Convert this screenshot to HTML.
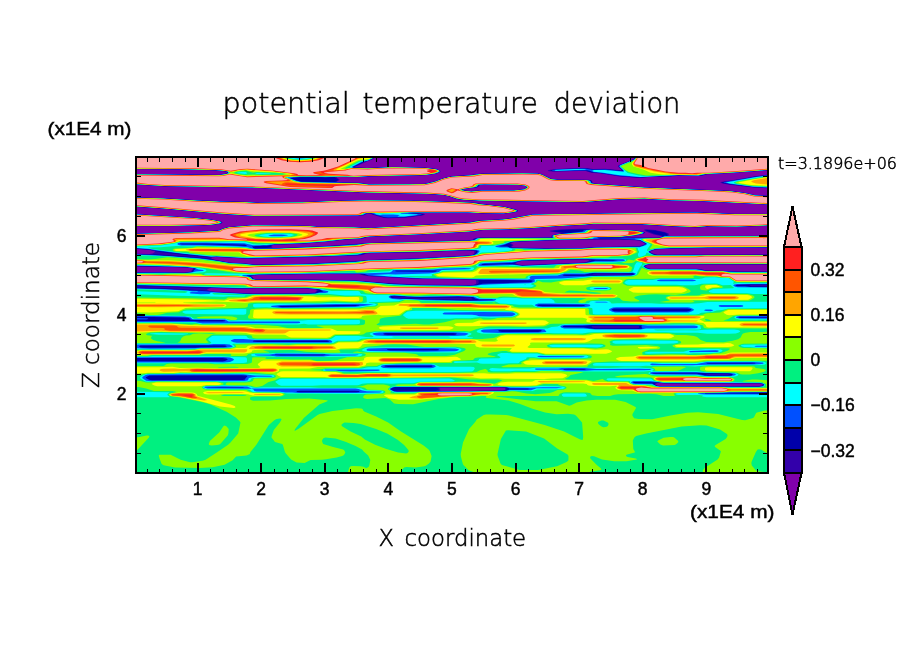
<!DOCTYPE html>
<html><head><meta charset="utf-8"><title>potential temperature deviation</title>
<style>
html,body{margin:0;padding:0;background:#fff;width:904px;height:654px;overflow:hidden}
svg{display:block}
text{font-family:"Liberation Sans",sans-serif;fill:#000}
</style></head><body>
<svg width="904" height="654" viewBox="0 0 904 654" shape-rendering="crispEdges">
<g id="plot"><defs><clipPath id="pc"><rect x="137" y="158" width="630" height="314"/></clipPath></defs><g clip-path="url(#pc)" shape-rendering="auto"><rect x="135" y="156" width="634" height="318" fill="#8000aa"/>
<path fill="#3300aa" fill-rule="evenodd" d="M135.6 156.1 374.5 156.1 374.4 157.6 373.1 158.9 354.5 167.1 367.1 167.9 392.1 166.8 425.1 167.5 436.6 168.9 440.1 170.5 440.6 171.6 438.6 172.9 435.1 173.9 427.6 175.0 421.1 175.5 368.1 176.6 358.1 177.3 337.2 177.1 336.6 177.6 339.7 179.6 339.6 180.1 337.0 181.6 337.0 182.1 360.1 182.8 369.6 184.2 424.6 183.7 433.7 181.6 445.6 177.4 453.1 176.0 469.9 175.1 476.1 173.9 482.1 173.5 522.6 173.0 538.1 173.3 542.1 174.3 551.6 178.8 557.1 179.4 583.1 179.5 589.1 179.8 591.7 180.6 592.9 183.1 595.0 183.6 644.1 187.2 730.6 190.8 745.6 192.8 755.1 195.1 768.6 195.7 768.6 204.8 693.6 201.1 672.6 200.8 644.6 199.0 618.6 199.6 584.1 202.5 480.1 201.0 462.6 200.0 456.1 198.9 449.5 196.6 442.8 195.1 426.6 194.1 369.1 193.0 257.1 188.1 164.1 186.5 135.1 184.7 135.1 174.0 219.6 174.7 226.2 173.6 227.1 172.6 226.9 172.1 225.7 171.6 216.1 170.6 179.1 169.5 135.1 169.3 135.1 156.1ZM480.0 185.1 479.0 186.6 477.1 187.5 466.8 188.6 462.6 189.6 463.0 190.1 465.0 190.6 470.6 191.1 480.6 190.3 504.6 190.5 514.6 190.2 523.7 189.1 525.9 188.1 526.5 187.1 525.0 186.1 523.3 185.6 517.6 185.1 485.6 184.8ZM635.6 156.1 768.6 156.1 768.6 170.3 733.6 172.9 707.1 174.4 703.1 175.5 699.1 176.0 679.6 175.7 670.1 176.4 650.1 177.0 639.6 178.0 619.1 176.4 601.1 173.5 591.1 172.7 585.6 171.0 579.1 170.9 554.6 171.6 548.6 171.2 547.6 170.6 549.1 170.0 556.1 168.9 581.1 168.1 586.6 168.1 593.1 169.0 605.1 168.8 621.1 170.2 621.2 169.6 618.1 166.6 618.3 165.6 633.7 159.1 634.9 158.1 635.2 156.1ZM764.1 175.1 768.6 174.7 768.6 188.3 753.1 187.5 729.6 184.7 722.1 183.4 720.3 182.6 720.7 182.1 722.6 181.7 742.6 178.6 755.1 176.2ZM135.6 197.2 162.6 198.0 196.6 200.2 219.6 201.2 246.6 201.8 256.6 202.4 301.6 202.0 340.6 200.5 368.1 200.0 415.1 200.5 470.6 202.3 476.6 202.8 482.9 204.1 491.1 204.8 505.6 206.8 516.6 209.7 518.1 210.6 518.2 211.1 517.1 211.8 515.1 212.3 503.6 213.8 481.6 213.5 469.1 212.8 418.6 213.1 418.1 213.1 424.1 213.8 425.2 214.6 422.6 215.5 405.6 217.7 388.1 218.3 383.6 217.9 372.6 214.8 369.9 213.6 368.6 213.5 367.6 213.6 364.1 215.3 358.1 215.8 253.6 216.2 219.6 213.9 166.4 209.1 135.1 206.8 135.1 197.2ZM666.1 212.6 698.1 212.2 734.6 213.7 768.6 213.7 768.6 225.8 737.1 227.0 707.1 226.7 700.1 227.5 695.6 227.5 671.6 226.5 642.1 224.6 593.6 224.1 585.6 225.0 562.6 226.1 530.6 228.5 504.1 229.8 483.6 230.1 471.6 231.8 418.1 234.7 370.1 236.9 367.6 237.1 363.1 238.4 346.9 239.6 325.1 241.9 306.6 243.4 273.6 245.1 272.1 245.6 272.2 246.6 271.6 247.6 273.6 248.0 279.1 248.0 324.6 246.1 371.6 242.8 469.6 240.2 472.8 239.6 473.8 238.6 475.1 238.0 480.1 237.5 550.1 237.4 551.5 237.1 551.2 236.1 552.1 235.2 560.3 233.6 561.2 233.1 551.1 231.7 549.4 231.1 550.4 230.6 559.6 229.6 579.6 228.8 634.6 230.3 644.1 231.7 645.1 232.1 645.3 232.6 644.6 233.3 643.1 233.9 636.1 235.5 623.1 237.1 625.6 237.6 658.1 237.6 660.6 237.3 661.7 236.6 661.1 236.0 653.6 234.4 645.6 231.4 644.0 230.1 644.6 229.5 646.1 229.2 655.1 230.1 664.6 232.0 668.5 233.6 669.0 234.1 668.2 235.6 670.1 235.9 768.6 235.7 768.6 247.9 708.1 248.0 671.1 248.7 655.6 249.5 650.3 251.6 650.6 252.4 653.0 253.6 657.1 254.6 768.6 254.6 768.6 264.4 651.1 264.4 647.6 265.1 645.4 266.1 645.1 266.6 647.7 268.1 650.6 268.8 697.1 268.8 702.1 269.3 705.1 270.3 708.1 270.6 722.6 270.7 737.1 271.4 768.6 271.4 768.6 473.6 135.1 473.6 135.1 272.1 164.1 272.1 184.6 272.5 191.3 271.6 191.8 270.1 193.2 269.1 193.1 268.6 191.6 268.3 184.6 267.5 135.1 266.4 135.1 253.8 149.6 254.1 152.6 253.4 154.9 252.1 154.9 251.6 154.2 251.1 149.1 249.9 135.1 248.8 135.1 233.5 190.1 231.9 217.1 230.4 219.1 230.1 222.6 228.5 228.6 226.9 252.6 224.9 300.6 225.5 310.1 225.8 317.1 226.5 353.6 227.0 370.6 227.7 470.1 222.1 475.1 220.9 478.6 220.5 503.6 219.1 511.9 218.1 532.6 214.3ZM582.9 239.6 530.3 241.1 513.8 242.1 510.6 243.1 513.5 245.1 513.3 245.6 511.8 246.6 511.9 247.1 513.1 247.4 545.1 248.1 582.6 248.0 594.6 246.9 638.6 246.2 643.6 244.7 644.7 244.1 644.8 243.6 639.7 240.6 635.1 240.2 618.1 239.6ZM465.8 250.6 411.6 252.5 370.6 253.2 366.1 253.6 363.1 254.9 358.1 255.5 316.6 256.9 247.1 258.7 215.6 257.0 212.1 257.5 211.2 258.1 211.6 258.8 214.0 259.6 229.6 262.4 246.6 263.4 254.6 264.4 306.1 263.8 354.6 261.1 368.1 259.9 416.6 258.3 466.6 255.6 471.5 255.1 473.1 254.6 473.7 254.1 474.5 252.1 474.1 251.1 472.6 250.7ZM576.9 259.6 521.6 261.1 519.1 261.6 515.6 263.1 517.0 264.1 522.1 265.1 583.6 262.5 586.4 262.1 589.0 260.6 588.7 260.1 586.6 259.6ZM324.6 274.1 258.6 275.1 252.3 275.6 251.1 276.1 252.6 277.2 254.1 279.1 256.6 279.4 311.1 279.6 354.1 280.3 386.4 283.1 420.1 284.6 470.6 285.1 473.6 284.8 475.5 284.1 476.1 283.6 476.3 282.6 476.1 280.6 475.0 280.1 472.1 279.8 415.6 278.8 369.1 276.3 364.6 275.7 359.1 274.2ZM211.0 288.1 207.8 289.1 207.3 289.6 207.4 290.1 210.1 291.1 213.8 291.6 252.6 293.5 309.6 293.1 315.4 292.6 316.0 291.1 317.2 290.1 315.1 289.4 305.1 288.5 256.1 288.4 242.6 288.9ZM658.0 383.1 656.1 383.7 655.4 384.1 655.4 384.6 657.1 385.6 660.1 386.0 733.1 386.1 759.3 386.1 761.8 385.6 762.9 384.6 760.8 383.6 758.6 383.5 664.6 383.5ZM439.8 387.6 439.3 388.1 440.3 389.1 439.2 390.6 441.6 391.0 470.1 391.0 481.1 390.6 502.6 390.5 505.2 390.1 504.8 389.1 505.2 388.1 504.6 387.6 503.1 387.5ZM135.6 214.0 196.6 217.8 211.1 219.4 220.6 221.3 222.1 221.9 222.6 222.6 221.6 223.4 219.6 223.9 211.6 225.0 204.6 225.5 169.6 226.3 135.1 226.3 135.1 214.0Z"/>
<path fill="#0000aa" fill-rule="evenodd" d="M135.6 156.1 374.1 156.1 373.9 157.6 372.6 158.9 364.2 162.1 353.4 167.1 354.9 167.6 367.1 168.1 392.1 167.0 425.6 167.7 436.1 169.1 439.6 170.5 440.2 171.6 438.1 172.8 434.6 173.8 426.6 174.9 420.6 175.3 393.6 176.1 378.6 176.1 358.6 177.0 336.6 176.9 335.3 177.1 334.9 177.6 338.5 179.6 338.3 180.1 335.5 181.6 335.4 182.1 338.5 182.6 359.6 183.0 369.1 184.4 424.1 183.9 434.4 181.6 443.1 178.4 452.1 176.3 470.1 175.3 481.6 173.7 522.1 173.2 537.6 173.4 541.6 174.4 550.0 178.6 551.8 179.1 557.1 179.7 587.1 179.9 590.8 180.6 591.4 181.1 592.0 183.1 595.1 183.8 649.6 187.6 730.1 191.0 744.6 192.9 755.1 195.3 768.6 195.9 768.6 204.6 700.1 201.1 672.1 200.5 644.6 198.8 619.1 199.4 583.6 202.3 480.6 200.8 463.6 199.9 457.1 198.9 450.2 196.6 443.6 195.1 426.6 193.9 369.6 192.8 249.7 187.6 164.6 186.3 135.1 184.5 135.1 174.2 192.6 174.4 219.1 174.9 226.1 173.8 227.1 173.4 227.6 172.6 227.5 172.1 226.6 171.6 221.1 170.7 209.1 170.1 179.1 169.3 135.1 169.1 135.1 156.1ZM481.3 184.6 479.0 185.1 478.1 186.6 476.6 187.3 465.3 188.6 461.9 189.6 462.3 190.1 464.1 190.6 470.6 191.3 481.1 190.5 504.6 190.7 514.1 190.4 524.1 189.2 526.3 188.1 526.9 187.1 524.1 185.6 517.6 184.9ZM635.6 156.1 768.6 156.1 768.6 170.1 732.6 172.8 706.6 174.1 702.6 175.3 698.6 175.8 678.6 175.5 669.6 176.2 650.1 176.7 639.6 177.7 620.1 176.2 600.6 173.1 592.1 172.4 586.1 170.7 555.6 171.3 552.1 171.2 549.8 170.6 556.1 169.2 581.6 168.3 586.6 168.5 592.6 169.3 605.1 169.1 621.6 170.7 622.1 170.6 622.2 170.1 618.6 166.6 618.9 165.6 634.1 159.2 635.3 158.1ZM767.1 175.1 768.6 175.0 768.6 188.0 754.1 187.3 729.1 184.3 722.6 183.1 721.6 182.6 723.1 182.0 743.6 178.8 755.1 176.6ZM135.6 197.4 163.1 198.2 202.6 200.6 246.1 202.0 256.1 202.7 302.1 202.2 332.6 200.9 367.6 200.2 415.6 200.7 470.1 202.4 476.1 203.0 481.1 204.1 504.6 206.9 516.1 209.8 517.6 210.6 517.6 211.1 515.6 212.0 503.6 213.6 481.6 213.3 469.6 212.6 414.1 212.8 411.6 213.1 422.1 213.9 424.1 214.6 421.6 215.3 405.6 217.3 388.1 217.9 384.1 217.6 369.1 213.2 366.3 213.6 364.1 214.9 358.6 215.5 253.1 216.0 220.1 213.8 162.8 208.6 135.1 206.6 135.1 197.4ZM689.1 212.6 699.1 212.5 735.1 213.9 768.6 213.9 768.6 225.6 736.6 226.8 706.6 226.5 699.6 227.3 695.6 227.3 672.1 226.3 641.6 224.4 593.6 223.9 585.1 224.8 559.0 226.1 530.6 228.3 504.6 229.5 484.1 229.9 480.1 230.2 474.1 231.3 468.1 231.8 418.6 234.5 370.0 236.6 366.6 237.1 364.1 238.0 361.1 238.4 344.6 239.6 323.1 241.8 303.1 243.4 273.1 244.8 271.1 245.3 270.7 245.6 271.0 246.6 270.1 247.2 266.7 248.1 279.6 248.3 330.1 246.1 372.1 243.0 469.1 240.5 472.7 240.1 475.6 238.4 480.1 237.7 551.1 237.6 552.4 237.1 551.7 236.1 553.1 235.1 566.0 233.1 554.4 231.6 552.8 231.1 559.9 230.1 580.1 229.4 630.1 230.2 637.6 230.9 643.6 232.0 644.6 232.6 644.3 233.1 642.6 233.8 634.6 235.5 619.6 237.3 612.1 237.6 614.1 237.8 658.6 237.8 661.6 237.2 662.7 236.1 661.6 235.4 654.7 234.1 647.1 231.1 645.5 230.1 646.6 229.9 654.9 230.6 664.6 232.6 667.7 234.1 666.7 235.6 669.1 236.2 768.6 235.9 768.6 247.6 708.1 247.7 670.6 248.5 655.6 249.3 651.4 250.6 649.6 251.6 650.3 252.6 653.3 254.1 657.1 254.9 768.6 254.8 768.6 264.2 651.1 264.1 647.9 264.6 645.5 265.6 644.5 266.6 647.1 268.2 650.6 269.0 696.6 269.1 700.1 269.4 704.9 270.6 707.1 270.8 722.6 270.9 737.1 271.7 768.6 271.7 768.6 285.0 751.1 285.1 749.1 285.6 751.1 286.2 768.6 286.2 768.6 473.6 135.1 473.6 135.1 287.4 165.6 288.2 188.6 289.4 204.6 290.4 210.6 291.6 215.1 292.0 252.1 293.8 300.1 293.7 314.6 293.1 316.7 292.6 317.3 291.1 319.1 290.1 315.6 289.1 305.1 288.2 256.1 288.1 242.6 288.5 213.1 287.7 205.6 288.3 160.6 286.6 135.1 286.1 135.1 272.4 164.6 272.4 185.1 272.8 192.1 271.7 192.7 270.1 194.3 269.1 194.3 268.6 192.6 268.1 184.6 267.2 135.1 266.1 135.1 254.1 148.6 254.5 155.6 254.2 197.1 257.3 209.1 258.7 214.9 260.1 229.6 262.7 246.1 263.7 256.6 264.8 311.6 263.8 355.1 261.4 368.1 260.2 416.6 258.6 462.6 256.1 472.9 255.1 474.8 254.1 476.2 251.6 475.8 251.1 473.6 250.4 466.6 250.3 421.1 252.0 370.6 252.9 365.6 253.3 361.1 254.8 357.1 255.3 247.6 258.4 216.1 256.8 209.1 257.3 184.6 254.9 159.6 251.9 148.6 249.5 135.1 248.5 135.1 233.7 190.1 232.2 217.6 230.6 219.6 230.2 223.6 228.4 229.1 227.0 252.6 225.2 300.6 225.7 310.1 226.0 316.6 226.7 354.1 227.2 366.6 228.0 371.1 227.9 470.1 222.3 478.1 220.8 499.7 219.6 509.5 218.6 533.1 214.4 555.6 213.9 584.1 213.9 598.6 213.4ZM568.5 239.6 516.1 241.7 511.1 242.4 509.4 243.1 509.3 243.6 512.2 245.1 510.5 246.6 510.6 247.1 512.6 247.7 545.6 248.4 583.1 248.3 594.6 247.2 638.6 246.5 640.6 246.2 643.6 245.2 645.1 244.4 645.5 243.6 640.1 240.4 635.1 239.9 617.6 239.2ZM561.5 259.6 521.1 260.9 516.1 262.2 514.5 263.1 514.7 263.6 516.1 264.3 519.6 265.2 522.1 265.4 584.6 262.7 589.6 261.7 591.4 260.6 591.4 260.1 590.4 259.6 586.1 259.2ZM300.0 274.1 258.6 274.8 250.1 275.5 248.9 276.1 251.7 277.1 253.2 279.1 256.1 279.6 311.1 279.8 354.1 280.6 389.6 283.6 420.1 284.9 471.6 285.4 476.6 284.6 478.4 283.6 478.7 282.6 478.6 280.6 478.0 280.1 475.1 279.6 459.1 279.1 423.1 278.8 410.6 278.3 369.6 276.0 360.1 273.9ZM592.7 274.1 592.6 274.6 594.1 274.7 606.6 274.8 624.1 274.8 630.6 274.6 632.3 274.1 619.1 273.6 597.1 273.6ZM392.8 296.6 392.2 297.1 394.6 297.6 425.6 298.9 469.6 299.8 472.5 299.6 472.6 299.1 470.6 297.6 468.6 297.5 420.1 297.9ZM592.2 326.1 591.5 326.6 592.2 327.6 595.1 328.2 637.1 328.2 638.6 328.1 639.1 327.6 639.0 326.1 637.6 326.0ZM706.5 374.1 706.3 374.6 709.6 375.0 727.6 375.0 730.2 374.6 728.1 374.1ZM655.8 383.1 654.5 384.1 655.2 385.1 657.6 386.1 660.1 386.3 758.6 386.4 761.6 386.0 763.4 385.1 763.5 384.6 761.6 383.6 758.6 383.2 664.6 383.2 658.1 382.7ZM395.5 387.6 398.1 387.6ZM436.0 387.6 438.6 388.8 439.0 389.1 438.8 389.6 435.6 390.5 394.6 390.6 398.1 391.0 435.6 390.7 443.1 391.3 503.1 390.8 505.5 390.6 506.4 390.1 506.0 389.1 506.5 388.1 506.2 387.6 505.1 387.4 499.1 387.2 442.1 387.2ZM135.6 214.2 195.1 217.9 212.1 219.8 220.1 221.4 221.8 222.1 222.0 222.6 221.1 223.3 218.6 223.8 211.1 224.9 204.1 225.3 169.6 226.1 135.1 226.1 135.1 214.2Z"/>
<path fill="#0050ff" fill-rule="evenodd" d="M135.6 156.1 373.7 156.1 373.5 157.6 372.1 158.8 367.6 160.7 362.5 162.1 352.5 167.1 353.0 167.6 354.1 167.7 367.1 168.2 392.1 167.2 425.6 167.9 436.1 169.2 439.4 170.6 439.8 171.6 438.6 172.4 435.1 173.5 426.6 174.8 420.6 175.1 368.6 176.2 357.6 176.9 339.6 176.6 325.6 177.3 316.1 176.8 300.1 177.0 289.5 178.1 296.1 180.6 301.6 181.8 358.6 183.1 369.1 184.6 423.6 184.1 427.1 183.7 433.2 182.1 443.6 178.4 452.6 176.4 469.6 175.5 482.1 173.9 522.6 173.3 538.1 173.7 540.1 174.0 543.6 175.4 551.1 179.2 557.1 179.8 586.6 180.0 590.1 180.7 590.7 181.1 591.3 183.1 592.1 183.5 595.6 184.0 644.6 187.6 726.6 190.9 744.1 193.0 755.6 195.5 768.6 196.1 768.6 204.4 693.1 200.7 672.1 200.4 644.6 198.7 619.1 199.2 583.1 202.1 480.1 200.6 464.1 199.8 457.1 198.7 449.1 196.1 443.1 194.8 426.1 193.7 360.6 192.3 252.1 187.5 164.6 186.1 135.1 184.3 135.1 174.3 219.1 175.1 225.8 174.1 227.4 173.6 228.1 172.6 228.0 172.1 227.3 171.6 225.0 171.1 215.6 170.2 179.1 169.2 135.1 168.9 135.1 156.1ZM479.6 184.6 478.3 185.1 477.4 186.6 476.3 187.1 464.6 188.6 461.3 189.6 461.7 190.1 464.6 190.9 471.1 191.5 481.1 190.6 514.1 190.6 523.6 189.5 526.6 188.2 527.2 187.1 525.9 186.1 524.1 185.4 517.1 184.7ZM636.1 156.1 768.6 156.1 768.6 169.9 736.6 172.4 706.1 174.0 698.6 175.6 678.6 175.3 650.1 176.5 639.6 177.3 619.1 175.7 601.6 172.9 592.7 172.1 589.6 170.7 587.1 170.3 556.1 171.0 551.9 170.6 552.7 170.1 556.1 169.5 582.1 168.6 586.1 168.8 592.1 169.7 605.6 169.5 622.6 171.2 623.1 170.6 622.8 170.1 619.1 166.6 619.5 165.6 634.1 159.5 635.6 158.1 635.8 156.1ZM765.1 175.6 768.6 175.4 768.6 187.7 754.1 187.0 730.4 184.1 723.2 182.6 724.5 182.1 754.6 177.0ZM135.6 197.6 163.1 198.4 197.1 200.6 220.1 201.6 246.6 202.2 256.1 202.8 302.1 202.3 340.1 200.9 366.6 200.3 415.1 200.8 463.1 202.4 473.6 202.9 480.1 204.2 504.1 207.0 515.6 209.9 517.1 210.6 517.2 211.1 515.1 211.9 503.6 213.4 481.6 213.1 469.6 212.4 409.1 212.6 407.3 213.1 422.2 214.6 420.5 215.1 405.1 217.0 388.1 217.5 383.8 217.1 374.7 214.6 371.6 213.3 369.1 213.0 366.1 213.4 363.6 214.8 358.1 215.4 253.6 215.9 219.1 213.5 164.7 208.6 135.1 206.4 135.1 197.6ZM691.6 212.6 735.1 214.1 768.6 214.1 768.6 225.4 736.6 226.6 706.6 226.3 695.6 227.1 671.6 226.1 641.6 224.2 594.1 223.7 585.1 224.6 559.1 226.0 525.6 228.4 504.6 229.4 484.1 229.7 479.1 230.1 471.6 231.4 418.6 234.4 370.1 236.5 366.6 236.8 360.6 238.3 345.1 239.3 326.1 241.4 302.6 243.2 274.1 244.4 266.6 245.7 263.1 245.5 259.6 246.1 255.6 245.9 251.7 246.6 252.6 247.1 253.1 248.1 254.7 248.6 279.6 248.5 334.6 246.1 371.6 243.2 469.6 240.7 474.1 240.1 476.3 238.6 480.6 237.9 551.6 237.8 553.2 237.6 552.1 236.1 552.6 235.5 554.1 235.1 559.1 234.2 570.7 233.1 573.6 232.5 581.6 231.8 582.6 231.6 583.5 230.6 584.6 230.1 588.6 229.7 630.1 230.4 636.6 230.9 643.1 232.1 644.0 232.6 643.7 233.1 642.1 233.7 634.6 235.4 621.1 236.9 597.0 237.6 597.7 238.1 599.6 238.4 658.6 238.0 661.2 237.6 664.6 235.8 671.1 236.4 768.6 236.1 768.6 247.4 707.6 247.5 670.6 248.2 655.6 249.0 651.1 250.4 649.0 251.6 649.6 252.6 652.1 254.0 654.6 254.9 656.6 255.2 768.6 255.0 768.6 264.0 651.1 263.9 647.1 264.6 644.8 265.6 644.0 266.6 645.1 267.6 647.6 268.7 650.6 269.3 696.1 269.3 699.1 269.5 703.5 270.6 707.1 271.0 722.1 271.0 737.1 272.0 768.6 272.0 768.6 284.2 750.6 284.2 737.1 284.8 735.8 285.1 735.4 285.6 737.1 286.2 745.1 286.3 750.6 286.9 768.6 287.0 768.6 316.9 738.4 317.1 738.9 317.6 740.1 317.7 768.6 317.7 768.6 392.5 727.6 392.5 722.6 393.0 706.1 393.1 705.2 393.1 704.8 393.6 768.6 393.8 768.6 473.6 135.1 473.6 135.1 361.3 222.6 361.4 225.0 361.1 227.9 359.6 226.4 358.6 222.6 358.0 135.1 358.1 135.1 321.0 193.6 321.0 199.6 321.5 222.1 321.5 224.6 321.3 225.1 321.1 225.2 320.6 222.6 320.1 192.6 320.0 190.1 319.4 189.0 318.1 185.1 317.6 135.1 316.8 135.1 288.2 165.1 289.0 206.6 291.3 215.6 292.3 251.1 294.0 309.6 293.7 315.6 293.4 319.1 292.2 324.4 291.6 323.1 291.4 320.0 289.6 317.6 289.1 305.6 288.0 262.1 287.9 242.1 288.3 135.1 285.3 135.1 272.7 164.6 272.6 185.1 273.0 192.4 272.1 193.4 271.6 194.0 270.1 195.6 269.1 195.5 268.6 193.6 268.0 184.6 267.0 135.1 265.8 135.1 254.4 155.1 255.0 200.1 258.3 209.6 259.5 230.1 263.0 245.6 263.9 256.6 265.0 311.6 264.1 355.1 261.7 368.6 260.4 409.1 259.1 463.1 256.3 471.6 255.6 473.9 255.1 476.0 254.1 477.8 251.6 477.6 251.1 476.6 250.5 472.1 250.0 411.6 252.0 370.6 252.7 364.8 253.1 360.1 254.6 356.6 255.0 247.6 258.2 216.1 256.5 210.6 256.7 173.6 252.8 157.1 250.8 148.6 249.2 135.1 248.2 135.1 233.8 190.1 232.3 217.6 230.8 219.6 230.4 222.6 228.9 228.6 227.3 252.6 225.3 300.6 225.8 310.1 226.2 316.6 226.8 354.1 227.4 368.1 228.1 469.6 222.5 478.6 220.9 501.9 219.6 510.8 218.6 532.6 214.6ZM590.7 239.1 558.1 239.7 515.1 241.5 510.7 242.1 504.1 245.0 499.1 246.1 501.0 246.6 507.1 246.6 510.6 247.7 513.6 248.1 545.1 248.7 582.1 248.5 594.6 247.5 639.1 246.8 643.1 245.8 646.1 244.1 646.1 243.6 644.9 242.6 640.6 240.3 638.6 239.8 618.1 238.7 600.1 238.7ZM180.3 243.6 179.8 244.1 182.1 244.6 214.6 244.8 245.6 246.0 247.2 245.6 244.9 244.6 242.6 244.4 206.6 243.6ZM577.0 259.1 521.6 260.6 511.6 262.9 485.1 263.8 482.4 264.1 481.4 264.6 481.9 265.1 485.1 265.1 503.6 264.3 512.6 264.2 522.1 265.7 584.6 263.0 589.1 262.3 595.1 260.8 613.1 260.7 618.1 260.1 596.6 259.8 586.6 258.9ZM396.1 270.6 394.5 271.1 396.6 271.4 420.6 271.7 435.1 271.7 437.1 271.1 436.1 270.6 433.6 270.4ZM592.4 273.1 584.6 274.5 564.6 274.5 562.5 275.1 563.6 275.8 566.1 276.0 623.6 275.5 632.1 275.2 634.2 274.6 634.6 274.1 633.6 273.4 632.1 273.1ZM323.6 273.6 258.6 274.6 246.7 275.6 246.9 276.1 251.1 277.3 252.6 279.2 255.1 279.7 311.1 280.1 354.1 280.8 389.1 283.9 420.6 285.2 471.6 285.7 476.6 285.2 482.6 283.8 528.6 282.3 531.1 282.1 533.0 281.1 532.1 280.4 530.6 280.2 483.6 279.9 459.6 278.8 415.6 278.2 373.6 276.0 368.6 275.4 364.6 273.9 360.6 273.6ZM391.1 296.1 390.0 297.1 391.8 298.1 401.1 298.8 470.1 300.7 493.0 300.1 492.2 299.6 479.1 299.4 475.1 298.4 473.1 297.1 470.1 296.8 458.6 296.6 420.1 297.1 394.1 295.8ZM539.3 304.6 537.4 305.1 537.3 305.6 538.6 306.1 542.6 306.2 581.6 306.2 583.9 306.1 585.1 305.6 584.1 305.0 577.1 304.8ZM337.6 305.1 280.6 306.1 277.7 306.6 281.0 307.1 286.6 307.1 333.6 306.6 355.5 306.1 359.0 305.6 359.7 305.1ZM613.9 308.6 611.6 309.6 611.6 310.1 614.1 311.2 618.6 311.4 686.6 311.4 689.1 311.1 691.4 310.1 691.4 309.6 690.5 309.1 687.1 308.4ZM591.9 325.1 582.6 325.7 565.1 325.8 563.2 326.1 562.7 326.6 563.4 327.1 565.1 327.3 583.6 327.5 594.6 328.9 639.1 329.0 642.1 328.7 642.4 328.1 641.3 327.1 642.1 325.6 640.1 325.3ZM499.5 330.1 498.3 330.6 498.2 331.1 499.1 331.6 502.1 332.0 538.1 331.9 540.8 331.6 541.7 331.1 541.7 330.6 540.6 330.1 538.1 329.9ZM385.1 333.1 383.4 333.6 383.2 334.1 384.6 334.8 388.1 335.0 453.1 335.0 455.6 334.7 456.8 334.1 456.6 333.6 455.6 333.3 453.1 333.1ZM254.3 340.6 252.7 341.1 253.6 341.7 257.6 341.9 327.1 341.9 329.6 341.6 328.1 340.7 326.6 340.6ZM140.5 345.6 139.3 346.1 139.1 346.6 140.6 347.4 143.1 347.7 195.6 347.7 201.1 347.2 224.1 347.2 226.7 346.6 226.6 346.1 225.5 345.6 222.6 345.3ZM388.0 349.1 386.9 349.6 387.2 350.1 390.6 350.6 436.1 350.6 438.6 350.2 439.1 349.6 437.9 349.1 436.1 349.0ZM275.3 354.6 274.5 355.1 280.6 355.5 322.6 355.5 325.7 355.1 324.9 354.6 322.6 354.5ZM706.7 363.1 706.8 363.6 709.1 363.7 751.1 363.7 755.0 363.6 755.7 363.1 752.6 362.8ZM385.7 365.6 384.4 366.1 384.7 366.6 388.1 367.1 429.6 367.1 432.1 366.7 432.7 366.1 431.7 365.6 429.6 365.5ZM563.1 369.1 564.1 369.7 568.6 369.8 583.6 369.8 585.5 369.6 585.6 369.1 568.6 368.8ZM652.1 373.1 653.0 373.6 655.1 373.7 697.1 373.8 705.1 375.6 708.1 375.8 729.1 375.8 731.6 375.4 732.8 374.6 732.5 374.1 731.0 373.6 728.1 373.3 693.1 372.8ZM149.4 375.6 146.2 377.1 145.7 377.6 145.9 378.1 149.1 379.8 152.1 380.2 242.9 380.1 245.0 379.6 245.7 378.1 247.3 376.6 247.3 376.1 246.1 375.6 241.6 375.3ZM634.3 382.1 632.9 382.6 633.5 383.1 635.6 383.3 652.1 383.4 656.1 385.9 659.6 386.5 759.1 386.7 762.1 386.2 763.6 385.4 764.1 384.6 762.1 383.4 759.1 382.9 664.1 382.9 657.1 382.2ZM219.2 387.1 208.1 387.3 206.7 387.6 244.8 387.6 242.6 387.1ZM394.8 387.1 390.9 388.6 390.4 389.1 390.6 389.6 394.1 391.3 396.6 391.6 469.6 391.5 481.1 391.0 504.1 391.0 506.6 390.7 509.6 389.4 527.6 389.5 530.2 389.1 527.6 388.6 509.6 388.5 506.1 387.2 503.6 387.0ZM297.0 391.1 296.4 391.6 297.1 392.1 299.6 392.2 356.1 392.2 358.9 392.1 359.9 391.6 358.6 391.1 354.6 390.8 300.1 390.8ZM135.6 214.3 194.1 217.9 211.6 219.9 219.6 221.5 221.3 222.1 221.6 222.6 220.6 223.2 217.6 223.8 210.6 224.8 204.6 225.1 169.6 225.9 135.1 225.9 135.1 214.3ZM135.6 318.1 146.6 318.2 148.1 318.6 148.1 319.1 146.1 319.6 135.1 319.6 135.1 318.1Z"/>
<path fill="#00ffff" fill-rule="evenodd" d="M135.6 156.1 292.2 156.1 292.6 157.6 293.8 158.1 300.1 158.5 306.2 158.1 307.4 157.6 307.8 156.1 373.4 156.1 373.2 157.6 372.0 158.6 367.6 160.4 361.6 161.8 351.4 167.1 351.9 167.6 353.6 167.9 367.1 168.4 392.1 167.3 425.1 168.0 436.1 169.4 439.0 170.6 439.4 171.6 437.6 172.6 434.6 173.4 426.1 174.7 420.6 175.0 368.1 176.0 357.1 176.8 346.1 176.5 324.1 176.8 316.6 176.5 300.1 176.6 287.1 177.6 296.2 181.1 301.1 182.2 358.1 183.3 368.6 184.7 408.6 184.5 425.4 184.1 435.1 181.7 442.6 178.9 450.1 176.9 470.1 175.6 480.6 174.1 522.1 173.5 537.6 173.8 542.1 175.0 551.1 179.3 557.1 180.0 586.1 180.1 590.0 181.1 590.7 183.1 591.6 183.6 594.7 184.1 644.1 187.7 730.1 191.3 745.1 193.3 755.1 195.6 768.6 196.2 768.6 204.3 693.6 200.5 672.1 200.2 644.6 198.5 619.1 199.1 583.6 202.0 480.6 200.5 463.1 199.5 456.6 198.4 449.7 196.1 442.8 194.6 426.6 193.6 369.6 192.5 252.1 187.4 164.6 186.0 135.1 184.1 135.1 174.5 219.6 175.2 226.5 174.1 227.9 173.6 228.6 172.6 227.8 171.6 225.9 171.1 216.1 170.0 179.1 169.0 135.1 168.8 135.1 156.1ZM478.6 184.6 477.7 185.1 476.7 186.6 475.2 187.1 464.6 188.4 460.9 189.6 461.2 190.1 464.9 191.1 471.1 191.7 481.1 190.8 514.1 190.7 523.9 189.6 527.0 188.1 527.5 187.1 524.6 185.4 517.6 184.6 484.6 184.3ZM636.1 156.1 768.6 156.1 768.6 169.8 733.1 172.4 705.6 173.9 698.1 175.4 678.6 175.1 640.1 176.9 618.1 175.1 601.6 172.4 593.6 171.7 592.3 170.6 594.6 170.1 604.6 169.9 623.6 171.8 624.1 171.1 623.8 170.6 620.0 167.1 619.6 166.1 621.1 165.1 634.1 159.8 635.6 158.6ZM578.1 169.1 584.6 169.0 586.5 169.6 556.6 170.7 554.9 170.6 554.8 170.1ZM764.6 176.1 768.6 175.8 768.6 187.3 753.0 186.6 730.0 183.6 725.7 182.6 756.6 177.1ZM135.6 197.7 162.6 198.5 197.1 200.7 220.1 201.7 246.1 202.3 256.1 203.0 302.1 202.5 340.6 201.0 367.1 200.5 415.1 201.0 463.1 202.5 473.1 203.0 480.1 204.3 503.6 207.1 515.1 209.9 516.7 210.6 516.7 211.1 514.6 211.8 503.6 213.3 481.6 213.0 467.6 212.3 413.1 212.3 400.3 213.1 401.6 213.7 417.8 214.6 416.9 215.1 404.1 216.6 397.8 216.6 397.8 216.1 399.5 215.6 399.3 215.1 393.2 214.6 382.6 214.4 379.6 215.1 376.8 214.6 375.5 214.1 375.3 213.6 373.6 213.1 369.1 212.8 365.8 213.1 363.0 214.6 357.6 215.2 254.1 215.7 219.6 213.4 166.1 208.6 135.1 206.3 135.1 197.7ZM666.1 213.1 697.6 212.8 734.6 214.2 768.6 214.2 768.6 225.3 736.6 226.5 706.6 226.1 695.6 227.0 672.1 226.0 642.1 224.0 593.6 223.6 585.1 224.4 559.1 225.8 530.6 228.0 504.1 229.3 484.1 229.6 468.1 231.5 418.1 234.2 370.1 236.3 366.6 236.6 360.1 238.2 345.1 239.1 323.6 241.4 303.1 242.9 274.6 244.1 266.6 244.9 253.1 245.2 244.1 243.3 206.1 242.6 181.1 242.5 178.2 243.1 177.2 244.1 178.6 245.1 181.1 245.5 201.6 245.4 238.1 246.5 247.6 247.2 252.2 248.6 255.1 249.1 279.6 248.7 335.1 246.3 356.6 244.9 364.6 243.8 371.6 243.3 469.6 240.9 474.6 240.3 477.5 238.6 481.1 238.1 552.1 238.0 554.1 237.6 552.5 236.1 554.1 235.3 559.6 234.3 584.1 232.2 586.6 230.3 590.6 229.8 629.6 230.5 636.1 231.0 643.4 232.6 643.1 233.1 641.6 233.7 633.6 235.3 619.6 236.8 598.5 237.1 593.8 237.6 593.3 238.1 593.3 238.6 590.6 238.8 557.6 239.5 513.6 241.3 510.1 241.9 503.6 244.2 495.4 246.1 495.5 246.6 496.1 246.9 499.6 247.6 507.1 247.6 512.6 248.4 545.1 249.0 581.1 248.8 595.1 247.7 630.1 247.1 639.6 247.3 645.6 245.3 646.7 244.6 647.0 243.6 640.6 239.9 634.5 239.1 635.1 238.7 659.1 238.2 665.1 236.4 693.1 236.6 708.1 236.3 768.6 236.3 768.6 247.1 707.6 247.3 670.6 248.0 655.1 248.8 650.1 250.5 648.3 251.6 648.8 252.6 652.1 254.4 654.6 255.2 656.6 255.4 768.6 255.2 768.6 263.8 650.6 263.6 646.6 264.4 644.0 265.6 643.3 266.6 646.1 268.4 650.1 269.5 696.1 269.6 706.6 271.2 722.6 271.2 728.6 271.9 736.6 272.3 768.6 272.3 768.6 283.7 737.1 283.9 734.1 284.6 733.2 285.6 735.1 286.8 737.6 287.2 768.6 287.5 768.6 316.1 739.6 316.1 737.1 316.5 736.0 317.1 736.1 317.6 736.9 318.1 739.6 318.6 768.6 318.7 768.6 345.7 757.1 345.7 754.6 346.1 754.9 346.6 756.1 346.8 768.6 346.8 768.6 392.1 728.1 392.2 722.6 392.6 706.6 392.6 698.0 393.6 698.3 394.1 706.6 394.5 768.6 394.5 768.6 473.6 135.1 473.6 135.1 362.4 207.6 362.2 224.1 362.5 230.1 362.0 233.2 360.6 234.1 359.6 232.7 358.6 230.0 357.6 223.6 357.1 135.1 357.2 135.1 348.3 150.1 348.8 195.1 348.6 201.6 347.9 225.6 347.8 231.1 347.3 232.7 346.6 232.5 346.1 229.6 344.4 224.1 343.9 213.6 343.9 208.1 344.4 135.1 344.6 135.1 321.9 194.1 321.9 202.6 323.4 297.1 323.3 299.7 323.1 300.3 322.6 299.3 321.6 297.6 321.5 230.1 321.6 228.6 321.4 225.3 319.6 223.6 319.4 193.6 319.2 192.1 318.9 190.7 317.6 189.6 317.2 185.1 316.6 135.1 315.8 135.1 288.7 165.1 289.5 188.1 290.7 192.1 291.4 197.3 291.6 198.0 292.1 191.6 292.0 189.8 292.6 189.7 293.1 190.6 293.5 200.6 294.3 209.1 294.0 210.1 293.6 210.5 292.6 213.1 292.4 248.6 294.3 300.6 294.2 315.1 293.7 319.6 292.9 325.1 292.9 327.6 292.4 328.5 291.6 327.6 291.1 323.1 290.3 319.1 289.0 306.1 287.7 242.1 287.9 135.1 284.8 135.1 273.0 164.6 272.9 184.6 273.3 191.1 272.7 196.1 271.6 202.6 271.1 203.8 270.6 203.4 270.1 198.6 269.4 195.1 267.9 185.6 266.8 135.1 265.5 135.1 254.7 168.6 256.3 200.1 258.8 211.6 260.2 230.1 263.2 245.4 264.1 252.1 265.1 256.6 265.3 312.1 264.3 355.6 262.0 368.6 260.6 409.1 259.4 463.1 256.5 471.6 255.8 474.9 255.1 477.2 254.1 479.5 251.6 479.2 250.6 477.1 249.9 465.6 249.8 421.1 251.5 370.1 252.5 362.6 253.1 357.6 254.6 333.1 255.7 247.6 257.9 216.6 256.3 211.6 256.4 184.6 253.7 156.0 250.1 148.6 248.8 135.1 247.8 135.1 234.0 190.1 232.5 217.6 230.9 219.4 230.6 223.1 228.9 228.6 227.4 252.6 225.5 300.6 226.0 310.1 226.3 316.6 227.0 353.6 227.5 366.1 228.3 370.6 228.2 470.1 222.7 479.1 221.0 503.1 219.7 511.9 218.6 532.6 214.8ZM274.0 234.6 268.3 235.6 269.3 236.1 271.1 236.3 282.1 236.2 287.4 235.6 287.9 235.1 281.6 234.6ZM560.6 259.1 521.1 260.3 515.2 261.6 511.6 262.0 484.1 262.9 480.1 263.6 478.2 265.1 478.6 265.7 481.1 266.1 514.6 265.0 522.1 266.0 585.1 263.2 595.1 261.7 612.6 261.7 622.6 261.2 624.6 260.7 625.0 260.1 624.1 259.5 622.6 259.3 605.6 258.9 586.1 258.6ZM443.4 268.6 439.6 268.7 433.6 269.5 394.6 269.9 393.1 270.1 391.1 272.0 389.6 272.4 367.6 273.3 325.6 273.2 273.1 274.0 258.1 274.3 243.6 275.1 241.8 275.6 243.1 276.1 249.7 277.1 250.9 277.6 252.1 279.3 255.6 279.9 354.1 281.1 394.1 284.5 420.1 285.5 469.6 286.0 476.1 285.8 480.6 285.0 489.1 284.4 529.1 283.2 532.1 282.7 534.6 281.7 535.0 281.1 534.2 279.6 536.1 278.9 561.1 278.5 583.1 277.1 592.6 276.0 631.1 275.7 634.3 275.1 635.8 274.1 635.6 273.6 634.6 272.9 632.6 272.5 628.6 272.8 594.6 272.6 584.6 273.6 564.2 273.6 557.6 275.5 533.1 275.7 531.3 276.1 529.4 277.1 530.3 278.6 529.6 279.1 527.6 279.4 422.6 278.2 390.1 276.6 372.8 275.1 388.6 274.3 395.1 274.5 429.1 273.4 438.1 272.3 439.7 271.6 441.1 270.3 442.6 269.9 468.6 269.3 470.5 269.1 471.0 268.6 469.1 268.2 464.6 268.1ZM657.3 280.1 657.0 280.6 658.1 281.1 660.6 281.3 692.6 281.3 694.6 281.1 695.8 280.6 695.8 280.1 695.1 279.9 692.1 279.6 660.6 279.6ZM593.9 288.1 593.4 288.6 596.1 289.1 606.1 289.1 608.1 288.6 607.4 288.1 605.6 288.0ZM390.4 295.6 389.1 296.2 388.6 297.1 390.1 298.3 392.6 299.0 400.1 299.4 405.6 299.1 425.1 300.2 479.1 301.3 493.0 301.1 495.0 300.6 496.2 299.6 495.9 299.1 494.1 298.9 479.6 298.7 477.1 298.1 473.8 296.6 471.1 296.4 458.6 296.1 419.6 296.6 407.6 296.3 394.1 295.2ZM594.0 302.1 596.6 302.6 604.1 302.6 607.1 302.5 607.9 302.1 605.1 301.7 596.6 301.8ZM538.2 303.6 535.3 304.6 535.0 305.6 537.6 306.8 542.6 307.0 584.6 307.0 589.0 306.6 590.1 306.1 590.3 305.6 589.6 304.6 585.6 304.1 550.1 303.5ZM336.7 304.1 280.1 305.0 272.6 305.8 271.2 306.1 270.8 306.6 273.1 307.2 282.1 307.9 355.1 307.1 374.0 304.6 360.1 303.8ZM720.0 305.1 718.8 305.6 718.6 306.1 719.6 306.8 721.6 307.1 740.1 307.1 742.6 306.7 743.4 306.1 742.6 305.3 740.6 304.9ZM613.0 307.6 609.5 309.1 608.9 310.1 612.1 311.8 615.1 312.5 675.6 312.5 688.6 312.4 692.1 311.3 694.1 310.1 693.6 309.2 692.1 308.4 689.6 307.5 687.6 307.3 616.6 307.2ZM705.7 309.6 704.3 310.1 704.3 310.6 706.1 311.1 710.6 311.2 712.6 310.7 713.0 310.1 710.6 309.5ZM444.3 312.6 442.6 313.6 443.1 314.2 445.1 314.6 472.1 314.7 476.1 315.2 479.1 316.2 489.6 316.5 511.6 316.2 514.6 315.1 515.7 314.1 513.0 312.6 510.6 312.3 482.1 312.1ZM592.7 324.6 564.6 324.9 561.6 325.6 560.3 326.6 561.2 327.6 564.1 328.4 583.1 328.5 595.6 329.5 640.6 329.5 646.1 328.6 655.6 328.4 694.6 328.3 697.2 328.1 697.8 327.1 697.4 326.1 694.1 325.6 647.6 325.6 640.1 324.8ZM498.7 329.1 483.6 329.6 481.7 330.1 480.7 331.1 482.1 332.1 483.6 332.4 501.1 333.0 538.6 332.8 546.2 332.1 546.2 331.6 544.6 329.6 539.6 329.0ZM378.9 332.6 374.1 333.1 372.8 333.6 372.5 334.1 374.4 335.1 376.1 335.5 387.6 336.0 454.1 336.0 465.1 335.5 468.4 334.1 468.1 333.6 465.1 332.7 453.6 332.2 387.1 332.2ZM234.3 339.1 231.7 340.1 230.9 340.6 230.9 341.1 233.6 342.3 236.6 342.7 329.1 342.8 331.6 342.6 332.4 342.1 331.7 341.1 330.2 340.1 327.6 339.7 255.1 339.7 243.1 338.9ZM387.2 348.1 368.6 348.6 367.0 349.1 366.4 350.1 367.1 350.7 370.1 351.1 423.1 351.7 455.1 351.3 456.6 351.1 458.9 350.1 458.9 349.6 458.0 349.1 455.1 348.5 436.1 348.1ZM704.6 350.6 690.6 351.0 688.7 351.6 690.1 352.2 701.1 351.9 711.1 352.1 717.1 351.9 718.4 351.6 718.8 351.1 718.1 350.6 715.6 350.2ZM276.3 353.6 269.6 354.4 256.1 354.5 255.2 354.6 254.7 355.1 257.6 355.6 270.6 355.7 276.6 356.4 291.1 356.4 323.6 356.4 330.1 355.8 355.1 355.6 358.6 355.1 358.1 354.6 356.6 354.5 331.6 354.4 322.6 353.7ZM537.7 356.1 537.4 356.6 538.6 357.1 541.1 357.3 581.6 357.3 584.1 357.1 584.6 356.6 581.1 356.2 546.6 356.1 540.1 355.7ZM706.9 362.1 696.6 363.9 661.6 363.9 652.1 363.6 650.3 364.1 650.1 364.6 652.1 365.2 692.1 365.3 706.1 364.7 753.6 364.6 762.1 363.9 763.4 363.6 763.7 363.1 762.6 362.6 754.1 361.9ZM396.2 364.6 384.1 364.9 381.8 365.6 380.7 366.6 381.6 367.3 383.6 368.0 390.6 368.3 430.6 368.3 433.6 367.8 435.8 366.6 435.7 366.1 434.0 365.1 431.1 364.6ZM561.8 368.1 558.1 368.4 537.6 368.5 535.8 368.6 534.8 369.1 535.4 369.6 536.6 369.8 558.6 369.7 566.1 370.7 585.1 370.7 594.1 370.3 644.1 370.3 650.1 370.1 651.6 369.6 649.6 369.0 639.6 368.7 596.6 368.9 584.1 368.0ZM324.9 369.6 324.2 370.1 326.1 370.5 335.6 370.5 340.6 371.2 350.6 371.4 377.1 371.0 379.1 370.8 379.8 370.1 378.9 369.6 376.6 369.4ZM652.1 372.1 650.4 372.6 649.8 373.1 650.0 373.6 652.1 374.3 656.1 374.6 696.6 374.7 704.6 376.1 708.6 376.3 730.1 376.2 734.2 375.6 736.2 374.6 734.3 373.6 729.6 373.0 706.1 372.7 696.6 371.9ZM147.7 374.6 145.7 375.1 143.9 376.1 142.5 377.1 142.2 378.1 146.1 380.7 151.1 381.3 158.6 380.9 215.6 380.9 223.6 381.3 244.1 381.1 247.4 380.6 248.1 380.1 248.6 378.6 249.2 378.1 252.6 377.2 256.6 376.8 270.6 376.8 272.0 376.6 272.6 376.1 270.6 375.7 254.6 375.4 243.6 374.2 179.6 374.2ZM633.2 381.1 631.3 382.1 631.0 382.6 631.3 383.1 633.1 383.8 636.0 384.1 652.1 384.3 656.6 386.3 659.6 386.7 759.1 387.0 762.6 386.4 764.1 385.5 764.6 384.6 762.6 383.3 759.1 382.7 664.1 382.7 650.6 381.0ZM205.6 386.6 204.4 387.1 204.3 387.6 207.1 388.6 251.6 388.7 253.5 389.6 254.4 391.1 256.5 391.6 280.1 391.7 285.1 392.5 292.1 392.6 298.1 393.1 357.6 393.1 379.6 392.6 381.8 392.1 381.3 391.6 380.1 391.5 366.6 391.2 361.6 390.3 358.6 389.0 355.6 388.6 254.1 388.6 251.6 388.4 247.1 386.6 244.6 386.4 222.6 386.2ZM392.9 387.1 390.0 388.6 389.6 389.1 389.8 389.6 394.1 391.7 397.1 392.0 504.6 391.3 510.1 390.2 531.1 390.3 536.6 388.3 556.6 388.2 562.5 387.6 557.1 387.3 542.6 387.2 530.1 387.7 510.6 387.6 505.6 386.8 496.6 386.7 395.6 386.8ZM135.6 214.5 193.6 218.1 211.1 219.9 219.4 221.6 220.8 222.1 221.1 222.6 219.6 223.3 212.6 224.4 204.1 225.0 169.6 225.8 135.1 225.8 135.1 214.5Z"/>
<path fill="#00f080" fill-rule="evenodd" d="M135.6 156.1 286.2 156.1 286.6 157.5 288.1 158.1 293.2 159.1 300.1 159.4 306.8 159.1 311.9 158.1 313.2 157.6 313.8 156.1 373.0 156.1 372.8 157.6 371.4 158.6 367.5 160.1 360.0 161.6 349.7 167.1 350.2 167.6 353.1 168.0 367.1 168.5 392.1 167.4 425.1 168.2 435.6 169.4 438.6 170.6 439.1 171.1 439.1 171.6 434.6 173.3 426.6 174.5 420.1 174.9 367.6 175.9 357.1 176.6 346.1 176.3 300.1 176.4 287.9 177.1 285.9 177.6 295.2 181.1 301.1 182.4 358.1 183.5 368.6 184.8 408.6 184.6 425.6 184.2 434.4 182.1 443.1 178.9 450.1 177.0 471.6 175.6 480.6 174.2 522.1 173.6 537.6 173.9 541.6 174.9 551.1 179.4 557.1 180.1 586.1 180.3 589.2 181.1 590.1 183.1 590.9 183.6 594.1 184.2 644.1 187.8 730.1 191.4 744.6 193.4 755.1 195.8 768.6 196.4 768.6 204.1 699.6 200.7 672.1 200.1 644.6 198.4 619.1 198.9 583.6 201.9 480.6 200.3 463.6 199.4 457.1 198.4 450.1 196.1 443.6 194.6 426.6 193.4 369.6 192.4 252.1 187.3 164.6 185.9 135.1 183.9 135.1 174.6 219.6 175.4 227.1 174.1 228.4 173.6 229.1 172.6 228.3 171.6 226.6 171.1 221.6 170.3 216.1 169.9 179.1 168.9 135.1 168.6 135.1 156.1ZM241.2 172.1 237.5 172.6 237.0 173.1 244.6 174.0 246.6 173.7 247.1 173.1 245.6 172.1ZM255.8 173.1 255.3 173.6 257.6 174.1 269.1 174.1 271.8 173.6ZM477.9 184.6 476.1 186.4 474.6 187.0 464.6 188.3 460.4 189.6 460.7 190.1 464.2 191.1 471.1 191.8 481.6 190.9 504.6 191.1 514.1 190.8 524.1 189.7 527.1 188.3 527.8 187.1 526.6 186.1 524.6 185.3 517.6 184.4 483.6 184.1ZM636.6 156.1 768.6 156.1 768.6 169.6 733.1 172.3 705.6 173.7 698.1 175.3 678.1 175.0 645.1 176.2 638.6 175.4 627.6 173.0 620.2 166.6 620.2 166.1 620.9 165.6 634.6 159.8 635.9 158.6 636.3 156.1ZM764.6 176.6 768.6 176.3 768.6 186.9 750.6 186.1 736.6 184.1 734.8 183.6 733.9 183.1 733.7 182.6 734.6 181.9 737.1 181.2ZM135.6 197.9 163.1 198.7 197.1 200.8 220.1 201.9 246.1 202.4 256.1 203.1 302.1 202.6 332.6 201.4 366.1 200.6 415.1 201.1 455.6 202.4 471.6 203.0 480.1 204.5 502.1 207.0 507.6 208.0 516.3 210.6 516.3 211.1 514.6 211.7 503.6 213.1 481.6 212.8 470.1 212.1 410.1 212.2 382.6 213.4 367.6 212.7 365.0 213.1 362.0 214.6 357.6 215.1 254.1 215.6 220.1 213.3 166.1 208.5 135.1 206.1 135.1 197.9ZM669.6 213.1 697.6 212.9 734.6 214.4 768.6 214.4 768.6 225.1 736.6 226.4 706.6 226.0 695.1 226.9 672.1 225.8 642.1 223.9 593.6 223.4 584.6 224.3 559.1 225.7 530.6 227.8 504.6 229.1 484.1 229.4 468.1 231.3 418.1 234.1 370.1 236.2 365.6 236.6 359.6 238.0 343.6 239.0 329.1 240.7 302.6 242.7 258.6 244.5 253.1 244.2 246.1 242.1 243.2 241.6 180.6 242.0 178.6 242.2 174.6 243.5 161.1 245.4 135.1 246.5 135.1 234.1 190.1 232.6 217.6 231.1 219.6 230.7 223.6 228.9 229.1 227.5 252.6 225.6 300.6 226.1 310.1 226.4 316.6 227.1 353.6 227.6 367.6 228.4 470.1 222.8 479.6 221.1 503.1 219.8 512.6 218.7 532.6 214.9ZM274.4 233.6 266.0 234.1 260.2 235.1 259.1 235.6 263.5 236.6 269.1 237.1 281.1 237.0 290.1 236.5 294.3 235.1 291.2 234.1 288.6 233.8ZM135.2 214.6 195.1 218.3 210.6 220.0 218.8 221.6 220.3 222.1 220.6 222.6 219.1 223.3 212.1 224.3 204.1 224.9 169.6 225.6 135.1 225.6ZM589.6 230.1 595.1 229.9 629.6 230.7 635.6 231.1 642.8 232.6 642.5 233.1 640.6 233.7 634.1 235.1 628.1 235.8 619.6 236.6 597.6 237.0 592.1 237.6 590.6 238.4 589.1 238.7 551.1 239.4 512.1 241.2 508.6 241.9 503.1 243.8 492.6 245.9 482.1 245.9 481.4 246.1 480.9 247.6 480.1 248.3 476.6 249.2 420.6 251.4 370.1 252.3 361.6 252.9 357.1 254.1 324.6 255.7 244.1 257.6 207.7 255.6 175.1 252.0 152.9 249.1 148.3 248.1 148.8 247.6 160.6 247.2 176.1 246.1 191.1 246.4 201.1 245.9 238.1 247.0 246.6 247.7 254.6 249.3 279.6 248.9 335.1 246.5 356.6 245.2 364.6 243.9 371.6 243.5 469.6 241.1 475.6 240.5 476.8 240.1 478.7 238.6 481.6 238.3 552.6 238.3 554.2 238.1 554.8 237.6 552.9 236.1 554.6 235.3 560.1 234.4 584.0 232.6 585.9 232.1 587.1 230.6ZM703.6 236.6 768.6 236.5 768.6 246.9 707.1 247.1 670.1 247.7 655.6 248.4 647.6 250.9 646.9 250.6 647.1 249.6 650.5 244.6 650.1 244.1 642.4 240.6 640.7 239.1 645.6 238.5 659.1 238.4 665.1 236.7ZM620.6 247.6 634.1 247.4 636.9 247.6 637.7 248.1 638.2 250.1 639.1 251.6 638.9 252.6 637.9 254.1 638.3 256.6 639.1 257.0 641.8 256.6 645.4 255.1 646.6 252.8 647.1 252.6 652.1 255.0 656.6 255.7 768.6 255.4 768.6 263.6 650.6 263.4 645.6 264.2 642.6 265.5 642.2 266.1 642.9 267.1 645.1 268.3 647.6 269.4 650.1 269.8 695.6 269.9 705.1 271.3 722.6 271.4 731.1 272.4 768.6 272.6 768.6 283.1 737.6 283.1 733.1 283.7 732.8 283.6 733.9 282.1 733.7 281.6 728.6 278.1 720.6 278.0 714.6 277.3 705.1 277.5 702.1 278.6 698.6 279.0 660.1 278.8 652.6 279.9 628.6 280.0 626.1 280.7 624.6 282.6 624.5 283.1 627.1 284.5 629.1 284.8 676.1 284.8 682.6 285.2 694.1 285.3 696.6 285.1 701.6 283.8 714.6 283.4 718.1 283.7 722.6 285.2 730.6 285.0 734.1 287.7 733.1 288.2 713.1 289.0 709.7 290.6 708.6 291.6 710.2 292.6 713.1 293.1 747.1 293.2 753.1 294.0 768.6 294.0 768.6 301.7 707.6 301.9 699.1 303.2 690.6 303.7 659.1 303.7 651.1 303.2 617.1 303.2 612.6 303.6 611.1 303.2 610.4 302.1 609.1 301.2 606.1 300.7 592.1 301.0 590.1 301.6 589.2 303.1 586.1 303.5 557.1 303.1 554.3 302.6 554.6 301.6 553.9 300.6 551.3 299.1 549.1 298.6 521.1 298.4 516.6 298.0 503.1 297.7 498.1 298.6 482.1 298.3 479.1 298.0 476.6 296.6 473.6 296.1 459.1 295.5 415.1 296.2 403.4 295.6 398.1 294.8 375.6 295.0 366.1 294.6 361.1 293.9 360.2 293.1 359.5 291.6 357.8 291.1 331.6 290.9 319.6 288.7 306.1 287.5 242.6 287.4 135.1 284.2 135.1 273.5 165.1 273.3 185.1 273.6 203.1 272.3 205.1 271.7 206.5 270.6 205.7 269.6 203.1 268.8 194.1 267.4 185.1 266.5 164.6 265.7 135.1 265.0 135.1 255.2 168.1 256.6 199.7 259.1 219.3 261.6 229.6 263.5 245.1 264.4 252.1 265.4 294.1 265.0 312.6 264.6 355.1 262.4 369.1 260.8 409.6 259.7 466.6 256.5 474.0 255.6 477.4 254.6 480.1 253.0 482.1 252.5 497.3 252.1 503.0 251.6 510.6 250.6 512.3 250.1 511.9 249.1 515.1 248.6 545.6 249.4 582.1 249.0 594.6 248.0ZM576.8 258.6 527.1 259.7 520.6 260.0 515.6 261.0 511.1 261.3 497.1 262.0 483.6 262.2 479.6 263.1 475.7 265.6 477.6 266.4 480.6 266.6 515.1 265.7 521.6 266.5 535.1 266.0 585.6 263.5 594.6 262.5 613.6 262.4 624.1 261.5 625.6 260.9 626.2 260.1 625.1 259.0 622.6 258.6 601.1 258.2ZM636.6 262.6 634.6 265.6 634.3 267.6 633.0 271.1 632.5 271.6 630.6 272.3 595.1 272.2 585.1 273.0 566.1 272.9 563.1 273.1 558.1 274.4 533.1 274.9 531.1 275.2 528.1 276.5 527.4 277.1 527.9 278.1 527.6 278.6 525.6 278.8 470.1 278.7 423.1 277.7 402.3 276.6 398.9 276.1 431.1 276.3 432.0 276.1 431.6 274.6 432.6 273.9 438.6 272.7 442.6 270.9 470.1 270.3 473.1 269.7 474.0 268.6 474.0 268.1 473.4 267.6 470.1 267.3 439.6 267.9 433.1 269.1 394.1 269.5 392.1 269.8 389.6 271.1 388.6 271.3 373.1 271.9 365.6 272.7 356.7 273.1 349.1 272.7 325.6 272.7 258.6 273.8 253.1 274.2 243.1 273.7 207.6 273.2 205.1 273.4 204.1 274.1 204.5 274.6 206.6 274.8 238.1 275.3 241.0 276.1 248.1 277.0 250.0 277.6 251.1 279.1 252.0 279.6 256.6 280.1 311.1 280.6 354.1 281.4 393.6 284.9 420.1 285.9 461.6 286.2 476.1 286.6 483.6 287.4 530.1 287.3 531.8 287.1 533.9 286.1 533.7 285.6 530.2 284.1 535.2 282.1 535.9 281.6 536.0 280.1 537.1 279.8 541.1 280.0 561.1 279.6 585.1 277.6 593.6 276.4 623.6 276.4 633.6 275.8 635.7 275.1 636.9 274.1 637.4 272.1 640.0 267.1 641.6 265.3 642.2 263.6 642.1 263.1 641.1 262.6 637.6 262.2ZM593.7 287.1 590.5 287.6 589.6 288.6 590.6 289.4 592.6 289.8 603.1 289.9 608.1 289.8 609.6 289.3 610.2 288.6 608.9 287.6 606.6 287.1ZM388.6 275.6 391.9 275.6 391.1 276.0ZM524.6 284.1 525.8 284.1 525.7 284.6 524.2 284.6ZM135.6 289.3 165.1 290.1 184.4 291.1 187.7 291.6 186.1 292.7 184.6 292.9 135.1 291.2 135.1 289.3ZM212.6 293.1 218.1 293.0 247.6 294.6 301.1 294.6 315.1 294.2 320.1 293.6 327.1 293.8 345.0 295.6 361.6 295.4 365.5 296.1 366.3 296.6 366.6 297.6 366.8 302.1 366.4 302.6 363.6 303.0 329.1 303.1 320.1 303.5 257.1 303.7 253.6 304.1 253.0 305.1 253.4 307.1 255.1 307.5 266.6 307.3 281.1 308.3 358.6 307.6 366.6 306.3 374.6 305.8 376.4 305.1 376.5 304.6 376.1 304.2 374.6 303.5 369.6 303.1 368.5 302.6 369.6 302.3 398.6 301.2 402.6 299.9 405.1 299.5 425.6 300.8 478.6 302.0 495.6 301.6 500.0 303.6 506.6 303.7 519.1 304.8 531.6 304.8 532.6 305.1 535.1 306.8 539.1 307.5 589.6 307.7 591.6 308.1 592.4 308.6 592.9 314.1 595.6 314.6 695.5 314.6 698.8 314.1 701.1 312.7 712.1 312.1 716.6 310.5 722.2 310.1 728.1 308.4 768.6 308.2 768.6 315.7 739.1 315.7 736.1 316.1 734.4 317.1 734.4 317.6 735.6 318.5 739.1 319.4 768.6 319.4 768.6 344.5 744.1 344.7 741.9 345.1 741.0 345.6 741.0 346.1 744.1 347.0 750.1 347.1 756.1 347.7 768.6 347.7 768.6 391.9 729.1 391.9 722.1 392.4 705.6 392.5 697.1 393.1 678.1 393.1 675.6 393.5 675.4 394.1 676.1 394.6 678.1 395.0 699.2 395.1 702.7 395.6 702.7 396.1 702.0 396.6 706.6 397.2 768.6 397.3 768.6 473.6 135.1 473.6 135.1 397.3 169.1 397.2 169.5 397.1 169.3 396.6 167.8 395.6 167.3 394.6 168.1 393.6 169.9 392.6 168.1 392.2 135.1 391.7 135.1 363.2 163.6 363.2 172.1 362.8 208.1 362.8 215.1 363.4 243.1 363.1 246.4 362.6 246.9 362.1 247.0 359.6 246.6 357.7 245.1 357.3 234.1 357.1 221.1 356.3 153.1 356.2 147.6 356.7 135.1 356.7 135.1 349.2 184.6 349.5 195.6 349.1 201.1 348.3 230.1 348.1 233.0 347.6 234.7 346.6 234.6 346.1 232.4 344.6 232.2 344.1 233.1 343.7 256.1 343.3 331.1 343.3 333.6 342.8 335.6 341.5 337.6 340.8 356.2 340.6 358.6 340.1 361.1 338.8 366.6 338.2 462.6 338.4 472.1 338.2 473.3 337.6 467.6 337.0 467.2 336.6 471.1 334.6 471.5 334.1 471.4 333.6 469.6 332.8 465.1 331.9 377.1 331.8 374.3 332.1 369.9 333.6 369.8 334.1 370.1 334.6 373.8 336.6 372.1 337.2 366.1 337.1 358.6 335.9 337.6 335.9 335.6 336.1 331.6 338.7 329.6 339.2 256.1 339.2 249.1 338.4 247.4 337.6 246.4 336.1 244.6 335.8 214.6 335.7 212.1 336.1 208.2 339.1 208.4 340.1 211.3 342.6 211.1 343.1 209.6 343.7 135.1 343.8 135.1 322.5 194.1 322.6 202.1 324.2 257.1 323.9 281.6 324.4 298.1 324.4 304.1 323.7 308.1 324.4 356.1 324.3 358.7 324.1 359.8 323.6 360.0 323.1 359.9 320.6 359.1 320.1 356.6 319.9 308.1 319.9 302.6 320.6 240.1 320.3 231.1 320.8 229.1 320.6 226.1 319.3 223.6 318.8 194.1 318.7 192.7 318.1 191.1 316.8 185.6 315.9 164.1 315.4 152.1 315.7 135.1 315.1 135.1 294.3 178.1 295.8 223.1 296.8 228.6 296.3 243.6 296.5 245.6 296.1 245.2 295.6 244.1 295.4 214.1 294.4 212.6 293.7ZM237.4 309.1 186.6 310.4 183.6 311.1 182.1 312.1 183.6 313.1 185.6 313.7 195.6 314.0 243.6 314.7 245.6 314.2 246.2 313.6 246.4 309.6 246.0 309.1ZM412.5 311.1 407.5 311.6 403.8 314.1 403.1 315.1 403.2 315.6 406.3 318.1 408.6 318.8 449.6 318.8 455.6 318.3 470.6 318.2 475.1 317.5 479.1 317.3 491.6 317.7 511.6 317.0 515.6 315.6 517.2 314.6 517.3 314.1 514.0 312.1 511.1 311.5 445.6 310.7 416.1 310.7ZM562.3 324.6 557.6 326.6 551.6 326.9 547.6 328.4 485.6 328.4 481.1 329.1 477.4 330.6 476.6 331.6 477.6 332.4 481.6 333.4 485.1 333.7 549.6 332.9 553.1 333.3 582.1 333.6 588.6 332.5 593.6 332.2 666.6 332.2 674.6 332.8 697.6 332.8 707.1 333.8 729.6 333.8 735.8 333.6 738.7 332.6 740.2 331.6 740.1 331.1 738.1 330.1 734.1 329.4 716.1 329.4 704.6 329.8 695.6 330.5 685.1 330.3 657.6 330.5 654.2 330.1 654.8 329.6 657.1 329.5 698.1 329.4 700.1 329.3 701.1 328.8 700.2 325.6 698.6 325.1 696.1 324.8 682.6 324.5 647.1 324.8 641.1 324.4 599.6 324.1 565.1 324.3ZM155.5 333.1 150.6 333.6 150.0 334.1 158.6 334.8 182.1 334.8 188.0 334.1 187.8 333.6 185.1 333.4ZM624.0 340.6 615.1 340.8 613.4 341.1 612.0 342.1 613.6 343.3 615.6 343.8 664.1 343.8 673.7 343.6 677.6 342.8 678.6 342.1 677.1 341.1 674.1 340.7 647.6 340.4ZM550.4 345.1 549.5 345.6 549.4 346.1 550.3 346.6 552.6 346.9 584.1 346.9 597.1 347.4 600.1 347.1 603.0 346.1 603.0 345.6 602.1 345.1 599.1 344.7 553.6 344.7ZM367.7 347.6 365.3 348.1 361.6 350.1 363.1 351.1 367.6 351.9 423.6 352.5 455.6 352.4 458.6 351.7 461.6 350.1 461.1 349.2 460.0 348.6 455.1 347.5 390.6 347.2ZM705.5 349.1 698.1 349.8 689.6 349.9 683.6 351.7 650.1 351.7 646.1 352.2 644.9 352.6 644.7 353.1 645.6 353.6 648.1 353.8 670.1 353.3 684.6 353.3 688.6 353.7 693.6 353.2 709.6 353.2 719.1 352.6 721.7 351.6 722.7 350.6 721.0 349.6 718.4 349.1ZM274.5 353.1 270.1 353.5 254.6 353.7 252.2 354.1 251.2 354.6 251.0 355.1 252.1 355.9 254.6 356.3 270.6 356.5 276.6 357.1 318.1 357.1 358.1 356.4 360.6 356.1 362.4 355.1 362.3 354.6 361.5 354.1 359.1 353.7 344.1 353.3 333.1 353.6 297.1 352.8ZM501.2 353.1 498.3 354.1 496.9 355.1 500.4 357.1 500.4 357.6 499.1 358.3 481.1 358.5 479.2 359.1 478.5 360.6 476.6 361.2 455.6 361.3 453.9 361.6 453.6 362.1 454.1 362.7 455.6 363.0 474.6 362.4 477.1 362.6 480.1 363.6 482.6 363.8 503.6 363.8 509.1 363.3 517.6 363.3 519.0 363.1 520.0 361.6 521.1 361.0 526.1 359.1 526.6 357.6 528.1 357.2 534.1 357.2 540.6 358.2 582.1 358.2 587.1 357.7 588.3 357.1 588.4 356.6 586.6 355.6 584.1 355.4 546.1 355.3 543.1 355.0 537.1 353.6 512.6 353.6 507.1 353.0ZM706.8 361.6 695.1 363.1 661.1 363.1 651.1 362.4 596.1 363.0 593.6 363.5 592.7 365.1 593.5 365.6 595.1 365.8 616.6 365.9 625.1 366.3 639.6 366.3 646.1 365.8 651.1 366.1 685.1 365.9 695.1 366.4 707.6 365.3 761.6 365.1 765.1 364.4 766.2 363.6 766.3 363.1 764.6 362.0 761.6 361.5ZM395.7 364.1 383.6 364.3 381.1 365.0 377.1 367.1 368.1 367.3 362.0 368.6 326.6 368.8 324.1 369.2 322.6 370.1 323.2 370.6 325.1 370.9 336.1 371.0 341.1 371.7 350.1 372.1 452.8 372.1 471.6 371.6 473.1 370.9 474.5 369.1 474.8 368.1 473.7 367.1 470.6 366.8 439.6 366.7 434.6 364.4 431.6 363.9ZM536.8 367.6 529.6 368.4 500.6 368.4 492.1 368.0 490.1 368.6 489.2 369.6 491.1 371.0 493.6 371.2 509.6 371.2 515.6 370.8 535.1 370.9 541.6 370.4 559.1 370.5 565.6 371.2 596.6 371.4 643.6 371.4 649.1 371.0 651.0 371.1 650.9 371.6 648.4 373.1 648.6 373.6 651.1 374.7 655.1 375.2 695.6 375.4 707.6 376.7 733.6 376.7 737.1 375.9 738.3 375.1 738.4 374.6 736.6 373.5 734.1 372.9 706.1 372.2 696.6 371.2 654.1 371.5 651.4 371.1 652.1 371.0 653.7 369.6 653.4 369.1 651.6 368.4 639.1 367.5 624.1 367.5 609.1 368.0 594.1 368.0 582.6 367.4ZM177.2 373.6 173.6 373.9 146.6 374.1 142.6 375.4 140.8 376.6 140.0 377.6 140.6 378.7 143.6 380.6 145.6 381.5 148.1 381.8 158.1 381.3 215.1 381.3 224.1 382.1 228.6 381.7 247.1 381.5 250.3 380.6 251.4 378.6 253.1 378.0 271.1 377.6 273.5 377.1 274.6 376.1 273.6 375.3 271.6 374.9 254.6 374.3 246.1 373.5 222.1 373.8ZM418.6 378.6 282.1 378.8 280.0 379.1 275.6 381.6 275.3 382.1 278.6 384.7 281.1 385.7 312.6 385.8 321.6 385.3 357.1 385.3 358.8 385.1 362.1 383.8 367.6 383.3 381.6 383.3 391.6 383.8 399.6 383.3 413.1 383.3 419.1 381.7 451.9 381.6 454.7 381.1 454.8 380.6 451.6 378.9 449.1 378.4ZM607.2 378.6 606.3 379.6 608.3 380.6 629.1 380.9 630.1 381.3 630.4 383.1 633.1 384.2 637.1 384.6 651.6 384.7 656.1 386.5 659.1 386.9 759.6 387.4 763.1 386.7 764.7 385.6 765.2 384.6 764.6 383.9 762.6 383.0 759.6 382.4 743.6 382.4 736.6 382.0 663.6 382.4 654.1 380.9 652.7 380.1 651.6 378.9 650.1 378.5 609.1 378.2ZM222.4 385.6 206.1 386.1 204.0 386.6 203.2 387.1 203.1 387.6 205.1 388.8 207.6 389.2 246.6 389.3 248.9 389.6 250.1 390.1 251.9 391.6 254.1 392.2 279.6 392.3 287.1 393.6 357.6 393.9 380.6 393.4 382.6 393.0 383.9 392.1 382.9 391.1 380.7 390.6 365.6 390.3 363.5 389.6 361.1 388.3 358.1 387.9 319.1 387.8 310.1 387.3 264.1 387.3 256.1 387.8 253.1 387.5 250.1 386.6 246.1 385.9ZM541.5 386.1 528.1 387.1 510.6 387.1 505.6 386.5 496.1 386.4 394.1 386.4 392.1 386.8 388.9 389.1 389.6 390.1 394.6 392.4 414.1 392.5 432.1 391.9 504.6 391.6 511.1 390.7 530.6 391.1 532.6 390.9 537.1 389.5 554.1 389.4 562.6 388.9 564.6 388.3 565.0 387.6 563.1 386.7 557.6 386.2ZM563.7 393.6 561.7 394.6 562.3 396.1 563.6 396.7 584.1 396.8 586.2 396.6 587.0 396.1 585.8 394.1 584.1 393.6ZM393.6 336.6 448.1 336.6 450.8 337.1 449.1 337.6 445.6 337.6 394.6 337.6 391.2 337.1Z"/>
<path fill="#88ff00" fill-rule="evenodd" d="M135.6 156.1 284.8 156.1 285.0 157.6 286.7 158.6 292.6 159.6 300.1 159.9 307.4 159.6 313.1 158.7 315.0 157.6 315.2 156.1 372.6 156.1 372.3 157.6 370.8 158.6 367.6 159.7 358.6 161.1 345.9 167.6 344.8 168.6 350.6 168.0 368.1 168.7 392.1 167.6 419.6 168.0 426.6 168.4 435.1 169.5 438.2 170.6 438.8 171.1 438.7 171.6 434.1 173.2 426.6 174.3 420.1 174.7 367.6 175.8 357.1 176.5 346.1 176.2 300.1 176.2 286.1 177.0 285.4 177.1 285.2 177.6 294.6 181.3 301.1 182.6 357.6 183.6 368.6 185.0 408.6 184.7 425.6 184.4 434.6 182.2 443.1 179.0 450.6 177.1 472.6 175.7 480.6 174.4 522.1 173.8 537.6 174.0 539.6 174.3 542.6 175.5 549.1 178.9 551.1 179.6 557.1 180.2 585.6 180.4 588.4 181.1 589.3 183.1 590.2 183.6 593.6 184.3 644.1 187.9 730.1 191.6 744.6 193.5 755.1 195.9 768.6 196.5 768.6 204.0 699.6 200.5 672.1 200.0 644.6 198.3 619.1 198.8 583.6 201.7 480.6 200.2 463.6 199.3 457.1 198.2 450.1 196.0 443.6 194.5 426.6 193.3 369.6 192.2 252.1 187.1 164.6 185.7 135.1 183.8 135.1 174.8 219.6 175.5 227.6 174.1 228.9 173.6 229.9 172.6 228.8 171.6 227.1 171.1 221.6 170.1 216.1 169.8 179.1 168.8 135.1 168.5 135.1 156.1ZM240.9 171.1 235.1 172.1 234.2 172.6 234.2 173.1 236.9 174.1 245.6 175.1 252.6 174.5 261.1 174.9 282.1 174.7 286.3 174.1 284.2 173.6 275.6 172.8 257.1 172.1 252.6 172.4 246.1 170.8ZM479.6 184.1 477.1 184.6 476.3 185.1 475.7 186.1 474.1 186.9 464.6 188.2 460.0 189.6 460.6 190.3 464.1 191.3 471.1 192.0 481.6 191.0 504.6 191.3 514.1 191.0 524.6 189.7 527.6 188.1 528.1 187.1 526.9 186.1 524.6 185.1 517.6 184.3ZM636.6 156.1 768.6 156.1 768.6 169.5 732.6 172.2 705.1 173.6 697.6 175.1 678.6 174.8 646.6 175.5 638.0 174.1 629.0 172.1 625.2 170.1 621.2 166.6 621.3 166.1 622.2 165.6 631.6 161.8 634.1 160.4 636.1 158.6ZM765.1 177.1 768.6 176.8 768.6 186.4 749.8 185.6 737.2 183.6 735.8 183.1 735.6 182.6 738.2 181.6ZM135.6 198.0 163.1 198.8 197.1 201.0 220.1 202.0 245.6 202.5 255.6 203.2 302.1 202.7 332.6 201.5 366.1 200.8 415.1 201.3 455.1 202.5 471.5 203.1 480.0 204.6 501.6 207.0 507.1 208.0 515.9 210.6 515.8 211.1 514.1 211.6 503.6 213.0 482.1 212.7 470.1 212.0 410.1 212.0 382.6 213.0 367.1 212.6 364.3 213.1 361.1 214.6 357.1 215.0 254.1 215.4 220.1 213.2 166.1 208.3 135.1 206.0 135.1 198.0ZM689.6 213.1 699.1 213.1 735.1 214.5 768.6 214.5 768.6 225.0 736.6 226.2 706.1 225.9 695.1 226.7 672.1 225.7 642.1 223.8 593.6 223.3 584.6 224.2 559.1 225.6 530.6 227.7 504.6 229.0 484.1 229.3 479.1 229.6 473.1 230.8 468.1 231.2 418.1 234.0 370.1 236.0 365.6 236.4 359.6 237.9 342.6 238.9 328.2 240.6 302.6 242.5 278.6 243.4 273.1 242.9 254.6 242.8 246.1 241.2 241.1 241.0 180.1 241.5 174.1 243.0 160.6 244.8 135.1 245.9 135.1 234.3 190.1 232.7 217.6 231.2 219.6 230.9 223.4 229.1 229.1 227.6 252.6 225.8 300.6 226.3 310.1 226.6 316.6 227.2 353.6 227.8 367.6 228.6 470.6 222.9 479.6 221.3 503.1 219.9 512.6 218.8 533.1 215.0ZM267.1 233.1 256.6 234.6 254.7 235.1 254.4 235.6 256.6 236.5 264.1 237.5 281.1 237.6 291.1 237.1 296.1 235.9 297.7 235.1 297.5 234.6 296.2 234.1 289.6 233.1ZM135.6 214.8 194.6 218.4 210.6 220.1 218.2 221.6 219.8 222.1 220.2 222.6 218.6 223.2 211.6 224.2 204.1 224.7 169.6 225.5 135.1 225.5 135.1 214.8ZM592.1 230.1 629.6 230.8 635.6 231.2 642.1 232.6 641.9 233.1 640.6 233.5 635.1 234.7 627.6 235.7 619.6 236.5 593.6 237.1 586.3 238.6 551.1 239.2 507.1 241.2 503.8 241.6 504.7 242.1 503.1 243.1 495.1 244.7 490.1 245.1 480.2 245.1 479.4 245.6 479.0 247.1 477.9 248.1 472.6 249.0 420.6 251.2 370.1 252.1 332.6 255.0 273.6 256.4 265.6 256.9 243.6 257.1 208.2 255.1 189.8 253.1 188.4 252.1 186.1 251.8 175.1 251.4 173.6 251.0 172.5 250.1 173.2 249.1 175.1 248.5 192.1 247.7 196.6 246.6 237.6 247.5 246.1 248.1 253.6 249.5 263.1 249.5 330.6 247.0 356.6 245.5 365.1 244.1 371.6 243.6 469.6 241.3 477.0 240.6 478.0 240.1 478.7 239.1 481.6 238.5 553.6 238.6 555.5 238.1 555.4 237.6 553.3 236.1 554.6 235.4 560.1 234.5 585.1 232.7 586.9 232.1 588.3 230.6ZM664.6 237.0 768.6 236.7 768.6 246.7 670.6 247.3 656.1 247.9 650.1 249.3 649.7 249.1 649.9 248.6 652.4 245.1 652.1 244.1 644.1 241.1 642.1 239.6 642.7 239.1 645.6 238.7 659.1 238.6ZM609.6 248.1 635.1 248.0 636.0 248.6 636.3 250.1 637.4 252.1 636.1 253.1 630.1 255.5 618.6 256.5 611.1 256.6 608.1 257.5 531.1 259.0 507.6 260.4 498.6 261.3 482.6 261.4 480.6 261.7 476.9 264.1 471.1 266.5 439.1 267.4 432.6 268.5 394.1 269.1 369.7 270.1 367.6 270.6 365.9 271.6 357.1 272.6 355.2 272.1 355.5 271.1 353.6 270.8 296.6 273.0 272.1 273.0 252.6 273.5 232.6 272.5 204.3 268.1 185.6 266.3 160.6 265.0 135.1 264.4 135.1 259.3 148.6 259.6 155.2 259.1 167.6 257.2 199.1 259.6 219.4 262.1 229.6 264.0 241.7 264.6 249.6 265.6 312.6 264.9 355.1 262.9 362.6 261.6 369.1 261.0 410.6 259.9 466.6 256.7 473.6 255.9 482.1 253.4 498.7 252.6 512.8 251.1 514.6 250.6 515.1 249.6 516.1 249.1 519.9 249.1 523.3 249.6 523.2 250.1 525.6 250.2 554.1 249.4 580.6 249.2 594.1 248.2ZM704.1 255.6 768.6 255.5 768.6 263.5 692.1 263.2 645.6 263.4 642.1 262.1 635.6 261.1 634.1 262.3 631.6 262.9 625.1 263.2 621.1 262.6 625.6 261.8 628.6 259.6 634.1 260.5 635.1 259.1 636.1 258.4 647.1 255.7 694.1 256.0ZM591.1 263.6 612.1 263.9 626.1 264.7 628.6 265.3 631.6 266.9 632.2 267.6 631.0 271.1 629.1 271.8 594.6 271.6 585.1 272.0 580.1 270.4 570.6 269.7 566.1 271.8 559.1 273.6 531.1 274.5 527.1 276.0 526.2 276.6 525.6 277.8 524.1 278.2 484.6 277.9 470.6 278.2 443.6 277.5 437.1 277.0 433.4 274.6 434.1 274.0 438.6 273.3 443.1 271.8 471.6 271.3 475.4 269.6 477.5 267.6 479.6 267.2 494.1 266.7 552.6 267.7 554.1 267.5 556.1 265.6 557.7 265.1ZM642.1 267.9 647.6 269.9 649.6 270.2 695.1 270.2 705.1 271.5 723.1 271.6 731.6 273.0 768.6 273.1 768.6 282.1 737.1 282.0 735.1 281.5 729.1 277.6 721.1 277.4 717.1 276.6 701.6 276.4 695.6 275.7 693.2 276.1 694.3 277.6 692.1 278.1 660.1 278.1 653.6 278.8 627.6 278.9 624.6 280.0 622.6 283.1 623.6 284.3 627.1 285.8 678.1 285.9 683.1 286.6 685.1 287.3 689.2 289.6 690.3 290.6 690.7 291.6 689.4 292.6 685.1 293.7 675.6 294.9 656.1 294.3 648.6 294.6 639.6 295.6 635.6 296.5 634.1 297.6 635.0 298.6 639.4 300.6 639.1 301.2 637.3 301.6 631.1 301.6 623.1 300.8 621.5 300.1 619.6 298.1 617.6 297.5 612.6 298.3 597.6 298.6 600.9 299.6 588.6 300.5 586.6 301.1 585.3 302.6 581.6 302.9 579.0 302.6 578.3 302.1 578.3 301.6 579.2 300.6 580.6 299.9 586.4 298.6 581.1 298.1 521.6 297.8 515.1 296.9 503.6 296.6 500.1 296.8 497.1 297.7 482.6 297.7 480.6 297.4 478.3 296.1 476.1 295.7 445.6 294.6 431.1 294.5 419.1 295.6 414.6 295.6 403.6 295.1 398.6 294.3 376.1 294.1 367.6 293.5 365.4 293.1 362.9 291.1 360.1 290.5 332.6 289.3 307.1 287.2 253.1 287.3 247.6 286.9 244.1 285.5 234.1 285.1 215.6 285.1 135.1 283.5 135.1 274.0 161.6 274.4 171.1 273.8 199.6 273.8 201.1 274.0 203.0 275.1 205.1 275.4 236.6 275.8 246.6 276.9 249.2 277.6 251.3 279.6 255.1 280.2 310.6 280.9 354.1 281.9 373.7 283.6 386.6 285.4 400.1 286.4 462.1 286.8 472.1 287.1 483.1 288.1 519.1 287.9 531.1 288.3 533.6 287.8 536.1 286.6 536.3 285.6 533.9 284.1 533.9 283.6 536.6 282.2 538.1 280.8 542.6 282.3 551.1 282.4 563.6 280.2 586.1 278.3 593.6 277.0 624.1 276.9 633.6 276.4 636.6 275.5 638.0 274.6 641.6 268.2ZM590.3 286.6 586.6 287.5 586.2 288.1 586.3 289.1 587.6 290.1 590.6 290.5 606.1 290.6 610.1 290.0 611.8 288.6 610.6 287.4 607.1 286.4ZM569.2 290.6 566.1 291.5 564.5 292.6 585.1 293.0 595.1 293.7 600.0 293.6 601.5 293.1 588.1 291.5ZM704.1 284.6 716.6 284.3 721.7 286.1 723.0 287.1 722.5 287.6 721.1 287.9 712.6 288.2 706.6 290.5 701.8 290.1 700.4 289.6 699.9 287.6 700.4 286.1 702.1 285.1ZM702.1 294.1 707.6 293.7 713.6 294.0 747.6 294.0 752.1 295.3 753.7 296.1 754.6 297.1 754.0 298.1 752.1 299.3 749.6 300.4 747.6 300.7 697.1 300.5 692.6 300.6 693.0 301.1 694.6 301.6 694.0 302.1 691.1 302.5 665.6 302.5 659.6 302.1 669.9 300.6 666.6 299.1 665.6 298.1 666.6 296.8 670.6 295.4 696.1 295.6 699.1 295.2ZM252.6 295.1 294.6 294.8 302.6 295.3 329.1 295.3 346.1 296.5 359.1 296.2 362.6 297.1 363.0 298.1 363.0 300.1 362.8 301.1 361.4 302.1 356.6 302.6 334.1 301.6 320.1 302.6 254.6 302.7 248.7 303.6 248.1 304.1 247.5 307.1 245.1 307.7 186.1 309.5 183.6 310.1 178.6 312.3 167.1 312.8 160.4 314.6 156.6 315.0 150.1 314.9 139.6 313.5 135.1 313.4 135.1 297.6 192.1 298.3 224.1 299.5 226.1 299.1 227.1 297.9 228.1 297.5 245.1 297.6ZM405.1 300.1 417.1 300.6 419.2 301.1 420.4 302.6 422.1 302.9 470.1 302.9 482.1 303.9 495.1 303.7 499.6 304.3 507.6 304.5 512.7 305.6 513.7 306.6 515.1 307.1 518.6 307.5 533.1 307.6 539.6 308.0 585.6 308.1 588.1 308.6 588.8 309.1 589.0 313.6 589.6 314.6 594.1 315.3 699.1 315.2 703.1 314.8 705.4 313.6 707.1 313.3 720.1 312.6 726.6 309.5 728.6 309.1 768.6 309.0 768.6 315.2 737.1 315.4 733.4 316.1 728.1 319.1 723.4 320.6 728.6 321.1 768.6 321.1 768.6 328.4 717.1 328.3 707.1 328.6 704.1 327.9 703.5 327.1 703.0 325.6 701.6 324.9 694.1 323.5 689.1 323.2 673.1 323.2 658.1 324.1 582.1 323.4 552.6 323.8 550.1 324.1 545.6 326.0 543.1 326.4 525.1 326.9 502.1 326.4 488.1 326.6 476.6 329.0 471.4 331.1 469.1 331.5 464.6 331.1 454.1 331.1 375.6 331.2 366.1 332.5 363.6 334.3 361.1 334.8 335.8 335.1 334.3 335.6 330.5 338.1 328.1 338.7 256.1 338.5 253.0 338.1 252.3 337.6 251.9 336.1 251.4 335.6 246.6 334.7 213.1 334.4 210.6 335.4 206.4 338.6 205.9 339.6 206.2 340.1 208.8 342.6 206.1 343.1 181.6 343.1 177.5 342.6 180.1 341.2 181.5 338.1 183.2 336.6 186.0 335.6 190.1 335.2 193.1 333.8 199.1 333.2 212.6 333.8 216.2 333.1 197.1 333.1 161.1 332.1 150.3 332.6 146.9 333.6 146.0 334.6 147.1 335.3 151.6 335.7 152.0 336.1 151.0 337.6 151.1 338.6 153.1 340.0 157.6 341.3 165.8 342.6 159.1 343.1 135.1 343.1 135.1 323.2 171.1 323.2 192.1 324.4 196.1 323.8 202.1 324.8 258.6 324.7 277.6 325.9 287.1 327.9 290.1 328.1 319.1 328.1 324.1 327.6 317.0 326.1 317.2 325.6 319.1 325.5 360.1 325.3 363.6 324.8 364.8 324.1 365.1 321.1 364.6 319.9 361.6 319.2 356.6 319.0 254.6 319.3 248.9 318.6 248.2 318.1 248.0 316.6 248.4 315.6 249.8 314.1 250.2 310.1 251.6 309.2 253.1 308.9 265.1 308.3 286.6 308.8 360.1 308.2 367.1 307.0 375.6 306.4 378.0 305.1 378.1 304.6 377.4 303.6 378.1 303.0 399.1 302.3ZM412.5 308.1 411.9 308.6 412.3 309.6 411.9 310.1 406.2 311.1 400.1 315.8 384.6 317.6 380.7 318.6 379.7 319.6 379.5 322.6 376.6 324.6 376.7 325.1 379.6 325.4 415.6 323.8 423.6 324.4 429.1 324.4 444.6 322.2 455.1 319.5 472.1 319.4 480.6 318.2 483.6 319.5 490.6 319.5 494.1 319.1 497.6 318.0 512.1 317.5 514.1 317.0 517.1 315.5 518.3 314.6 518.4 314.1 517.6 313.3 514.6 311.8 511.6 311.0 457.6 310.0 435.1 308.1ZM705.8 319.1 705.0 319.6 705.1 320.1 706.1 320.7 709.1 321.0 711.4 320.6 708.6 319.5ZM492.1 302.6 494.6 302.6 494.8 303.1 494.1 303.3ZM203.6 316.6 224.6 316.3 232.1 316.5 236.1 317.4 237.0 318.1 237.3 319.1 235.6 320.0 231.1 320.1 224.1 318.2 198.6 318.2 196.3 317.6 198.6 317.0ZM750.6 332.1 768.6 331.8 768.6 343.6 743.1 343.7 739.1 345.0 738.4 345.6 738.4 346.1 740.1 347.3 743.1 348.1 768.6 348.4 768.6 360.8 707.6 361.0 697.6 362.3 693.6 362.4 661.6 362.4 650.1 361.7 611.1 361.6 592.6 362.4 587.8 365.6 587.6 366.6 586.6 366.7 503.6 367.3 501.7 367.1 501.5 366.6 508.6 364.5 521.1 364.2 521.7 363.6 521.2 362.6 521.6 362.0 525.1 360.4 528.7 359.6 529.2 358.6 530.1 358.3 534.6 358.2 540.6 358.9 584.6 358.8 590.6 358.2 591.5 357.6 591.9 356.6 591.6 356.0 590.6 355.4 586.1 354.8 545.6 354.7 537.6 352.8 512.1 352.7 506.1 351.1 502.6 351.0 491.6 352.6 488.6 353.4 487.5 354.1 488.6 355.1 495.3 356.6 495.4 357.1 478.1 357.5 474.9 358.1 473.0 360.1 454.1 360.9 452.6 361.5 451.6 362.9 450.6 363.1 402.6 363.1 394.1 363.6 384.1 363.7 381.6 364.0 376.6 366.0 367.1 366.3 358.7 368.1 326.1 368.2 321.1 369.2 314.6 369.4 309.7 370.1 320.1 370.6 324.6 371.4 336.6 371.5 341.1 372.3 344.1 373.4 346.9 373.6 356.6 373.6 368.1 372.9 451.6 373.0 472.1 372.6 476.7 372.1 480.1 370.3 485.1 369.1 486.1 369.3 487.5 370.6 488.1 372.1 491.1 372.6 509.6 372.6 514.6 371.9 534.6 371.9 541.1 371.1 559.1 371.2 565.1 371.8 580.6 371.9 583.6 372.1 580.5 373.1 570.6 374.9 568.6 376.9 564.7 379.1 567.1 379.6 586.6 379.7 593.6 380.9 602.6 379.0 604.8 380.6 607.6 381.4 627.6 381.6 629.0 382.1 629.6 383.1 630.6 383.8 633.6 384.7 651.6 385.4 655.6 386.7 658.6 387.1 721.6 387.2 730.1 387.9 768.6 387.6 768.6 391.6 729.6 391.6 722.1 392.2 677.1 392.8 673.8 393.6 673.7 394.1 675.2 395.6 673.1 396.0 663.6 395.9 656.6 394.2 649.1 393.8 618.1 394.3 614.1 394.7 610.1 395.9 597.6 396.0 592.1 395.3 590.1 393.1 586.6 392.5 566.1 392.3 563.1 392.6 560.6 393.4 559.5 394.1 559.1 395.6 557.6 396.0 502.1 396.0 497.7 396.1 495.6 396.6 535.6 401.2 556.6 401.3 569.1 405.8 571.1 405.3 576.6 402.5 586.6 400.5 596.1 399.8 615.1 399.7 625.6 402.1 635.5 407.1 635.9 407.6 635.8 408.6 632.5 414.1 632.4 415.6 634.1 418.2 638.6 419.0 652.1 419.2 670.6 415.5 687.1 412.8 698.1 412.2 718.1 414.0 742.1 419.9 745.1 420.3 753.1 418.1 754.1 417.1 756.1 413.1 757.1 412.4 765.1 410.5 768.6 410.3 768.6 453.5 766.1 452.8 761.6 449.8 759.1 449.3 757.6 449.5 755.9 452.1 751.9 461.1 751.3 463.1 751.8 465.6 756.0 470.6 758.1 471.3 764.6 472.0 765.6 472.6 765.7 473.6 703.0 473.6 702.8 470.6 704.5 468.1 717.6 459.4 719.1 457.6 720.9 451.6 720.1 450.6 715.1 447.1 714.6 446.1 715.6 445.1 725.6 439.0 727.1 437.1 727.6 435.1 726.9 434.1 723.1 431.4 720.0 429.6 706.6 425.6 700.1 425.2 681.6 426.5 646.1 433.6 636.1 436.1 634.3 437.6 632.8 440.6 633.3 449.1 634.8 451.6 634.8 452.6 627.1 454.5 626.1 455.0 625.9 455.6 626.6 456.6 627.6 457.0 635.7 458.6 637.0 459.1 636.8 459.6 626.6 461.2 614.1 461.2 602.1 459.4 594.1 456.2 591.6 455.9 590.0 457.1 590.4 458.6 596.8 465.1 601.0 468.6 601.4 469.6 600.1 470.2 590.6 471.4 589.3 472.1 589.0 473.6 475.0 473.6 474.7 472.6 474.0 472.1 468.9 470.6 463.4 465.1 462.7 463.6 460.9 456.6 460.7 454.1 463.0 442.6 469.1 429.1 475.2 422.1 476.8 419.6 483.7 415.1 486.1 414.5 491.1 414.5 506.1 415.0 509.1 415.5 544.6 425.0 561.1 430.4 564.1 431.6 579.6 439.3 582.1 440.1 582.9 439.6 583.2 437.1 582.1 422.6 575.9 415.6 574.1 414.5 568.1 413.8 556.6 414.3 545.1 412.5 532.6 408.8 520.1 403.9 508.6 400.4 487.1 397.9 486.0 397.6 485.7 397.1 486.4 396.6 486.1 396.1 481.6 395.9 474.1 396.6 456.6 397.1 438.6 398.9 413.1 404.3 398.1 403.9 394.1 403.4 389.8 399.6 385.6 397.9 367.1 398.9 364.6 398.6 363.1 397.6 363.3 396.6 364.6 395.1 366.1 394.4 382.6 393.8 384.6 393.0 385.5 392.1 384.8 391.1 383.6 390.5 380.6 389.9 367.6 389.7 366.1 389.1 365.1 388.1 363.6 387.6 358.1 386.8 353.5 386.6 360.6 386.4 367.6 384.5 383.8 384.6 388.1 385.6 390.1 386.6 390.0 387.1 388.2 388.6 388.0 389.6 391.0 391.6 391.1 392.1 389.9 393.1 392.6 393.6 413.6 393.6 417.6 392.6 420.6 392.3 471.6 392.1 483.6 391.7 504.6 392.1 512.1 391.3 515.9 391.6 526.6 393.6 535.1 394.2 549.6 392.9 553.1 391.9 557.4 390.1 564.1 389.4 566.5 388.1 566.3 387.1 565.1 386.4 560.3 385.6 557.6 384.1 543.6 384.0 536.6 386.1 528.1 386.6 510.1 386.6 495.6 385.9 485.1 386.4 420.6 386.3 413.6 385.9 398.1 385.9 395.3 385.6 395.6 385.1 398.6 384.5 413.6 384.3 418.1 382.5 420.6 382.2 451.6 382.2 458.1 381.8 473.6 381.8 489.6 383.0 494.6 383.8 502.4 380.6 501.1 379.9 498.6 379.5 470.1 379.4 455.1 377.7 449.1 377.5 356.1 378.2 281.1 377.9 278.6 378.3 275.1 380.3 268.6 381.9 262.6 385.8 259.7 386.6 256.6 387.0 254.1 386.7 251.1 385.7 247.6 385.3 227.6 385.2 225.3 384.6 226.4 383.1 227.6 382.6 245.6 382.4 250.6 382.0 252.8 381.1 253.6 379.1 254.6 378.6 272.1 378.3 275.1 377.4 276.0 376.6 276.1 376.1 274.6 374.9 272.6 374.2 267.1 374.0 254.6 372.7 231.1 372.8 220.6 373.2 180.1 372.8 174.1 373.5 148.1 373.5 141.6 374.4 135.1 374.4 135.1 366.1 163.1 366.0 164.7 365.6 166.6 364.1 170.6 363.5 208.1 363.5 214.6 364.2 247.1 364.0 251.3 363.1 251.9 362.1 252.3 357.6 255.1 357.2 265.1 357.4 266.4 357.6 265.1 358.6 267.1 359.0 280.6 358.9 291.6 359.6 310.6 359.6 316.6 360.9 331.1 360.8 337.2 360.1 347.1 357.3 361.1 356.8 364.6 356.1 365.8 355.1 365.6 354.1 363.6 353.2 353.1 352.6 353.4 352.1 357.6 351.5 362.1 352.4 365.6 352.6 404.1 352.8 415.1 354.0 417.1 354.6 418.6 355.7 420.6 356.1 446.1 356.0 450.4 355.6 454.6 354.7 464.1 351.1 465.8 349.6 465.2 348.6 463.6 348.0 456.1 346.7 424.6 346.9 419.5 346.6 407.1 344.6 393.6 344.3 386.7 344.6 375.9 346.1 366.6 346.8 358.1 349.3 340.6 349.6 339.5 350.1 339.3 350.6 340.5 352.1 340.3 352.6 339.1 352.8 328.1 352.7 306.1 351.7 292.6 350.1 266.1 350.2 263.1 350.6 268.8 352.1 269.0 352.6 254.1 353.0 248.3 354.1 246.6 355.8 241.1 356.1 231.6 355.9 230.5 355.6 231.4 354.6 230.1 354.0 220.6 353.9 205.1 354.0 198.6 355.1 151.6 355.1 147.1 356.0 135.1 356.0 135.1 349.9 185.1 350.0 195.1 349.6 201.6 348.6 230.6 348.5 233.1 348.1 235.9 347.1 236.1 346.1 235.1 345.1 235.1 344.6 236.6 344.5 270.6 344.0 288.6 344.8 296.1 344.0 330.6 343.9 334.1 343.4 338.6 341.6 358.1 341.4 359.7 341.1 362.9 339.6 368.1 339.0 482.1 338.9 493.6 337.9 496.3 337.1 500.6 334.9 507.1 333.9 548.6 333.9 552.6 334.3 576.1 334.3 582.6 334.7 585.6 334.5 591.1 333.3 594.6 333.0 668.6 333.0 676.1 334.9 685.6 335.1 694.1 335.9 697.1 337.1 700.7 340.1 706.3 342.1 723.6 342.3 732.6 340.7 738.1 339.2 740.7 337.6 742.1 334.6 743.1 333.6 745.6 332.8ZM624.7 339.6 614.6 339.8 611.6 340.5 609.7 341.6 609.5 342.1 610.7 343.6 609.9 344.6 610.0 345.1 612.6 345.7 617.6 345.8 646.1 345.1 658.1 346.3 659.6 346.9 660.4 347.6 659.7 348.6 658.1 349.2 650.1 349.6 642.7 352.1 642.3 352.6 642.4 354.6 645.1 355.0 670.1 354.3 684.1 354.4 688.6 354.9 695.1 354.9 709.6 354.3 713.6 353.6 720.6 353.2 728.1 350.5 729.9 349.1 729.6 348.5 727.6 348.2 676.1 348.0 672.8 346.6 672.4 345.6 674.6 344.5 680.1 343.5 681.0 343.1 681.2 342.6 680.9 341.6 680.1 341.0 676.1 339.7 658.6 339.7 647.6 339.3ZM590.0 343.6 552.1 343.7 548.1 344.7 546.9 345.6 546.9 346.1 548.6 347.2 551.6 347.7 584.1 347.8 596.1 348.6 602.1 347.8 604.6 346.9 605.6 346.1 605.1 345.1 601.6 343.8ZM218.8 367.1 217.8 367.6 238.8 367.6 237.8 367.1 234.1 366.8ZM601.2 420.6 598.1 422.1 597.9 423.1 598.9 424.6 601.6 426.6 603.1 427.2 606.1 427.0 607.9 426.1 608.6 424.1 608.1 422.8 603.6 420.6ZM505.9 430.6 500.9 439.1 497.5 454.1 497.7 456.1 500.5 463.6 501.9 465.1 519.6 469.9 538.1 469.9 557.1 466.2 566.6 462.1 568.4 460.6 568.5 456.1 567.6 454.6 557.2 448.6 544.1 438.5 526.1 431.5 508.1 430.2ZM703.1 366.6 709.1 366.2 752.1 366.2 754.3 366.6 755.7 368.1 763.6 369.0 765.1 369.4 765.9 370.1 765.3 371.1 764.1 371.7 758.1 373.2 749.6 374.4 742.6 374.6 740.6 374.3 737.1 372.8 734.6 372.3 706.6 371.7 700.7 370.6 700.0 369.6 700.1 367.6 700.8 367.1ZM651.6 367.1 655.1 366.7 681.6 366.6 686.2 367.1 681.1 369.6 677.6 370.7 658.1 370.9 655.0 370.6 655.1 369.1 651.3 367.1ZM645.1 374.1 647.1 374.2 651.1 375.4 657.1 376.3 695.6 376.3 707.1 377.2 729.1 377.3 732.6 378.0 734.1 378.8 734.7 379.6 734.2 380.6 733.1 381.2 729.6 381.8 663.6 382.0 655.1 380.6 653.7 379.6 652.6 377.9 651.1 377.4 618.1 377.3 615.5 377.1 615.3 376.6 620.6 375.6 627.1 374.9ZM752.1 379.6 756.6 379.5 768.6 380.5 768.6 386.8 766.1 386.5 765.7 386.1 766.2 385.1 766.0 384.1 762.1 382.2 759.6 381.9 742.6 381.6 743.0 381.1 745.1 380.5ZM135.6 380.5 140.6 381.1 146.1 382.4 149.1 382.6 158.1 381.8 217.6 381.9 222.6 383.0 223.9 384.1 222.6 384.8 219.1 385.5 205.6 385.7 202.7 386.6 201.8 387.6 203.6 389.0 207.1 389.8 244.6 389.9 246.5 390.1 249.2 391.6 253.1 392.6 280.1 392.8 283.6 393.6 284.5 394.1 284.7 394.6 282.6 395.9 280.1 396.4 254.6 396.6 250.7 397.1 250.0 398.1 250.2 399.6 250.8 400.1 253.1 400.8 270.1 400.5 286.6 399.0 309.1 398.5 324.6 399.9 327.7 400.6 327.6 401.1 326.7 401.6 319.3 404.6 303.8 418.1 295.5 428.6 294.6 430.1 294.6 430.7 295.1 430.8 298.6 428.8 317.6 414.9 319.6 413.9 332.6 411.1 356.1 408.3 361.1 408.4 362.6 409.1 363.2 410.6 364.2 411.6 376.1 416.6 388.1 422.6 400.6 431.3 423.6 445.5 428.6 449.6 429.7 451.1 431.6 456.1 430.6 461.6 429.0 463.6 426.2 465.6 424.6 466.3 415.6 467.4 406.6 467.0 404.1 467.5 401.9 470.1 401.8 473.6 348.0 473.6 348.1 471.6 349.4 467.6 350.6 466.3 353.1 466.0 360.1 466.2 363.6 466.8 366.1 468.2 368.5 467.1 369.3 465.6 370.3 460.1 368.2 455.6 363.7 451.6 362.1 449.6 355.6 446.0 346.1 442.0 335.6 438.6 325.6 437.5 323.6 438.0 322.2 440.1 322.1 441.6 323.1 444.1 333.1 447.1 343.1 449.4 344.4 450.6 345.3 452.6 344.0 455.1 342.1 456.1 336.6 457.6 326.1 459.3 322.1 459.7 310.6 459.9 304.6 463.0 296.6 462.4 291.1 459.6 285.5 453.1 284.8 451.6 282.9 445.1 282.2 444.1 275.0 442.1 271.5 437.6 271.7 436.1 273.8 430.1 279.9 422.6 281.3 420.1 281.5 419.1 280.1 418.6 276.6 419.1 274.6 419.9 268.8 425.1 256.5 444.6 250.4 452.1 249.8 454.1 246.6 455.4 236.1 456.5 232.6 460.3 224.6 464.8 212.6 467.3 199.6 468.0 175.1 467.4 163.6 465.3 161.7 464.1 159.9 459.6 158.7 455.6 159.6 454.7 170.6 454.7 180.6 459.8 190.1 462.3 192.6 462.2 202.6 460.8 205.6 459.8 217.5 452.1 228.1 444.7 230.5 442.6 238.2 433.6 240.5 422.6 239.6 421.3 235.8 417.6 226.6 411.8 210.5 404.6 205.7 403.1 194.8 400.6 177.2 397.1 171.6 396.5 168.7 395.1 168.9 394.1 170.1 393.4 176.1 392.1 175.1 391.4 172.1 391.1 154.1 391.0 146.1 388.5 138.6 387.0 135.1 386.8 135.1 380.5ZM221.5 395.1 221.1 395.6 223.6 396.0 243.1 396.0 246.4 395.6 246.1 395.1 242.6 394.7 225.1 394.7ZM344.6 422.6 343.1 423.2 341.6 424.6 341.5 425.6 342.1 426.3 350.1 431.2 361.2 436.6 364.8 439.6 375.1 444.8 385.6 448.7 398.1 452.4 406.1 453.4 407.6 452.9 408.8 451.6 408.4 450.1 404.1 445.1 397.6 439.8 387.1 433.4 376.1 429.0 360.7 424.1 353.6 422.9ZM321.1 386.6 348.2 386.6ZM224.6 425.5 226.6 426.5 228.7 429.1 228.4 433.6 227.7 435.6 220.7 443.6 219.4 444.6 217.1 445.1 211.6 445.4 209.1 445.1 208.7 444.1 209.9 441.1 219.2 432.6 223.2 426.6ZM146.6 435.6 148.1 435.5 149.1 435.9 149.4 436.6 148.9 437.6 137.8 449.6 136.6 450.3 135.1 450.5 135.1 437.5 138.1 437.3ZM670.6 437.1 673.1 437.1 674.6 437.7 678.2 441.1 678.3 442.1 678.0 442.6 676.1 444.2 674.6 444.9 663.1 445.5 660.4 444.6 657.3 441.6 658.1 440.5 663.6 437.8Z"/>
<path fill="#ffff00" fill-rule="evenodd" d="M135.6 156.1 283.3 156.1 283.4 157.1 284.0 158.1 286.4 159.1 293.1 160.1 300.1 160.3 306.9 160.1 313.6 159.1 316.0 158.1 316.5 157.6 316.6 156.1 372.1 156.1 371.7 157.6 369.6 158.7 367.6 159.2 359.6 159.8 357.1 160.6 340.3 169.1 345.1 169.3 350.6 168.3 367.6 168.8 391.6 167.7 411.1 167.9 425.6 168.4 434.1 169.5 437.8 170.6 438.4 171.1 438.3 171.6 433.9 173.1 426.6 174.2 420.1 174.6 367.6 175.7 357.1 176.3 346.1 176.0 299.6 176.0 285.6 176.8 284.6 177.1 284.7 177.6 294.1 181.5 300.6 182.8 357.1 183.8 368.1 185.1 408.6 184.9 426.1 184.4 435.1 182.2 443.3 179.1 450.6 177.2 472.6 175.8 481.1 174.5 522.6 173.9 537.6 174.2 539.6 174.5 542.5 175.6 549.1 179.1 551.1 179.7 557.1 180.4 585.6 180.6 587.7 181.1 588.5 183.1 589.3 183.6 593.6 184.4 644.1 188.1 715.1 190.9 733.1 192.0 744.6 193.6 754.6 196.0 768.6 196.6 768.6 203.9 700.1 200.4 672.1 199.8 644.6 198.1 619.1 198.7 583.1 201.6 480.6 200.1 463.6 199.2 457.2 198.1 450.6 196.0 443.6 194.3 426.6 193.2 369.6 192.1 252.1 187.0 164.6 185.6 135.1 183.6 135.1 174.9 219.6 175.6 225.6 174.7 231.1 173.2 240.1 175.1 247.1 175.8 282.6 175.0 289.7 174.6 290.3 174.1 275.6 172.3 254.1 171.3 246.1 170.1 239.4 170.6 231.1 172.2 227.6 171.1 223.1 170.2 216.1 169.7 179.1 168.6 135.1 168.4 135.1 156.1ZM478.3 184.1 476.1 184.7 475.0 186.1 473.6 186.8 464.6 188.0 460.6 189.0 459.7 189.6 460.6 190.5 463.6 191.3 471.6 192.1 481.6 191.2 505.1 191.4 514.1 191.1 524.6 189.9 527.6 188.3 528.3 187.1 527.1 186.0 524.6 185.0 517.6 184.2 505.6 183.9ZM637.1 156.1 768.6 156.1 768.6 169.4 732.6 172.1 704.6 173.5 697.6 174.9 664.6 174.5 660.6 174.2 650.6 172.8 643.5 169.6 633.4 166.6 632.0 164.6 631.8 163.6 632.8 162.1 636.4 158.6 636.7 156.1ZM765.1 177.6 768.6 177.3 768.6 185.8 751.1 185.1 739.0 183.1 738.4 182.6 752.9 179.6ZM135.6 198.1 163.1 198.9 197.1 201.1 220.1 202.1 245.6 202.7 255.6 203.4 302.1 202.9 332.6 201.6 366.1 200.9 415.1 201.4 455.1 202.6 471.1 203.2 479.6 204.7 493.6 206.1 505.6 207.8 515.5 210.6 515.3 211.1 513.3 211.6 503.6 212.9 482.1 212.6 470.1 211.9 410.1 211.9 382.1 212.7 367.1 212.5 363.4 213.1 360.2 214.6 357.1 214.8 254.1 215.3 220.1 213.0 163.1 208.0 135.1 205.9 135.1 198.1ZM662.1 213.6 696.6 213.1 734.6 214.6 768.6 214.6 768.6 224.9 736.6 226.1 706.1 225.7 695.6 226.6 672.1 225.6 642.1 223.7 593.6 223.2 584.1 224.1 559.1 225.4 530.1 227.6 504.6 228.8 484.1 229.2 478.6 229.5 472.6 230.7 467.6 231.1 418.1 233.8 369.6 235.9 365.1 236.4 359.1 237.8 341.6 238.7 325.9 240.6 303.6 242.1 279.1 242.7 257.1 242.2 245.6 240.9 223.1 240.5 179.6 240.9 173.6 242.7 161.1 244.4 135.1 245.5 135.1 234.4 190.1 232.9 217.6 231.3 219.6 231.0 223.1 229.4 229.1 227.7 252.6 225.9 300.6 226.4 309.6 226.7 316.6 227.4 353.6 227.9 367.6 228.7 470.6 223.0 481.1 221.3 500.1 220.3 509.6 219.3 533.1 215.2 555.6 214.6 584.1 214.6 598.6 214.1ZM260.6 232.6 250.2 234.1 247.0 235.1 248.9 236.1 255.6 237.6 273.6 238.2 291.6 237.6 299.5 236.1 302.1 235.2 302.4 234.6 298.6 233.3 290.1 232.4 274.6 232.2ZM135.6 214.9 194.1 218.5 210.6 220.3 217.5 221.6 219.3 222.1 219.7 222.6 211.1 224.2 204.1 224.6 169.6 225.4 135.1 225.4 135.1 214.9ZM590.1 230.5 595.1 230.2 629.1 230.9 635.6 231.4 641.3 232.6 641.1 233.1 634.6 234.7 622.1 236.2 593.1 237.0 587.1 238.3 580.6 238.7 557.6 238.8 556.6 238.6 556.0 237.6 553.7 236.1 554.6 235.6 560.1 234.7 585.6 232.9 587.1 232.4 588.4 231.1ZM701.6 237.1 768.6 236.9 768.6 246.5 667.6 246.9 654.1 244.4 651.4 243.1 644.0 240.6 643.3 240.1 643.3 239.6 645.6 239.0 658.6 238.8 665.1 237.2ZM480.1 239.1 489.6 238.8 542.9 239.1 521.9 240.1 493.1 240.9 492.0 241.1 493.7 243.1 492.4 244.1 488.6 244.7 479.6 244.7 478.6 245.1 477.9 247.1 477.1 247.8 471.6 248.7 420.6 251.0 370.1 251.9 342.6 253.6 338.6 254.2 316.6 255.2 252.6 256.7 247.6 256.3 241.1 253.9 239.4 252.6 238.1 252.3 199.1 252.0 186.1 251.0 176.1 250.9 174.1 250.1 174.6 249.5 176.1 249.1 186.1 248.8 197.6 247.7 238.6 248.1 245.6 248.5 254.6 249.8 299.6 248.6 354.6 245.9 359.1 245.5 365.6 244.2 371.1 243.8 474.6 241.2 479.0 240.6ZM592.1 248.6 616.6 248.3 628.1 248.8 632.6 249.8 635.3 251.1 636.0 252.1 630.1 254.9 618.1 256.0 594.6 256.6 589.6 257.3 582.6 257.8 531.1 258.6 499.6 260.6 481.6 261.0 479.1 261.5 476.6 263.7 473.1 265.0 463.6 265.9 418.6 268.3 382.6 269.1 358.6 270.4 350.1 270.4 290.6 272.7 248.6 272.8 235.6 272.0 231.1 271.1 200.1 267.1 160.6 264.5 135.1 263.9 135.1 259.8 136.6 259.8 146.1 260.3 170.6 260.4 189.6 261.4 244.6 266.2 313.1 265.2 355.6 263.3 359.1 262.9 364.4 261.6 369.6 261.2 411.6 260.2 465.1 257.0 473.1 256.3 482.6 254.0 515.6 251.3 531.6 250.4 549.1 250.1 554.6 249.7 580.6 249.5ZM742.1 255.6 768.6 255.7 768.6 263.3 646.6 263.0 637.6 260.9 636.1 260.1 636.0 259.6 637.6 258.5 642.1 257.6 645.1 256.5 647.6 256.2 695.1 256.2 707.1 255.7ZM575.6 264.6 587.1 264.2 612.1 264.4 626.6 265.3 628.7 266.1 629.4 267.1 628.6 268.0 626.1 268.7 612.1 269.5 593.1 269.5 570.1 268.8 568.3 269.1 566.7 270.6 565.6 271.1 559.1 273.1 483.6 275.0 475.9 275.6 473.7 277.1 471.6 277.4 439.1 276.2 437.0 275.6 435.7 274.6 443.1 272.8 472.6 272.3 476.1 271.1 479.1 268.2 481.6 267.8 553.1 268.5 558.6 267.9 559.2 267.6 559.9 266.1 562.6 265.2ZM650.1 271.1 653.6 270.7 694.6 270.7 705.6 271.7 723.1 271.8 731.6 273.4 768.6 273.4 768.6 281.6 737.1 281.5 734.6 280.7 729.6 277.5 721.1 277.1 717.1 276.2 705.6 276.1 695.6 275.1 688.6 275.5 652.1 275.4 648.6 274.4 647.1 273.1 647.7 272.1ZM135.6 274.4 161.6 274.9 184.6 274.8 198.6 275.0 205.6 275.7 237.1 276.2 247.1 277.2 248.4 277.6 249.6 279.1 250.4 279.6 253.6 280.3 311.1 281.2 323.6 281.9 331.1 283.1 358.1 283.8 377.1 284.9 386.1 286.5 462.6 287.2 472.6 287.5 482.6 288.5 521.6 288.4 540.1 289.8 542.1 290.4 544.6 292.1 545.6 292.3 563.6 293.5 584.1 293.6 594.1 294.3 612.6 293.9 616.6 294.9 617.5 295.6 617.5 296.1 614.6 297.4 611.6 297.7 522.1 297.3 517.5 296.6 514.8 295.6 513.1 294.3 511.6 294.1 482.6 294.3 471.6 295.0 434.6 293.9 376.6 293.8 373.6 293.4 368.6 291.6 362.1 290.1 336.1 288.9 312.1 287.0 254.1 287.1 248.7 286.6 246.2 285.1 243.6 284.9 135.1 283.1 135.1 274.4ZM590.6 279.6 619.1 279.4 621.6 279.9 622.8 281.1 621.1 283.0 619.6 283.6 592.6 283.7 583.6 285.2 564.1 285.2 561.5 284.6 558.8 283.1 560.2 282.1 564.1 281.1 583.1 280.7ZM708.6 285.1 716.1 285.1 719.9 286.6 719.2 287.1 712.1 287.4 707.6 288.9 706.6 288.8 705.6 288.1 705.1 286.6 705.6 285.6ZM633.6 287.1 678.6 287.1 682.6 287.6 685.8 289.1 686.9 290.1 686.6 290.7 684.1 292.1 681.6 292.7 637.6 292.8 633.1 292.6 628.6 290.1 629.1 289.1ZM705.6 295.0 709.1 294.7 747.1 294.9 749.9 295.6 752.3 297.1 751.4 298.1 748.1 299.7 734.6 300.1 671.6 299.7 669.1 299.3 667.1 298.1 668.1 297.1 671.1 296.4 698.6 296.3 703.1 295.8ZM266.6 295.6 295.6 295.9 313.1 296.6 317.6 297.2 357.1 297.1 359.1 297.6 359.3 300.1 358.6 301.1 355.1 301.4 333.1 300.5 309.1 301.2 303.6 301.0 292.1 301.6 255.8 301.6 245.1 302.8 216.6 301.5 185.6 302.4 183.4 302.6 183.5 303.1 193.6 303.6 223.1 303.9 225.6 304.5 226.5 305.6 225.1 306.7 223.1 307.1 193.1 307.5 185.6 308.1 178.7 311.1 177.6 311.3 151.1 312.5 135.1 312.3 135.1 308.4 142.8 308.1 135.1 307.9 135.1 303.2 154.6 303.1 155.3 303.1 155.6 302.6 135.1 302.6 135.1 298.7 191.6 299.5 224.1 300.7 229.6 299.2 246.6 298.1 254.1 295.8ZM403.6 303.1 417.1 303.1 421.6 303.5 470.6 303.5 481.6 304.5 506.1 304.8 510.6 305.9 511.3 306.6 511.1 307.6 511.6 308.1 519.1 308.7 583.1 308.9 584.8 309.1 585.3 309.6 585.5 314.6 586.6 315.3 589.6 315.6 701.6 315.9 703.7 316.1 704.5 316.6 704.6 317.1 703.4 318.1 699.6 319.1 699.8 319.6 704.6 321.9 768.6 322.0 768.6 327.4 716.6 327.3 709.0 327.6 706.6 327.1 705.7 325.1 703.4 323.1 697.6 322.5 671.6 322.4 648.1 323.2 591.6 322.8 586.9 322.1 586.2 321.1 587.1 319.1 585.1 318.2 582.6 317.8 516.6 317.7 516.1 317.6 516.1 317.1 519.1 315.4 519.9 314.1 518.6 312.8 513.1 310.4 506.1 310.1 504.8 309.1 503.1 308.9 480.1 308.9 470.1 308.0 411.6 307.5 409.6 308.1 409.7 309.1 409.1 309.6 406.6 309.9 405.1 310.5 399.1 314.7 387.1 315.3 381.6 315.3 378.6 314.8 364.6 315.5 362.1 316.1 361.4 317.6 358.6 318.1 257.6 318.3 254.3 318.1 253.2 317.6 253.0 317.1 253.7 310.6 254.1 310.1 256.1 309.8 265.6 309.4 374.6 309.4 376.1 309.0 380.6 305.9 394.1 305.6 399.1 303.4ZM728.1 310.0 768.6 309.9 768.6 314.6 739.6 314.6 729.1 315.3 726.6 314.7 723.9 313.1 723.6 312.6 723.8 312.1ZM479.1 320.6 490.6 320.6 498.1 320.2 542.6 320.2 545.3 320.6 548.9 322.6 547.8 323.6 544.1 325.2 526.1 325.7 490.6 325.5 471.6 326.3 459.1 326.3 456.1 325.9 454.0 324.6 455.3 323.6 457.6 323.0 472.6 322.7ZM135.6 323.8 170.6 323.8 192.1 325.2 244.1 326.1 250.6 326.7 255.1 328.0 266.1 328.3 282.6 328.3 290.1 328.8 330.6 328.5 332.6 328.9 337.1 331.1 357.6 331.3 360.1 331.6 360.5 332.1 359.6 333.6 357.2 334.1 335.1 334.3 333.6 334.8 330.1 337.1 326.6 337.7 291.1 337.6 289.1 337.1 285.4 335.1 283.6 334.8 254.6 334.6 249.6 333.9 246.1 333.0 239.6 332.6 217.6 332.2 170.1 332.1 161.6 331.4 152.6 331.7 141.6 332.6 135.1 332.7 135.1 323.8ZM399.6 326.1 448.6 326.2 451.6 326.8 453.4 327.6 453.5 328.1 451.9 329.1 449.6 329.7 433.1 330.1 383.1 329.7 380.6 329.2 378.7 328.1 379.8 327.1 382.6 326.5ZM606.1 333.6 668.1 333.9 670.2 334.1 674.3 336.1 674.0 336.6 671.1 338.1 668.6 338.6 648.6 338.3 623.1 338.8 595.6 338.8 592.6 339.2 589.1 341.3 586.8 342.1 584.6 342.4 531.6 342.6 529.9 343.1 530.5 344.6 527.5 347.1 527.9 347.6 529.6 347.9 545.6 348.0 551.6 348.6 583.1 348.6 595.1 349.7 606.1 349.2 608.5 349.6 611.8 351.1 612.0 351.6 610.4 352.6 606.1 353.8 545.6 353.7 537.1 351.9 512.6 351.8 511.1 351.6 509.5 350.6 511.8 348.6 511.1 348.0 479.6 347.5 476.1 346.6 475.4 345.6 475.4 344.6 474.4 344.1 472.6 344.0 414.6 344.0 397.1 343.7 363.9 344.1 362.2 344.6 361.3 346.1 359.3 347.6 357.9 348.1 340.6 348.4 337.1 349.6 335.1 349.9 303.1 350.0 292.6 349.6 266.6 349.6 254.6 350.0 252.2 350.6 251.7 352.1 250.7 352.6 244.1 353.6 234.6 353.6 229.1 353.2 206.6 353.2 198.6 354.6 151.6 354.6 143.6 355.0 140.6 354.9 135.1 353.4 135.1 351.6 141.1 350.2 185.6 350.4 194.6 350.1 201.6 349.0 230.6 348.9 236.6 348.1 245.1 347.9 246.5 347.6 247.8 346.1 248.6 345.8 253.6 345.2 288.6 345.5 297.6 345.1 330.1 345.1 334.1 344.4 338.6 342.5 357.6 342.3 360.6 341.7 365.1 339.9 368.1 339.5 471.6 339.6 477.1 340.0 480.1 341.3 482.1 341.6 495.1 341.7 497.8 341.1 497.8 340.6 496.4 339.1 497.3 338.1 501.1 336.0 505.1 335.3 583.6 335.6 589.6 335.2 594.1 334.0ZM727.1 343.1 730.6 343.3 734.2 345.1 734.1 345.6 732.0 346.6 728.1 347.1 679.1 347.1 676.6 346.8 675.0 346.1 675.0 345.6 676.1 345.1 679.1 344.7 698.1 344.5 706.1 343.5 723.6 343.4ZM638.6 347.1 648.1 346.8 657.7 347.6 657.2 348.1 656.1 348.3 640.6 348.8 638.0 348.1 637.8 347.6ZM732.6 352.6 768.6 352.6 768.6 357.9 735.6 358.0 728.6 359.8 705.6 359.8 697.2 361.1 694.1 361.2 621.6 360.9 618.9 360.6 615.8 359.1 616.8 358.1 620.1 356.9 633.1 356.6 639.1 355.3 652.1 355.6 683.6 355.2 696.6 355.5 713.6 354.5 724.1 354.4 729.6 352.8ZM366.6 357.1 371.1 356.7 413.6 356.7 421.6 357.2 444.1 357.2 455.1 356.8 457.3 357.1 460.9 359.1 460.9 359.6 459.6 359.9 453.1 360.3 450.6 361.7 449.1 362.1 424.1 362.1 393.6 362.7 370.1 362.6 366.8 363.1 366.2 363.6 365.8 365.1 365.1 365.6 358.1 366.9 317.6 367.0 309.6 368.6 280.1 368.8 279.3 369.1 279.0 370.6 278.1 371.5 274.1 372.5 254.6 372.1 206.1 372.6 180.1 372.2 173.6 372.9 148.1 372.8 142.6 373.3 135.1 373.3 135.1 367.2 159.1 367.2 172.6 366.7 179.6 368.0 198.1 367.7 218.6 368.4 258.1 367.9 260.2 367.6 260.3 367.1 258.0 365.1 257.8 364.1 261.6 361.0 263.6 360.4 310.1 360.6 317.6 361.6 359.1 361.1 363.3 360.6 364.0 360.1 364.3 358.1ZM544.1 360.1 583.6 360.1 588.6 360.5 591.4 361.1 591.3 361.6 587.1 364.4 585.1 364.9 582.1 365.2 547.1 365.2 527.6 364.8 525.1 364.3 523.2 362.6 523.5 362.1 526.0 361.1 531.6 360.3ZM705.6 367.6 710.1 367.2 750.1 367.2 752.1 367.4 752.6 368.1 752.3 369.1 751.2 370.6 749.6 371.2 718.6 371.1 706.4 370.6 705.3 370.1 705.0 369.6 705.1 368.1ZM280.6 371.6 283.1 371.2 302.6 371.2 308.6 371.6 335.6 372.1 342.6 373.9 346.1 374.2 357.8 374.1 369.6 373.3 450.6 373.6 484.1 373.2 489.6 373.7 507.6 373.7 515.6 373.3 561.1 373.2 564.1 373.7 566.1 374.6 567.2 375.6 566.4 376.6 562.6 378.2 551.6 378.4 544.1 378.9 504.6 378.8 497.6 378.3 480.6 378.4 473.1 377.5 449.6 376.9 332.6 377.9 324.6 377.1 281.1 376.9 278.7 376.1 276.7 374.6 276.5 374.1ZM656.1 377.1 695.6 376.8 707.1 377.6 728.1 377.6 732.1 378.4 733.7 379.6 732.6 380.9 729.1 381.5 662.6 381.4 657.1 380.7 655.1 380.1 654.1 379.1 654.1 378.1ZM535.6 380.0 543.6 379.7 551.6 380.3 583.6 380.4 586.7 380.6 592.6 382.0 626.6 382.2 628.1 382.6 630.6 384.3 634.1 385.2 645.1 385.6 650.1 386.8 658.6 387.4 721.6 387.4 730.1 388.3 768.6 388.3 768.6 391.3 730.1 391.3 722.1 392.0 677.6 392.5 671.6 393.0 640.6 393.0 637.1 392.5 632.1 390.4 621.6 390.3 618.6 389.9 616.1 388.8 615.4 388.1 615.5 387.6 617.2 386.1 616.1 385.8 609.6 386.2 592.1 386.1 588.6 385.6 587.5 385.1 586.6 384.0 583.1 383.4 543.1 383.2 541.1 383.5 536.1 385.3 528.1 385.8 501.3 385.6 498.6 385.1 497.6 384.6 497.5 384.1 500.4 382.6 502.6 382.2 508.1 381.7 531.1 381.7 532.6 381.5ZM156.1 382.6 216.1 382.5 219.7 383.1 220.8 383.6 221.1 384.1 220.1 384.6 218.1 384.9 206.1 385.0 201.1 386.1 197.1 386.3 157.1 386.3 154.3 385.6 151.6 384.1 152.0 383.6ZM420.6 382.6 472.6 382.4 480.6 383.2 490.6 383.7 492.4 384.1 493.6 385.1 492.1 385.9 489.1 386.2 421.1 386.1 416.8 385.6 415.6 385.1 415.4 384.6 417.6 383.1ZM207.6 391.1 243.6 391.1 246.1 391.5 249.6 392.6 253.1 393.1 280.1 393.2 282.1 393.7 283.0 394.1 283.0 394.6 281.6 395.3 279.6 395.7 255.6 395.8 252.6 395.6 248.1 394.3 245.6 394.0 224.6 393.9 218.1 394.4 207.6 394.4 204.6 394.0 203.3 393.1 203.1 392.6 204.1 391.7ZM477.6 392.1 491.1 392.0 493.3 392.1 494.2 392.6 492.6 393.8 488.6 395.4 481.6 395.2 469.6 396.3 455.6 396.5 420.6 399.5 399.1 399.8 389.1 398.2 385.7 396.6 384.1 395.6 384.1 395.1 386.1 394.5 414.1 394.6 415.6 394.3 417.6 393.0 420.1 392.6ZM178.6 392.6 191.1 392.4 194.1 392.8 196.6 394.1 197.3 395.6 198.4 396.1 230.6 404.6 234.6 405.9 235.5 407.1 235.1 407.8 233.6 408.0 220.1 406.4 200.1 401.0 177.8 396.6 171.6 396.1 170.1 395.6 169.4 394.6 171.6 393.4Z"/>
<path fill="#ffa500" fill-rule="evenodd" d="M135.6 156.1 281.4 156.1 281.6 157.6 282.1 158.1 285.6 159.5 291.6 160.4 300.1 160.7 308.1 160.4 314.1 159.5 317.9 158.1 318.4 157.6 318.6 156.1 364.3 156.1 364.1 157.1 363.0 158.1 359.6 158.7 357.1 159.6 335.9 169.6 337.6 170.0 344.1 169.8 351.1 168.4 367.6 168.9 391.6 167.8 410.6 168.0 426.3 168.6 434.6 169.7 436.3 170.1 437.9 171.1 437.8 171.6 436.8 172.1 432.9 173.1 426.1 174.1 420.1 174.5 367.6 175.5 356.6 176.2 342.1 175.8 299.1 175.8 285.6 176.6 284.1 177.1 284.2 177.6 289.7 179.6 293.1 181.6 300.6 183.1 357.1 184.0 368.1 185.2 408.6 185.0 426.1 184.6 435.1 182.4 443.7 179.1 450.1 177.4 459.6 176.6 473.1 175.9 481.1 174.6 522.6 174.0 537.6 174.3 542.1 175.6 549.1 179.3 551.1 179.9 557.1 180.5 584.9 180.6 587.0 181.1 587.5 181.6 587.8 183.1 588.5 183.6 592.6 184.5 644.6 188.2 715.1 191.1 732.6 192.1 743.8 193.6 755.1 196.2 768.6 196.8 768.6 203.7 700.6 200.3 672.1 199.7 644.6 198.0 619.1 198.5 583.1 201.5 480.6 199.9 464.5 199.1 457.6 198.1 450.6 195.8 443.6 194.2 426.6 193.0 360.6 191.6 252.1 186.8 165.1 185.5 148.1 184.4 135.1 183.4 135.1 175.0 192.1 175.3 219.1 175.8 222.6 175.5 231.1 173.7 240.9 175.6 247.6 176.3 289.6 175.0 292.2 174.6 292.4 174.1 286.6 173.1 273.0 171.6 254.1 170.5 246.6 169.6 240.1 170.1 231.1 171.7 222.1 169.9 216.1 169.5 179.1 168.5 135.1 168.2 135.1 156.1ZM477.2 184.1 475.4 184.6 473.6 186.6 464.1 188.0 460.6 188.9 459.3 189.6 460.1 190.5 463.6 191.4 471.6 192.3 481.6 191.3 514.1 191.2 524.6 190.0 527.6 188.5 528.6 187.6 528.6 187.1 527.6 186.1 525.1 184.9 517.6 184.0 483.6 183.7ZM637.1 156.1 768.6 156.1 768.6 169.3 736.6 171.7 704.1 173.3 701.1 173.6 697.1 174.7 670.6 173.9 654.1 171.4 634.6 166.4 633.1 164.6 632.8 163.6 634.0 161.6 636.6 158.6ZM766.6 178.1 768.6 178.0 768.6 184.6 756.0 183.6 752.8 182.6 751.2 181.6 751.5 181.1 754.5 180.1ZM135.6 198.3 163.1 199.1 197.1 201.2 220.1 202.3 245.6 202.8 255.6 203.5 302.1 203.0 340.6 201.5 365.6 201.0 415.1 201.5 447.6 202.5 471.6 203.4 478.6 204.8 490.6 205.9 503.8 207.6 515.0 210.6 514.7 211.1 512.4 211.6 503.6 212.7 482.1 212.4 470.6 211.8 409.6 211.8 382.1 212.5 366.6 212.3 362.6 213.0 360.1 214.4 357.1 214.7 254.6 215.2 220.1 212.9 165.1 208.0 135.1 205.7 135.1 198.3ZM666.1 213.6 697.1 213.3 734.6 214.8 768.6 214.8 768.6 224.7 736.6 226.0 706.1 225.6 695.1 226.4 672.1 225.4 641.6 223.5 593.6 223.0 581.1 224.2 559.1 225.3 530.6 227.4 504.6 228.7 484.1 229.0 478.1 229.4 472.1 230.6 468.1 230.9 418.1 233.7 369.6 235.8 364.6 236.3 359.1 237.6 341.1 238.5 328.8 240.1 309.6 241.5 285.6 242.0 258.6 241.7 246.1 240.6 219.1 239.7 191.6 240.3 179.6 240.2 178.1 240.3 176.2 241.6 174.1 242.3 160.6 244.2 135.1 245.3 135.1 234.5 190.1 233.0 217.6 231.5 219.6 231.2 223.1 229.5 229.1 227.9 252.6 226.0 300.6 226.5 310.1 226.8 316.6 227.5 353.6 228.0 367.6 228.9 470.1 223.2 474.1 222.8 481.1 221.4 502.6 220.2 510.6 219.3 533.1 215.3ZM260.5 231.6 247.2 233.1 241.6 234.1 239.5 235.1 241.9 236.1 255.6 238.4 280.6 238.8 299.6 237.6 306.6 235.5 308.1 234.6 308.2 234.1 307.1 233.4 302.6 232.4 295.1 231.6 280.6 231.3ZM135.6 215.0 194.1 218.6 211.1 220.5 218.1 222.0 219.1 222.6 210.6 224.1 204.1 224.5 169.6 225.2 135.1 225.2 135.1 215.0ZM591.1 230.6 595.1 230.3 629.1 231.1 636.1 231.6 640.4 232.6 640.3 233.1 633.9 234.6 626.1 235.6 619.6 236.2 592.6 236.8 584.6 238.3 559.0 238.6 557.6 238.4 554.1 236.1 555.2 235.6 560.1 234.8 585.6 233.1 587.8 232.6 589.6 231.1ZM664.1 237.6 768.6 237.2 768.6 246.2 668.1 246.5 654.6 243.8 645.1 240.1 645.9 239.6 658.6 239.0ZM484.1 239.6 491.6 239.6 483.6 239.6ZM470.1 241.6 482.1 241.2 488.6 241.5 491.1 242.1 492.1 243.1 491.1 243.8 489.1 244.2 479.1 244.3 477.4 245.1 476.7 247.1 475.9 247.6 471.1 248.5 420.6 250.8 370.1 251.7 317.1 254.9 268.6 256.2 254.6 256.4 249.6 256.0 246.0 254.6 242.1 253.7 240.1 252.0 238.6 251.7 200.1 251.4 190.1 251.0 186.1 250.1 186.1 249.6 189.1 248.9 198.1 248.4 240.6 248.6 245.6 248.9 254.1 250.1 281.1 249.4 306.6 248.6 354.6 246.2 359.6 245.7 365.6 244.4 371.1 244.0ZM609.6 248.6 617.6 248.6 629.1 249.4 632.5 250.6 633.7 251.6 633.7 252.1 631.1 254.1 629.1 254.8 617.6 255.8 594.6 256.1 582.6 257.5 531.6 258.3 499.1 260.2 481.4 260.6 478.5 261.1 476.4 263.1 473.1 264.6 463.1 265.5 418.1 268.0 375.6 269.1 307.6 272.0 290.1 272.4 248.1 272.4 235.6 271.5 230.1 270.4 199.6 266.5 160.6 264.0 145.6 263.5 135.1 263.6 135.1 260.1 136.6 260.1 146.6 260.8 170.6 261.1 197.6 262.6 244.1 266.8 261.6 266.1 313.1 265.4 355.5 263.6 360.1 263.2 365.1 261.8 369.6 261.4 418.6 260.1 465.1 257.2 473.1 256.5 483.1 254.3 531.1 250.7 580.1 249.8 593.6 248.7ZM702.1 256.1 768.6 255.9 768.6 263.1 647.1 262.8 638.1 260.6 637.1 260.1 636.9 259.6 638.6 258.7 647.1 256.5 695.1 256.5ZM578.6 264.6 612.1 264.7 616.1 265.3 626.1 265.7 627.6 266.1 628.3 267.1 627.1 267.8 625.6 268.1 611.1 269.0 593.1 269.0 569.6 268.2 566.9 268.6 566.0 269.1 565.3 270.1 562.2 271.6 558.1 272.7 490.6 273.9 480.6 273.9 478.7 273.6 478.1 273.1 480.6 269.5 482.6 268.8 559.6 269.1 561.4 268.6 560.9 267.1 561.1 266.6 562.6 265.9 573.6 265.3ZM651.1 271.6 695.1 271.2 705.6 271.9 723.1 272.0 731.1 273.7 768.6 273.7 768.6 281.3 737.1 281.2 735.1 280.7 729.6 277.2 721.1 276.8 717.6 275.8 706.1 275.7 696.1 274.7 652.6 274.6 650.3 274.1 648.7 273.1 649.1 272.4ZM135.6 274.7 184.1 275.2 205.6 276.0 237.1 276.4 247.1 277.4 248.4 278.1 249.5 279.6 253.6 280.4 310.6 281.6 323.6 282.4 331.1 283.7 358.1 284.5 377.6 285.7 385.6 286.9 462.1 287.4 472.6 287.8 482.6 288.8 521.1 288.8 539.6 290.4 541.6 291.0 543.6 292.6 545.1 293.0 561.6 294.0 584.1 294.1 593.6 294.8 612.6 294.6 615.1 295.1 615.9 295.6 615.9 296.1 614.1 296.9 611.6 297.2 522.1 296.9 517.9 296.1 515.7 295.1 514.1 293.6 512.1 293.4 482.1 293.7 471.6 294.7 434.6 293.6 376.6 293.4 373.1 292.8 368.1 290.3 363.6 289.7 339.6 288.7 312.6 286.6 255.1 286.9 250.1 286.4 247.6 285.1 244.6 284.6 135.1 282.8 135.1 274.7ZM593.1 280.6 618.6 280.5 620.6 281.0 620.9 281.6 619.1 282.4 615.1 282.5 594.6 282.5 591.6 282.1 591.2 281.6 591.5 281.1ZM708.6 296.1 734.6 296.0 737.1 296.5 738.9 297.6 738.6 298.2 737.1 299.0 733.6 299.4 709.6 299.4 704.1 298.6 672.1 298.8 670.1 298.6 669.2 298.1 669.5 297.6 671.6 297.2 700.6 297.3 704.6 297.1ZM253.6 296.6 261.1 296.2 285.1 296.3 301.1 296.8 303.2 297.1 303.6 297.6 301.9 299.1 301.5 300.1 298.6 300.8 255.1 300.9 245.1 302.0 230.6 301.3 228.4 300.6 229.6 300.1 233.6 299.6 247.6 298.7 250.1 298.1ZM135.6 304.0 160.1 303.8 210.6 304.4 222.6 304.6 224.6 305.1 224.8 305.6 222.6 306.4 210.6 306.7 159.1 307.2 135.1 307.0 135.1 304.0ZM400.1 304.0 470.6 303.9 481.1 305.0 506.1 305.3 508.3 305.6 509.5 306.1 509.8 306.6 508.1 307.9 506.1 308.2 481.1 308.1 470.6 307.4 409.6 307.0 406.1 305.9 399.1 305.7 398.1 305.1ZM364.6 310.1 373.6 310.3 375.3 311.1 377.1 312.6 377.6 313.6 375.6 314.4 367.1 314.6 354.6 314.3 290.1 314.5 275.6 314.2 273.4 313.6 272.2 312.6 272.3 312.1 273.6 311.3 276.6 310.8 343.1 311.2 356.1 310.9ZM637.1 316.1 647.6 315.8 696.6 316.1 700.1 316.5 701.1 317.1 699.6 318.1 697.1 318.5 669.6 318.6 667.6 318.7 666.7 319.1 668.1 319.8 671.1 320.3 695.1 320.4 697.3 320.6 697.9 321.1 696.1 321.5 671.1 321.6 665.6 322.2 647.1 322.6 592.6 322.2 590.2 321.6 589.7 321.1 589.8 320.6 593.5 319.1 588.6 317.6 588.1 317.1 588.7 316.6 593.6 316.2ZM481.1 322.6 523.6 322.4 526.0 322.6 526.9 323.1 526.1 323.8 523.6 324.1 484.1 324.1 480.0 323.6 479.9 323.1ZM742.1 323.1 745.1 322.8 768.6 322.8 768.6 326.3 743.6 326.2 741.6 325.9 739.8 325.1 739.6 324.6 739.8 324.1ZM145.1 324.6 171.1 324.4 181.1 325.4 200.1 326.3 244.1 326.9 247.1 327.2 253.1 328.6 262.1 328.8 268.1 329.5 329.6 329.6 331.5 330.1 329.6 330.6 291.1 330.7 289.1 331.1 285.1 333.2 282.6 333.5 256.1 333.5 247.1 332.2 239.6 331.9 169.6 331.6 161.1 330.7 135.1 331.5 135.1 324.6ZM401.1 327.5 435.6 327.5 437.8 327.6 438.7 328.1 438.1 328.7 435.6 328.9 403.1 328.9 400.1 328.6 399.8 328.1ZM614.6 334.1 643.6 334.3 646.6 334.9 647.7 335.6 647.9 336.1 646.1 337.3 643.6 337.7 619.6 338.0 605.6 337.6 603.5 337.1 602.2 336.1 602.9 335.1 605.1 334.5ZM531.6 338.5 534.6 338.1 581.6 338.1 585.1 338.4 585.9 338.6 586.1 339.1 584.6 340.1 582.1 340.3 534.6 340.3 532.1 340.1 530.9 339.6 530.7 339.1ZM367.1 340.1 378.6 339.8 470.6 340.0 474.9 340.6 476.7 342.1 476.0 342.6 472.1 343.1 448.6 343.4 377.1 343.4 366.6 343.1 363.3 342.6 363.2 342.1 365.4 340.6ZM482.6 344.6 511.6 344.4 513.6 344.6 514.7 345.1 514.9 345.6 514.1 346.2 512.1 346.5 484.6 346.5 482.1 346.2 481.4 345.6 481.5 345.1ZM252.6 346.1 264.6 345.7 331.6 345.8 334.1 346.5 336.1 347.9 336.4 348.6 334.1 349.1 310.6 349.4 249.1 349.1 249.0 348.6 251.1 346.6ZM201.1 349.6 230.1 349.6 239.6 349.2 246.1 349.2 247.4 349.6 246.6 351.8 244.6 352.4 206.6 352.3 198.1 354.2 142.6 354.4 140.1 354.1 137.0 352.6 137.2 352.1 139.1 351.3 142.1 350.6 187.1 350.8 194.6 350.5ZM729.6 353.6 768.6 353.3 768.6 357.2 736.1 357.2 734.1 357.4 730.6 358.8 728.6 359.1 705.1 359.1 694.6 359.5 640.6 359.5 637.6 359.0 635.5 357.6 636.9 356.6 639.6 356.0 697.1 356.0 706.1 355.3 724.6 355.0ZM382.1 358.1 417.6 358.0 421.1 358.8 422.3 359.6 422.4 360.1 421.1 361.2 418.1 361.8 386.6 361.9 381.1 361.7 379.1 360.9 378.3 360.1 379.1 359.0ZM545.6 361.1 583.1 361.1 586.6 361.5 587.4 362.1 586.1 363.7 582.1 364.3 546.1 364.3 543.6 364.0 542.0 363.1 541.9 362.6 542.6 361.9ZM281.6 361.6 310.6 361.5 317.6 362.0 358.6 361.9 361.5 362.1 362.9 362.6 363.0 364.1 362.7 365.1 361.6 365.6 356.6 366.3 312.6 366.6 281.6 366.4 278.1 365.4 276.2 364.1 276.3 363.6 277.6 362.8ZM191.1 368.6 197.6 368.3 215.1 368.8 240.1 368.8 273.1 368.2 276.1 368.7 277.8 370.1 277.6 370.6 276.1 371.4 273.1 371.9 254.6 371.8 218.1 372.2 194.1 372.1 186.1 371.3 163.6 371.8 160.4 371.1 159.3 370.1 161.1 369.1 163.6 368.7 174.1 368.6 180.6 369.1ZM331.6 374.1 339.1 374.0 346.6 374.5 358.1 374.5 371.1 373.7 387.1 373.7 393.6 374.4 468.6 374.3 472.6 374.5 473.9 375.1 473.8 375.6 472.6 376.1 470.1 376.3 394.1 376.3 387.1 377.0 368.1 377.0 357.1 377.5 332.1 377.5 329.4 377.1 327.6 376.1 327.7 375.6 328.6 374.9ZM656.6 377.6 659.1 377.3 695.1 377.2 706.6 377.9 728.1 377.9 731.1 378.4 733.1 379.6 733.0 380.1 731.6 380.9 728.6 381.3 661.6 380.9 657.6 380.5 655.3 379.6 654.8 378.6ZM538.1 381.1 581.1 381.2 584.6 381.5 585.3 382.1 540.6 382.4 537.7 381.6ZM419.1 383.1 471.6 382.8 480.1 383.8 490.1 384.0 492.1 384.6 492.4 385.1 491.6 385.6 488.6 385.9 421.1 385.8 418.1 385.5 416.5 384.6 417.4 383.6ZM593.1 383.1 626.1 383.1 630.1 384.9 632.6 385.5 644.6 386.0 651.1 387.4 721.6 387.6 730.6 388.8 768.6 388.8 768.6 391.0 730.6 391.0 722.6 391.9 696.1 392.3 640.1 392.5 637.1 391.9 632.6 389.8 621.6 389.7 619.1 389.3 616.7 388.1 616.7 387.6 619.0 385.6 618.1 385.0 594.6 384.9 592.7 384.6 592.1 384.1 592.1 383.4ZM206.1 392.5 208.6 392.3 240.1 392.3 245.1 392.6 242.1 393.0 209.1 393.3 206.4 393.1ZM438.6 392.6 486.6 392.3 492.0 392.6 491.7 393.1 489.6 394.3 487.6 394.8 480.1 394.8 469.1 396.0 455.1 396.2 421.1 398.8 408.9 398.1 412.3 396.6 419.2 395.1 417.8 394.1 417.9 393.6 419.1 393.1ZM179.1 393.1 191.1 393.1 193.6 393.4 195.6 394.5 195.6 395.6 196.1 396.2 207.6 400.1 204.1 400.4 200.6 400.1 180.1 396.5 172.1 395.8 170.6 395.3 170.1 394.6 172.1 393.6ZM254.1 394.1 280.8 394.1 280.6 394.6 279.1 394.8 259.6 394.9 254.6 394.7 253.8 394.1Z"/>
<path fill="#ff5500" fill-rule="evenodd" d="M135.6 156.1 280.3 156.1 280.7 158.1 284.1 159.6 291.1 160.8 300.1 161.2 308.6 160.8 315.6 159.7 319.1 158.3 319.6 157.6 319.7 156.1 359.0 156.1 358.7 157.6 357.6 158.6 344.6 165.0 334.8 169.1 333.1 170.1 334.6 170.6 343.3 170.1 351.1 168.6 367.6 169.1 392.1 168.0 425.1 168.7 435.1 170.0 437.4 171.1 437.2 171.6 434.5 172.6 428.7 173.6 412.1 174.6 367.6 175.4 356.1 176.1 336.1 175.4 322.1 175.8 290.1 175.9 284.6 176.4 283.6 177.1 284.6 178.1 290.1 180.1 290.5 180.6 289.6 181.2 272.6 181.5 266.1 182.1 280.1 184.6 281.6 184.6 282.6 183.3 284.6 182.5 287.6 182.2 301.6 183.4 356.6 184.3 367.6 185.4 424.6 184.9 434.1 182.8 444.3 179.1 452.6 177.2 473.6 176.0 482.6 174.7 531.6 174.2 539.1 174.7 544.0 176.6 549.1 179.5 551.1 180.0 557.1 180.6 584.6 180.8 586.6 181.4 587.2 183.1 588.1 183.8 594.1 184.8 644.1 188.4 731.6 192.1 745.1 194.0 755.1 196.3 768.6 196.9 768.6 203.6 693.6 199.9 672.6 199.6 644.6 197.8 619.1 198.4 583.1 201.3 480.6 199.8 462.1 198.7 456.6 197.7 450.1 195.5 443.1 194.0 426.6 192.9 369.6 191.8 252.6 186.7 165.1 185.3 148.1 184.3 135.1 183.2 135.1 175.1 219.1 175.9 222.1 175.7 230.6 174.0 242.2 176.1 247.6 176.6 269.1 175.8 290.1 175.5 294.1 174.6 294.1 174.1 291.1 173.5 272.0 171.1 246.6 169.3 241.1 169.6 231.1 171.4 221.6 169.7 202.1 168.9 179.1 168.3 135.1 168.1 135.1 156.1ZM317.8 173.1 318.4 173.1ZM481.5 183.6 475.6 184.2 474.6 184.6 473.7 186.1 472.8 186.6 463.6 187.9 460.1 188.8 458.8 189.6 459.6 190.5 463.1 191.5 471.1 192.4 482.1 191.5 506.6 191.6 515.1 191.3 523.6 190.4 526.6 189.4 528.9 187.6 528.6 186.6 525.6 184.9 518.6 183.9ZM452.0 189.1 449.1 190.1 448.4 190.6 448.7 191.1 451.1 192.1 452.1 192.1 455.2 190.1 454.6 189.6ZM637.6 156.1 768.6 156.1 768.6 169.1 733.1 171.8 701.6 173.3 696.6 174.3 674.1 173.8 654.6 170.8 635.7 166.1 633.9 164.6 633.4 163.6 636.9 158.6 637.2 156.1ZM135.6 198.4 162.6 199.2 197.1 201.4 219.6 202.4 245.6 203.0 255.6 203.6 302.1 203.1 340.6 201.7 366.1 201.2 415.1 201.7 447.6 202.7 471.6 203.6 478.1 204.9 491.1 206.1 502.9 207.6 514.5 210.6 514.1 211.1 511.5 211.6 503.1 212.6 482.1 212.3 470.1 211.6 410.1 211.6 382.1 212.3 366.6 212.2 362.1 212.9 360.1 214.2 356.6 214.6 255.1 215.1 218.4 212.6 166.1 207.9 135.1 205.6 135.1 198.4ZM688.1 213.6 699.1 213.5 735.1 214.9 768.6 214.9 768.6 224.6 736.6 225.8 706.1 225.4 695.1 226.3 672.1 225.3 642.1 223.4 593.1 222.9 580.6 224.0 558.6 225.2 530.6 227.3 504.1 228.6 483.6 228.9 477.6 229.3 472.1 230.4 468.1 230.8 418.1 233.6 366.6 235.9 358.1 237.6 333.1 238.7 329.1 239.7 310.6 241.2 285.6 241.5 259.1 241.3 246.6 240.4 228.6 239.9 219.1 238.6 177.1 238.8 174.8 239.1 174.5 239.6 176.0 240.6 176.0 241.1 175.1 241.7 172.6 242.3 160.1 244.0 135.1 245.0 135.1 234.6 190.6 233.1 218.1 231.6 220.1 231.2 223.3 229.6 229.1 228.0 253.1 226.2 300.1 226.7 310.1 227.0 316.6 227.6 353.6 228.2 367.6 229.0 470.6 223.3 475.6 222.8 481.1 221.6 503.1 220.4 511.6 219.4 533.1 215.4 555.6 214.9 584.1 214.9 598.6 214.4ZM273.2 230.6 261.1 230.8 246.0 232.1 239.0 233.6 235.8 234.6 235.3 235.1 236.9 236.1 240.1 237.2 255.1 238.9 281.1 239.5 301.6 238.2 309.7 236.1 312.4 234.6 313.2 233.6 309.6 232.1 304.6 231.4 291.1 230.5ZM135.6 215.2 192.4 218.6 211.1 220.6 218.1 222.1 218.5 222.6 209.6 224.0 195.1 224.6 169.1 225.1 135.1 225.1 135.1 215.1ZM592.1 230.6 622.1 230.9 634.3 231.6 639.2 232.6 639.1 233.1 635.0 234.1 624.7 235.6 619.1 236.1 592.6 236.7 584.1 238.1 559.6 238.4 557.6 238.0 554.6 236.1 560.1 235.0 586.1 233.3 589.0 232.6 590.5 231.1ZM702.1 237.6 768.6 237.5 768.6 246.0 669.1 246.2 662.1 245.2 654.5 243.1 651.5 241.6 652.1 240.7 653.5 240.1 664.6 237.8ZM458.1 242.1 477.1 241.8 489.1 242.6 489.7 243.1 486.6 243.6 481.1 243.4 478.6 243.9 476.2 245.1 475.4 247.1 474.1 247.7 471.1 248.2 420.1 250.6 370.1 251.5 321.1 254.4 297.1 255.3 254.1 256.1 250.5 255.6 242.6 253.5 241.3 252.6 240.8 251.6 239.6 251.3 200.6 250.9 190.6 250.6 188.8 250.1 189.0 249.6 190.6 249.3 198.1 249.0 242.1 249.1 254.1 250.3 291.1 249.3 355.1 246.4 359.6 246.0 365.3 244.6 370.6 244.1ZM591.6 249.1 617.6 248.9 628.6 249.7 630.3 250.1 631.1 250.6 631.2 251.1 629.4 252.1 630.7 253.6 629.6 254.3 618.1 255.5 594.1 255.8 582.6 257.2 531.6 258.1 499.1 259.9 481.6 260.4 477.2 261.1 475.2 263.1 473.5 264.1 468.1 264.9 418.1 267.7 375.6 268.8 306.6 271.8 248.6 272.2 235.6 271.2 228.6 269.4 201.6 265.9 176.1 263.8 146.6 262.7 141.6 263.3 135.1 263.3 135.1 260.3 136.6 260.3 142.6 260.6 147.1 261.6 171.1 262.1 198.9 263.6 231.6 266.8 243.6 267.3 261.6 266.4 313.1 265.7 358.6 263.7 364.6 262.1 369.6 261.6 418.6 260.4 465.6 257.4 473.1 256.7 480.6 255.0 484.1 254.6 531.1 251.0 580.1 250.0ZM705.6 256.1 768.6 256.0 768.6 262.9 647.6 262.5 645.6 262.3 643.1 261.2 639.1 260.5 638.1 260.1 637.8 259.6 638.6 259.1 642.6 258.2 645.1 257.1 647.1 256.7 696.1 256.7ZM577.1 265.1 581.6 264.8 611.1 265.0 616.1 265.7 625.6 266.0 627.2 266.6 627.2 267.1 625.6 267.6 616.1 268.0 609.6 268.7 578.6 268.3 572.6 267.3 564.6 267.8 563.0 267.1 564.1 266.6 572.1 266.2ZM524.6 270.6 557.6 270.5 559.3 270.6 560.3 271.1 559.7 271.6 557.6 271.8 508.6 272.6 491.1 272.7 489.1 272.1 488.9 271.6 489.6 271.1 492.1 270.8ZM672.6 271.6 695.1 271.6 706.6 272.3 722.1 272.3 731.6 273.9 768.6 273.9 768.6 281.1 737.1 281.0 735.1 280.3 730.1 277.1 721.5 276.6 717.6 275.3 706.6 275.2 697.1 274.3 670.6 274.3 664.6 273.8 652.6 273.7 650.9 273.1 651.3 272.6 653.1 272.3 664.6 272.2ZM135.6 274.9 237.1 276.7 246.6 277.5 247.8 278.1 248.6 279.6 253.1 280.6 307.1 281.6 324.1 282.8 331.6 284.3 358.1 285.1 368.6 286.2 378.6 286.4 385.1 287.3 462.1 287.7 472.6 288.1 482.6 289.2 520.6 289.1 539.6 290.9 541.5 291.6 542.6 293.5 544.6 294.0 561.1 294.9 583.1 294.9 593.1 295.6 612.1 295.5 613.1 295.6 613.5 296.1 521.6 296.1 518.1 295.1 515.6 293.3 512.6 292.9 481.6 293.2 471.6 294.3 434.6 293.4 376.6 293.2 373.1 292.4 367.6 289.3 338.9 288.1 312.1 286.2 255.6 286.7 251.6 286.3 247.7 284.6 244.6 284.3 135.1 282.6 135.1 274.9ZM256.6 297.1 261.6 296.7 285.1 296.8 299.6 297.3 301.3 297.6 301.3 298.1 299.6 300.1 298.1 300.3 255.1 300.1 249.1 300.3 244.6 301.0 236.4 300.6 238.6 300.1 250.6 299.5 252.6 298.8 254.3 297.6ZM710.6 297.1 734.1 297.1 736.2 297.6 735.1 298.3 731.1 298.4 710.6 298.3 708.7 298.1 708.3 297.6ZM422.1 304.6 427.1 304.3 470.1 304.3 481.1 305.8 505.1 306.0 506.9 306.1 507.6 306.6 506.6 307.1 504.1 307.2 426.1 306.7 420.1 306.2 410.3 306.1 408.3 305.1 410.1 304.8ZM135.6 304.9 188.6 305.0 193.6 305.5 211.1 305.6 159.1 306.2 135.1 306.2 135.1 304.9ZM366.6 311.1 372.5 311.1 373.5 311.6 375.0 313.1 367.6 313.6 356.1 313.2 290.6 313.4 276.6 313.1 274.8 312.6 275.2 312.1 278.1 311.9 343.6 312.4 360.1 311.9ZM642.1 316.1 650.6 316.2 656.6 316.9 696.7 317.1 694.6 317.6 665.6 317.7 664.5 318.1 664.6 318.6 666.7 320.1 667.0 320.6 666.8 321.1 663.1 321.8 615.6 322.0 608.6 321.5 593.9 321.1 594.5 320.6 595.6 320.5 609.1 320.4 612.5 319.6 614.4 318.6 613.9 318.1 612.1 317.8 595.6 317.7 594.2 317.6 593.8 317.1 594.1 317.1 635.1 316.9ZM743.1 324.1 768.6 323.9 768.6 325.2 744.1 325.1 742.3 324.6ZM149.6 325.6 174.1 325.5 176.7 326.1 178.6 327.4 181.1 327.8 243.1 327.9 249.1 329.0 262.6 329.3 264.6 329.9 265.3 330.6 263.1 331.9 259.6 332.2 239.6 331.0 169.6 330.8 165.5 330.1 164.5 329.6 164.6 328.6 164.1 328.2 163.1 327.9 151.1 327.7 149.1 327.2 148.2 326.6 148.4 326.1ZM610.6 335.1 615.6 334.7 639.1 334.7 643.3 335.1 645.0 335.6 645.3 336.1 644.1 336.7 639.6 337.3 619.6 337.4 613.6 337.3 606.5 336.6 604.8 336.1 605.6 335.5ZM371.6 340.6 377.6 340.2 448.6 340.2 456.1 340.9 469.6 340.9 471.4 341.1 471.8 341.6 470.1 342.2 456.1 342.2 445.6 342.9 376.6 342.8 367.9 342.1 367.3 341.6 368.1 341.0ZM258.6 346.6 264.6 346.2 311.1 346.2 318.1 346.8 331.1 346.8 333.2 347.6 333.2 348.1 318.1 348.2 310.6 348.9 264.1 348.8 255.1 348.2 254.0 347.6 255.1 346.9ZM198.6 350.6 201.1 350.9 203.2 352.1 202.7 352.6 200.1 353.6 197.6 353.8 143.1 353.9 140.6 353.7 138.5 352.6 139.7 351.6 142.6 351.1 186.6 351.2ZM729.6 354.6 732.6 354.3 768.6 354.3 768.6 356.2 735.1 356.3 733.1 356.7 730.1 358.3 727.1 358.7 641.6 358.4 639.1 358.2 638.1 357.6 638.6 357.1 640.6 356.9 695.6 356.9 706.6 355.8 725.6 355.5ZM381.1 359.0 384.1 358.6 417.1 358.6 420.0 359.1 421.0 360.1 419.6 361.0 417.1 361.3 383.6 361.3 381.6 361.1 380.1 360.5 379.8 360.1 379.9 359.6ZM546.6 362.1 581.1 362.1 583.8 362.6 583.3 363.1 582.1 363.3 571.1 363.3 546.6 363.3 545.0 363.1 544.6 362.6ZM282.6 362.6 354.6 362.5 359.1 363.0 359.8 363.6 360.1 364.6 359.6 365.1 358.1 365.6 355.1 365.8 313.6 366.0 306.6 365.4 282.6 365.3 280.9 365.1 278.8 364.1 280.1 363.1ZM192.1 369.1 272.6 368.9 275.1 369.1 276.7 370.1 275.3 371.1 272.1 371.4 194.6 371.7 191.6 371.4 189.8 370.6 189.8 370.1 190.4 369.6ZM367.6 374.1 387.1 374.1 390.1 374.6 390.8 375.1 390.6 375.6 389.6 376.1 387.1 376.5 368.1 376.6 357.1 377.1 332.5 377.1 330.1 376.8 329.0 376.1 330.0 375.1 332.6 374.7 357.6 374.9ZM682.6 377.6 696.1 377.5 706.1 378.2 728.1 378.2 730.9 378.6 732.6 379.6 731.6 380.6 729.1 381.0 688.1 381.0 680.6 380.4 659.6 380.4 657.6 380.1 655.7 379.1 655.8 378.6 656.6 378.1 658.6 377.7ZM418.6 383.6 421.6 383.3 470.6 383.2 479.6 384.3 489.6 384.5 490.7 384.6 491.1 385.1 487.6 385.6 420.6 385.4 418.6 385.1 417.6 384.6 417.6 384.1ZM621.1 386.1 643.6 386.3 651.6 387.8 722.1 387.8 731.1 389.6 768.6 389.6 768.6 390.2 731.6 390.3 721.6 391.7 640.6 392.2 637.1 391.5 633.1 389.3 621.1 389.2 617.9 388.1 617.8 387.6 618.5 387.1ZM432.1 393.1 441.6 392.7 464.6 392.7 488.4 393.1 488.2 393.6 487.1 393.9 481.1 393.9 469.1 395.7 450.6 396.1 421.1 398.3 419.1 398.1 417.0 397.1 416.9 396.6 417.6 396.3 421.9 395.6 419.8 394.1 419.5 393.6 420.1 393.4ZM178.6 393.6 192.6 393.7 194.6 394.6 194.4 396.1 194.6 396.4 197.2 397.6 196.9 398.1 196.1 398.3 192.1 398.3 181.6 396.2 172.1 395.4 171.0 394.6 172.6 393.9Z"/>
<path fill="#ff2020" fill-rule="evenodd" d="M135.6 156.1 278.8 156.1 278.9 157.6 279.6 158.6 283.1 160.0 291.1 161.3 300.1 161.6 309.1 161.3 317.1 159.9 320.4 158.6 321.1 157.6 321.2 156.1 357.5 156.1 357.3 157.6 356.3 158.6 344.1 164.6 330.6 170.0 324.9 171.1 326.1 171.4 343.6 170.4 351.6 168.8 367.6 169.3 392.1 168.1 425.6 168.9 434.5 170.1 436.5 171.1 435.0 172.1 430.6 173.1 421.0 174.1 367.1 175.2 355.6 175.9 329.6 174.4 322.1 173.2 321.1 172.6 321.4 172.1 321.1 171.9 319.6 171.9 314.6 172.6 314.8 173.1 316.7 173.6 325.2 175.1 321.1 175.6 296.6 175.5 295.0 175.1 295.9 174.6 295.6 174.1 289.1 172.9 270.6 170.6 247.1 169.0 240.6 169.4 230.6 171.1 220.6 169.5 195.1 168.4 135.1 167.9 135.1 156.1ZM637.6 156.1 768.6 156.1 768.6 168.9 733.0 171.6 697.6 173.3 694.6 173.9 677.6 173.6 654.8 170.1 644.1 167.6 640.2 165.6 635.1 164.8 633.9 163.6 637.2 158.6ZM228.6 174.6 231.6 174.4 241.1 176.2 247.1 177.0 269.1 176.0 283.1 176.0 283.8 176.1 283.1 177.1 283.6 177.9 288.4 179.6 289.1 180.3 288.1 180.7 282.6 181.0 266.6 181.3 264.9 181.6 264.6 182.1 267.4 183.1 290.3 186.6 327.1 187.6 331.1 187.4 332.0 187.1 331.9 186.6 325.1 186.0 286.1 184.7 284.6 184.1 285.6 183.5 288.6 183.4 301.1 184.0 325.1 184.6 356.6 184.6 369.1 185.6 424.6 185.0 434.6 182.8 444.9 179.1 452.6 177.4 473.1 176.3 482.6 174.9 522.6 174.3 537.6 174.6 541.2 175.6 548.6 179.5 551.1 180.2 557.1 180.8 584.6 181.0 586.2 181.6 586.5 183.1 587.6 184.0 592.1 184.8 644.1 188.5 720.6 191.6 734.2 192.6 744.9 194.1 754.6 196.4 768.6 197.1 768.6 203.4 700.1 200.0 672.6 199.4 644.6 197.7 618.6 198.2 583.1 201.2 480.6 199.6 463.0 198.6 457.1 197.6 450.6 195.5 443.6 193.9 426.6 192.7 369.6 191.7 251.6 186.5 164.6 185.2 147.9 184.1 135.1 182.8 135.1 175.3 192.6 175.6 219.1 176.1 222.1 175.9ZM478.1 183.6 474.6 184.2 473.8 184.6 473.0 186.1 471.9 186.6 461.1 188.3 458.9 189.1 458.2 189.6 458.4 190.1 464.1 191.9 471.6 192.6 482.1 191.6 506.6 191.8 518.1 191.3 524.1 190.5 527.1 189.3 529.2 187.6 528.9 186.6 526.1 184.9 524.1 184.4 518.6 183.8 506.1 183.4ZM451.8 188.6 447.8 190.1 447.3 190.6 447.5 191.1 450.6 192.6 452.1 192.7 453.6 192.1 456.4 190.1 456.1 189.6 454.9 189.1ZM135.6 198.6 162.6 199.4 196.6 201.5 219.6 202.5 245.6 203.1 255.6 203.8 302.1 203.3 332.1 202.1 364.6 201.4 424.6 202.1 470.3 203.6 477.1 205.0 490.3 206.1 504.6 208.1 513.9 210.6 513.3 211.1 510.4 211.6 503.6 212.4 482.1 212.2 470.6 211.4 409.6 211.4 381.6 212.1 366.6 212.0 362.1 212.5 359.4 214.1 356.1 214.4 254.6 214.9 220.3 212.6 166.6 207.8 135.1 205.4 135.1 198.6ZM690.6 213.6 699.4 213.6 734.6 215.1 768.6 215.1 768.6 224.4 736.6 225.7 706.1 225.3 695.1 226.2 671.8 225.1 642.1 223.2 592.6 222.7 584.3 223.6 559.1 225.0 530.6 227.1 504.1 228.4 479.6 228.9 468.1 230.6 418.1 233.4 370.1 235.5 363.6 236.0 357.6 237.4 331.6 238.3 324.1 239.6 310.1 240.9 259.1 240.8 229.1 239.6 218.6 238.2 176.6 238.3 173.5 239.1 173.3 239.6 175.1 241.1 174.6 241.6 172.5 242.1 160.1 243.7 135.1 244.8 135.1 234.8 190.1 233.3 217.6 231.8 220.1 231.4 223.8 229.6 229.5 228.1 253.1 226.4 300.6 226.9 310.1 227.1 316.6 227.8 353.6 228.4 367.1 229.2 473.1 223.3 482.4 221.6 503.6 220.5 513.1 219.3 533.1 215.6ZM261.3 230.1 243.1 231.8 235.1 233.8 233.2 234.6 232.9 235.1 233.2 235.6 235.4 236.6 240.6 237.9 255.1 239.5 272.6 240.3 282.6 240.1 302.1 238.8 310.7 236.6 314.1 235.0 315.3 233.6 314.6 232.7 312.6 231.9 307.1 230.8 290.6 229.9ZM135.6 215.3 196.1 219.1 210.1 220.6 217.3 222.1 217.7 222.6 211.6 223.7 204.1 224.2 169.6 224.9 135.1 224.9 135.1 215.3ZM594.6 230.6 622.6 231.1 635.1 232.1 637.0 232.6 634.8 233.6 627.6 235.1 623.1 235.6 592.6 236.5 583.1 237.9 559.6 238.1 557.6 237.6 555.3 236.1 560.1 235.1 586.6 233.4 590.2 232.6 591.4 231.1ZM664.1 238.1 768.6 237.8 768.6 245.8 668.6 245.9 661.6 244.7 655.4 242.6 653.8 241.6 654.0 241.1 656.2 240.1ZM463.1 242.1 475.2 242.1 478.0 242.6 478.1 243.1 475.1 244.8 474.3 247.1 470.6 248.0 420.1 250.3 370.1 251.3 317.1 254.3 297.1 255.0 254.1 255.8 242.7 253.1 242.0 252.6 241.6 250.8 240.6 250.3 215.7 250.1 243.1 250.0 254.1 250.5 299.6 249.3 358.6 246.4 366.7 244.6 371.1 244.3ZM608.6 249.1 617.6 249.1 628.6 250.1 629.8 250.6 628.1 252.1 629.6 253.6 629.1 254.1 627.6 254.5 618.1 255.2 593.1 255.5 582.6 256.9 531.1 257.8 499.1 259.6 481.1 260.1 475.7 261.1 473.6 263.6 471.1 264.3 418.1 267.4 382.6 268.3 307.1 271.5 289.6 271.9 249.1 271.9 235.1 270.9 232.4 270.1 231.7 269.6 231.6 269.1 233.6 267.9 236.1 267.5 246.1 267.6 261.6 266.6 313.1 265.9 359.1 263.9 362.6 263.3 366.1 262.1 370.1 261.8 419.6 260.6 472.1 257.1 483.6 254.9 531.6 251.2 580.1 250.3 593.6 249.2ZM701.6 256.6 709.1 256.3 768.6 256.3 768.6 262.7 648.1 262.3 646.1 262.1 643.1 260.5 639.9 259.6 643.1 258.8 645.6 257.3 647.6 257.0 695.6 256.9ZM135.6 260.6 142.6 260.9 144.5 261.6 144.5 262.1 142.1 262.9 135.1 263.1 135.1 260.6ZM579.1 265.1 610.6 265.2 613.1 265.5 615.6 266.4 619.4 266.6 619.4 267.1 615.6 267.2 611.1 268.4 594.6 268.4 578.1 267.9 575.6 267.4 574.6 266.6 576.2 265.6ZM669.6 272.6 694.6 272.5 706.1 273.0 722.6 272.9 731.1 274.2 768.6 274.2 768.6 280.8 737.6 280.8 735.3 280.1 730.1 276.8 721.6 276.3 720.9 276.1 719.6 274.7 718.6 274.4 708.6 274.5 697.1 273.5 671.6 273.6 669.1 273.1ZM135.6 275.2 237.6 276.9 245.9 277.6 247.1 278.1 247.9 279.6 248.6 280.0 253.1 280.8 310.6 282.1 324.6 283.1 331.6 285.1 357.6 286.0 360.2 286.6 360.3 287.1 359.1 287.6 353.1 287.7 323.1 286.7 311.1 285.9 256.1 286.5 252.6 286.2 249.3 284.6 245.1 284.1 135.1 282.3 135.1 275.2ZM375.1 287.1 386.1 287.6 462.6 288.0 472.6 288.3 482.6 289.9 520.1 289.9 538.4 291.6 535.1 291.9 521.6 291.3 516.6 292.3 483.1 292.4 471.1 294.1 422.6 292.9 376.6 292.9 373.3 292.1 370.0 290.1 370.0 289.1 370.6 288.7ZM260.6 297.6 285.6 297.7 298.1 298.1 298.6 298.1 298.9 298.6 297.6 299.4 292.1 299.6 261.6 299.2 259.1 298.6 259.0 298.1ZM425.1 305.1 468.6 305.0 471.1 305.1 472.5 305.6 469.1 306.1 453.6 306.1 427.1 306.0 424.2 305.6ZM640.1 316.6 651.6 316.5 653.5 317.1 654.1 318.3 654.9 318.6 663.6 318.9 665.1 319.6 665.6 320.1 665.5 320.6 664.6 321.1 662.6 321.4 647.6 321.7 640.6 321.2 615.6 321.2 614.3 321.1 613.4 320.6 616.1 319.9 638.6 319.9 639.3 319.6 639.4 319.1 638.2 317.6 638.5 317.1ZM254.1 330.1 261.1 330.0 262.1 330.1 262.8 330.6 259.6 331.2 255.5 331.1 253.0 330.6ZM614.1 335.6 638.6 335.5 640.1 335.6 640.7 336.1 638.1 336.5 621.1 336.5 613.3 336.1ZM375.1 341.1 448.1 341.0 450.9 341.1 451.4 341.6 447.6 342.1 378.1 342.1 374.6 341.6ZM263.1 347.1 310.6 347.0 312.3 347.1 313.4 347.6 312.1 348.1 307.6 348.2 264.6 348.1 261.6 347.6ZM196.6 351.6 199.1 351.6 200.6 352.1 200.1 352.7 197.1 353.1 143.6 353.2 140.6 352.6 141.0 352.1 143.1 351.9 187.6 351.9ZM706.1 356.6 725.1 356.4 726.8 356.6 728.6 357.6 708.6 357.9 705.2 357.6 704.7 357.1ZM382.6 359.6 416.6 359.5 418.2 359.6 418.8 360.1 416.1 360.5 384.6 360.5 382.0 360.1ZM313.6 363.6 353.6 363.6 355.6 363.9 356.5 364.6 353.1 365.1 314.1 365.2 311.4 364.6 311.8 364.1ZM196.1 369.6 214.6 370.0 272.1 369.8 274.6 370.1 273.6 370.6 272.1 370.7 196.6 370.9 192.5 370.6 192.4 370.1 193.1 369.9ZM366.1 375.1 384.6 374.8 388.1 375.1 387.6 375.6 386.6 375.7 363.1 375.8 357.1 376.3 331.3 376.1 331.8 375.6 333.1 375.5 357.6 375.7 363.6 375.5ZM683.1 378.1 695.1 377.7 705.6 378.5 728.1 378.5 730.6 378.8 732.0 379.6 731.1 380.5 729.1 380.8 688.1 380.8 680.1 379.7 659.6 379.7 657.5 379.1 657.8 378.6 659.1 378.5 679.1 378.4ZM420.1 384.1 471.7 384.1 471.4 384.6 470.1 384.6 422.6 384.7 420.5 384.6ZM621.1 387.1 643.6 386.9 651.6 388.1 722.1 388.0 727.5 389.1 728.5 389.6 728.6 390.1 725.5 391.1 721.6 391.5 640.6 391.9 636.6 390.9 635.3 390.1 634.1 388.8 633.1 388.5 621.6 388.4 620.0 388.1 619.7 387.6ZM439.1 393.1 468.6 393.0 475.2 393.6 475.7 394.1 469.1 395.4 441.1 396.0 435.1 394.9 424.6 394.8 422.8 394.1 434.6 393.9ZM174.6 394.6 190.6 394.4 192.6 394.6 192.8 395.1 192.3 396.1 192.6 397.1 191.6 397.2 182.1 395.3Z"/>
<path fill="#ffaaaa" fill-rule="evenodd" d="M135.6 156.1 275.8 156.1 275.9 157.6 276.6 158.4 281.6 160.3 290.1 161.7 300.1 162.2 310.1 161.7 318.6 160.2 322.0 159.1 323.6 158.2 324.1 157.6 324.2 156.1 356.3 156.1 356.1 157.6 354.3 159.1 338.1 166.4 327.6 169.8 323.6 170.8 314.6 172.0 313.1 172.6 313.3 173.1 314.1 173.4 320.0 175.1 306.6 175.3 298.3 175.1 297.2 174.1 294.1 173.3 271.6 170.4 247.6 168.7 241.1 169.0 230.6 170.8 221.1 169.3 195.1 168.2 135.1 167.7 135.1 156.1ZM638.1 156.1 768.6 156.1 768.6 168.7 737.4 171.1 709.1 172.7 697.1 172.7 692.1 173.2 685.6 172.7 678.6 172.8 665.6 171.4 657.1 169.8 648.1 167.9 640.6 165.1 635.1 164.3 634.5 163.6 634.6 163.1 637.3 159.1 637.9 156.1ZM385.1 168.6 410.1 168.5 426.0 169.1 429.7 170.1 427.6 170.6 426.9 171.1 427.6 171.8 430.8 172.6 426.1 173.6 420.1 173.9 367.6 175.0 353.6 175.7 351.0 175.6 347.6 174.8 329.1 173.8 324.7 173.1 323.7 172.6 327.6 171.9 345.1 170.5 351.1 169.1 367.6 169.5ZM229.6 174.6 247.1 177.3 281.6 176.2 282.6 176.6 282.7 177.6 283.4 178.1 287.5 179.6 287.8 180.1 282.1 180.6 266.1 180.9 264.1 181.4 263.6 182.1 264.1 182.6 266.1 183.3 290.1 187.1 328.1 188.1 332.1 187.9 334.6 186.3 336.6 186.0 354.1 185.0 370.1 185.8 424.6 185.2 435.1 182.9 444.0 179.6 452.2 177.6 474.1 176.4 482.6 175.1 522.6 174.5 537.1 174.8 540.7 175.6 548.1 179.5 550.6 180.3 557.1 181.0 583.9 181.1 585.4 181.6 585.8 183.1 586.9 184.1 591.1 184.9 644.6 188.7 715.1 191.6 732.7 192.6 743.7 194.1 754.1 196.6 768.6 197.3 768.6 203.2 702.6 199.8 672.1 199.2 644.6 197.5 619.1 198.0 582.6 201.0 481.1 199.4 464.5 198.6 458.0 197.6 451.1 195.4 444.1 193.7 426.6 192.5 360.6 191.1 252.1 186.3 164.6 184.9 148.1 183.9 135.1 182.3 135.1 175.5 219.1 176.3 223.1 175.9ZM475.8 183.6 473.6 184.2 472.2 186.1 470.7 186.6 464.1 187.4 457.6 189.3 451.6 188.2 447.7 189.6 446.4 190.6 446.5 191.1 447.6 191.8 451.6 193.2 453.1 192.9 457.6 190.4 465.1 192.2 472.1 192.9 482.6 191.8 514.1 191.8 519.6 191.4 525.1 190.5 528.1 189.0 529.6 187.6 529.3 186.6 528.8 186.1 525.6 184.5 517.6 183.5 483.1 183.2ZM135.6 198.8 163.1 199.6 197.1 201.7 220.1 202.8 244.6 203.3 255.1 204.0 302.1 203.5 340.1 202.1 364.6 201.5 415.1 202.0 432.1 202.5 470.6 203.9 477.6 205.3 488.4 206.1 503.7 208.1 513.1 210.6 512.2 211.1 503.6 212.2 482.6 211.9 471.1 211.2 409.6 211.2 366.1 211.8 361.6 212.3 359.1 213.8 356.1 214.2 254.6 214.7 216.8 212.1 163.6 207.3 135.1 205.2 135.1 198.8ZM666.1 214.1 696.6 213.8 734.6 215.3 768.6 215.3 768.6 224.2 736.6 225.5 706.1 225.1 695.1 225.9 676.6 225.2 641.6 223.0 593.1 222.5 581.6 223.6 558.6 224.8 526.1 227.2 504.6 228.2 478.6 228.8 474.6 229.3 471.3 230.1 464.2 230.6 418.6 233.2 366.1 235.5 362.1 235.9 358.6 237.1 356.6 237.3 327.1 238.0 321.6 239.3 309.1 240.5 298.6 240.5 294.5 240.1 304.6 239.1 311.1 237.2 316.1 235.1 317.8 233.6 318.0 232.6 312.3 230.6 307.6 230.1 290.6 229.3 261.1 229.6 240.1 231.5 231.4 234.1 229.6 235.1 231.3 236.1 235.1 237.5 246.5 239.1 247.2 239.6 229.1 239.3 219.1 237.8 176.6 237.9 173.1 238.7 172.4 239.6 174.2 241.1 173.5 241.6 170.6 242.1 158.0 243.6 135.1 244.5 135.1 235.0 190.6 233.5 218.1 232.0 220.6 231.5 223.1 230.1 229.1 228.4 253.1 226.6 300.6 227.0 309.6 227.3 316.1 228.0 354.1 228.5 367.6 229.4 474.1 223.4 482.1 221.9 502.6 220.8 514.1 219.4 533.1 215.8ZM135.6 215.5 194.1 219.1 208.6 220.6 216.4 222.1 216.7 222.6 210.1 223.7 195.6 224.2 169.6 224.7 135.1 224.7 135.1 215.5ZM592.6 231.1 595.1 230.9 621.6 231.3 627.9 231.6 629.1 232.1 628.1 233.1 628.7 234.1 628.4 234.6 620.1 235.7 592.1 236.3 588.1 236.7 584.2 237.6 579.6 237.8 559.6 237.8 557.4 237.1 556.0 236.1 562.6 235.1 588.6 233.4 591.1 232.7ZM663.1 238.6 768.6 238.1 768.6 245.5 669.1 245.6 662.4 244.6 657.2 242.6 656.2 241.6 656.8 240.6 658.0 240.1ZM454.1 242.6 471.6 242.3 474.8 242.6 475.6 243.1 474.0 244.6 473.1 247.1 470.6 247.7 419.6 250.1 361.6 251.4 306.6 254.5 255.1 255.5 244.0 253.1 242.8 252.6 242.6 252.1 244.1 251.3 249.1 251.0 306.6 249.4 355.1 246.9 361.6 246.4 366.1 245.1 370.1 244.6ZM592.1 249.6 616.6 249.4 626.8 250.1 628.6 250.6 627.3 252.1 628.5 253.6 627.1 254.2 617.1 255.0 592.1 255.2 582.1 256.6 531.6 257.6 499.1 259.3 480.6 259.9 475.1 260.7 474.3 261.1 473.3 263.1 472.6 263.6 469.8 264.1 417.8 267.1 375.6 268.3 307.1 271.3 289.6 271.6 252.1 271.8 236.1 270.7 232.7 269.6 232.8 269.1 233.5 268.6 236.1 268.0 246.6 268.0 254.1 267.2 261.6 266.9 313.1 266.2 359.6 264.1 363.6 263.6 366.6 262.4 370.1 262.0 419.6 260.9 472.6 257.4 484.2 255.1 530.6 251.5 580.1 250.6ZM705.1 256.6 768.6 256.5 768.6 262.5 649.1 262.0 646.5 261.6 646.5 261.1 648.5 259.6 645.9 258.1 646.1 257.6 649.1 257.2 696.1 257.2ZM135.6 260.8 141.6 261.1 143.3 261.6 143.2 262.1 141.6 262.5 135.1 262.8 135.1 260.8ZM577.6 265.6 610.1 265.5 611.7 265.6 612.5 266.1 612.5 267.1 612.4 267.6 610.1 268.1 594.6 268.1 578.6 267.7 576.2 267.1 575.7 266.6 576.0 266.1ZM723.1 273.9 725.6 273.7 731.6 274.5 768.6 274.5 768.6 280.6 737.1 280.4 735.6 279.9 730.1 276.5 722.6 276.2 721.3 275.6 721.9 274.6ZM135.6 275.5 237.1 277.2 245.6 277.9 246.2 278.1 247.8 280.1 252.1 280.9 306.6 282.2 324.6 283.4 327.4 284.1 328.5 284.6 328.6 285.1 326.6 285.9 324.1 286.3 305.6 285.6 256.6 286.3 253.1 285.9 250.6 284.4 245.6 283.8 135.1 282.1 135.1 275.5ZM375.1 287.6 470.6 288.5 477.1 289.6 477.8 290.1 478.1 291.1 477.9 292.1 477.3 292.6 471.1 293.7 422.6 292.7 376.9 292.6 374.2 292.1 370.7 290.1 371.2 289.1ZM640.1 317.0 642.6 316.7 650.6 316.8 652.2 317.1 652.8 317.6 652.8 318.6 653.6 319.0 662.6 319.3 664.6 320.1 664.1 320.7 662.1 321.0 645.3 321.1 643.6 320.6 639.6 318.2 639.3 317.6ZM686.1 378.1 697.6 378.1 705.1 378.9 728.1 378.8 730.5 379.1 731.3 379.6 730.6 380.3 728.6 380.5 690.1 380.5 685.6 380.4 683.1 379.6 683.0 379.1 683.7 378.6ZM641.1 387.6 651.6 388.4 721.6 388.2 726.3 389.1 727.4 389.6 727.5 390.1 724.2 391.1 721.6 391.3 641.6 391.6 638.1 391.2 635.7 389.6 636.1 388.8 637.1 388.3ZM438.6 393.6 442.1 393.3 467.6 393.3 471.1 393.6 472.4 394.1 471.9 394.6 468.6 395.2 441.6 395.5 439.1 395.2 437.7 394.6 437.6 394.1Z"/></g></g>
<rect x="136" y="157" width="631.5" height="315.5" fill="none" stroke="#000" stroke-width="2" shape-rendering="crispEdges"/>
<rect x="147" y="158" width="1" height="4" fill="#000"/>
<rect x="147" y="469" width="1" height="3" fill="#000"/>
<rect x="159" y="158" width="1" height="4" fill="#000"/>
<rect x="159" y="469" width="1" height="3" fill="#000"/>
<rect x="172" y="158" width="1" height="4" fill="#000"/>
<rect x="172" y="469" width="1" height="3" fill="#000"/>
<rect x="185" y="158" width="1" height="4" fill="#000"/>
<rect x="185" y="469" width="1" height="3" fill="#000"/>
<rect x="197" y="158" width="2" height="9" fill="#000"/>
<rect x="197" y="463" width="2" height="9" fill="#000"/>
<rect x="210" y="158" width="1" height="4" fill="#000"/>
<rect x="210" y="469" width="1" height="3" fill="#000"/>
<rect x="223" y="158" width="1" height="4" fill="#000"/>
<rect x="223" y="469" width="1" height="3" fill="#000"/>
<rect x="236" y="158" width="1" height="4" fill="#000"/>
<rect x="236" y="469" width="1" height="3" fill="#000"/>
<rect x="248" y="158" width="1" height="4" fill="#000"/>
<rect x="248" y="469" width="1" height="3" fill="#000"/>
<rect x="260" y="158" width="2" height="9" fill="#000"/>
<rect x="260" y="463" width="2" height="9" fill="#000"/>
<rect x="274" y="158" width="1" height="4" fill="#000"/>
<rect x="274" y="469" width="1" height="3" fill="#000"/>
<rect x="287" y="158" width="1" height="4" fill="#000"/>
<rect x="287" y="469" width="1" height="3" fill="#000"/>
<rect x="299" y="158" width="1" height="4" fill="#000"/>
<rect x="299" y="469" width="1" height="3" fill="#000"/>
<rect x="312" y="158" width="1" height="4" fill="#000"/>
<rect x="312" y="469" width="1" height="3" fill="#000"/>
<rect x="324" y="158" width="2" height="9" fill="#000"/>
<rect x="324" y="463" width="2" height="9" fill="#000"/>
<rect x="337" y="158" width="1" height="4" fill="#000"/>
<rect x="337" y="469" width="1" height="3" fill="#000"/>
<rect x="350" y="158" width="1" height="4" fill="#000"/>
<rect x="350" y="469" width="1" height="3" fill="#000"/>
<rect x="363" y="158" width="1" height="4" fill="#000"/>
<rect x="363" y="469" width="1" height="3" fill="#000"/>
<rect x="376" y="158" width="1" height="4" fill="#000"/>
<rect x="376" y="469" width="1" height="3" fill="#000"/>
<rect x="387" y="158" width="2" height="9" fill="#000"/>
<rect x="387" y="463" width="2" height="9" fill="#000"/>
<rect x="401" y="158" width="1" height="4" fill="#000"/>
<rect x="401" y="469" width="1" height="3" fill="#000"/>
<rect x="414" y="158" width="1" height="4" fill="#000"/>
<rect x="414" y="469" width="1" height="3" fill="#000"/>
<rect x="426" y="158" width="1" height="4" fill="#000"/>
<rect x="426" y="469" width="1" height="3" fill="#000"/>
<rect x="439" y="158" width="1" height="4" fill="#000"/>
<rect x="439" y="469" width="1" height="3" fill="#000"/>
<rect x="451" y="158" width="2" height="9" fill="#000"/>
<rect x="451" y="463" width="2" height="9" fill="#000"/>
<rect x="465" y="158" width="1" height="4" fill="#000"/>
<rect x="465" y="469" width="1" height="3" fill="#000"/>
<rect x="477" y="158" width="1" height="4" fill="#000"/>
<rect x="477" y="469" width="1" height="3" fill="#000"/>
<rect x="490" y="158" width="1" height="4" fill="#000"/>
<rect x="490" y="469" width="1" height="3" fill="#000"/>
<rect x="503" y="158" width="1" height="4" fill="#000"/>
<rect x="503" y="469" width="1" height="3" fill="#000"/>
<rect x="515" y="158" width="2" height="9" fill="#000"/>
<rect x="515" y="463" width="2" height="9" fill="#000"/>
<rect x="528" y="158" width="1" height="4" fill="#000"/>
<rect x="528" y="469" width="1" height="3" fill="#000"/>
<rect x="541" y="158" width="1" height="4" fill="#000"/>
<rect x="541" y="469" width="1" height="3" fill="#000"/>
<rect x="554" y="158" width="1" height="4" fill="#000"/>
<rect x="554" y="469" width="1" height="3" fill="#000"/>
<rect x="566" y="158" width="1" height="4" fill="#000"/>
<rect x="566" y="469" width="1" height="3" fill="#000"/>
<rect x="578" y="158" width="2" height="9" fill="#000"/>
<rect x="578" y="463" width="2" height="9" fill="#000"/>
<rect x="592" y="158" width="1" height="4" fill="#000"/>
<rect x="592" y="469" width="1" height="3" fill="#000"/>
<rect x="605" y="158" width="1" height="4" fill="#000"/>
<rect x="605" y="469" width="1" height="3" fill="#000"/>
<rect x="617" y="158" width="1" height="4" fill="#000"/>
<rect x="617" y="469" width="1" height="3" fill="#000"/>
<rect x="630" y="158" width="1" height="4" fill="#000"/>
<rect x="630" y="469" width="1" height="3" fill="#000"/>
<rect x="642" y="158" width="2" height="9" fill="#000"/>
<rect x="642" y="463" width="2" height="9" fill="#000"/>
<rect x="655" y="158" width="1" height="4" fill="#000"/>
<rect x="655" y="469" width="1" height="3" fill="#000"/>
<rect x="668" y="158" width="1" height="4" fill="#000"/>
<rect x="668" y="469" width="1" height="3" fill="#000"/>
<rect x="681" y="158" width="1" height="4" fill="#000"/>
<rect x="681" y="469" width="1" height="3" fill="#000"/>
<rect x="694" y="158" width="1" height="4" fill="#000"/>
<rect x="694" y="469" width="1" height="3" fill="#000"/>
<rect x="705" y="158" width="2" height="9" fill="#000"/>
<rect x="705" y="463" width="2" height="9" fill="#000"/>
<rect x="719" y="158" width="1" height="4" fill="#000"/>
<rect x="719" y="469" width="1" height="3" fill="#000"/>
<rect x="732" y="158" width="1" height="4" fill="#000"/>
<rect x="732" y="469" width="1" height="3" fill="#000"/>
<rect x="744" y="158" width="1" height="4" fill="#000"/>
<rect x="744" y="469" width="1" height="3" fill="#000"/>
<rect x="757" y="158" width="1" height="4" fill="#000"/>
<rect x="757" y="469" width="1" height="3" fill="#000"/>
<rect x="137" y="453" width="4" height="1" fill="#000"/>
<rect x="763" y="453" width="4" height="1" fill="#000"/>
<rect x="137" y="433" width="4" height="1" fill="#000"/>
<rect x="763" y="433" width="4" height="1" fill="#000"/>
<rect x="137" y="413" width="4" height="1" fill="#000"/>
<rect x="763" y="413" width="4" height="1" fill="#000"/>
<rect x="137" y="393" width="8" height="2" fill="#000"/>
<rect x="759" y="393" width="8" height="2" fill="#000"/>
<rect x="137" y="374" width="4" height="1" fill="#000"/>
<rect x="763" y="374" width="4" height="1" fill="#000"/>
<rect x="137" y="354" width="4" height="1" fill="#000"/>
<rect x="763" y="354" width="4" height="1" fill="#000"/>
<rect x="137" y="334" width="4" height="1" fill="#000"/>
<rect x="763" y="334" width="4" height="1" fill="#000"/>
<rect x="137" y="314" width="8" height="2" fill="#000"/>
<rect x="759" y="314" width="8" height="2" fill="#000"/>
<rect x="137" y="295" width="4" height="1" fill="#000"/>
<rect x="763" y="295" width="4" height="1" fill="#000"/>
<rect x="137" y="275" width="4" height="1" fill="#000"/>
<rect x="763" y="275" width="4" height="1" fill="#000"/>
<rect x="137" y="255" width="4" height="1" fill="#000"/>
<rect x="763" y="255" width="4" height="1" fill="#000"/>
<rect x="137" y="235" width="8" height="2" fill="#000"/>
<rect x="759" y="235" width="8" height="2" fill="#000"/>
<rect x="137" y="216" width="4" height="1" fill="#000"/>
<rect x="763" y="216" width="4" height="1" fill="#000"/>
<rect x="137" y="196" width="4" height="1" fill="#000"/>
<rect x="763" y="196" width="4" height="1" fill="#000"/>
<rect x="137" y="176" width="4" height="1" fill="#000"/>
<rect x="763" y="176" width="4" height="1" fill="#000"/>
<rect x="784" y="450.40" width="17.5" height="22.60" fill="#3300aa" stroke="#000" stroke-width="2"/>
<rect x="784" y="427.80" width="17.5" height="22.60" fill="#0000aa" stroke="#000" stroke-width="2"/>
<rect x="784" y="405.20" width="17.5" height="22.60" fill="#0050ff" stroke="#000" stroke-width="2"/>
<rect x="784" y="382.60" width="17.5" height="22.60" fill="#00ffff" stroke="#000" stroke-width="2"/>
<rect x="784" y="360.00" width="17.5" height="22.60" fill="#00f080" stroke="#000" stroke-width="2"/>
<rect x="784" y="337.40" width="17.5" height="22.60" fill="#88ff00" stroke="#000" stroke-width="2"/>
<rect x="784" y="314.80" width="17.5" height="22.60" fill="#ffff00" stroke="#000" stroke-width="2"/>
<rect x="784" y="292.20" width="17.5" height="22.60" fill="#ffa500" stroke="#000" stroke-width="2"/>
<rect x="784" y="269.60" width="17.5" height="22.60" fill="#ff5500" stroke="#000" stroke-width="2"/>
<rect x="784" y="247.00" width="17.5" height="22.60" fill="#ff2020" stroke="#000" stroke-width="2"/>
<path d="M784 247.0 L792.5 206.5 L801.5 247.0 Z" fill="#ffaaaa" stroke="#000" stroke-width="2" stroke-linejoin="miter"/>
<path d="M784 473.0 L792.5 514.5 L801.5 473.0 Z" fill="#8000aa" stroke="#000" stroke-width="2" stroke-linejoin="miter"/>
<text style="font-family:DejaVu Sans,Liberation Sans,sans-serif;font-weight:200" stroke="#000" stroke-width="0.5" x="222.6" y="112.5" font-size="28" textLength="127.2" lengthAdjust="spacingAndGlyphs">potential</text>
<text style="font-family:DejaVu Sans,Liberation Sans,sans-serif;font-weight:200" stroke="#000" stroke-width="0.5" x="362.5" y="112.5" font-size="28" textLength="175.5" lengthAdjust="spacingAndGlyphs">temperature</text>
<text style="font-family:DejaVu Sans,Liberation Sans,sans-serif;font-weight:200" stroke="#000" stroke-width="0.5" x="553.8" y="112.5" font-size="28" textLength="126.5" lengthAdjust="spacingAndGlyphs">deviation</text>
<text stroke="#000" stroke-width="0.45" x="47.5" y="135" font-size="18.5" textLength="84" lengthAdjust="spacingAndGlyphs">(x1E4 m)</text>
<text style="font-family:DejaVu Sans,Liberation Sans,sans-serif;font-weight:200" stroke="#000" stroke-width="0.5" x="778" y="168.7" font-size="15.5" textLength="119" lengthAdjust="spacingAndGlyphs">t=3.1896e+06</text>
<text style="font-family:DejaVu Sans,Liberation Sans,sans-serif;font-weight:200" stroke="#000" stroke-width="0.5" x="378.6" y="546.3" font-size="22.5">X</text>
<text style="font-family:DejaVu Sans,Liberation Sans,sans-serif;font-weight:200" stroke="#000" stroke-width="0.5" x="404.6" y="546.3" font-size="22.5" textLength="121.5" lengthAdjust="spacingAndGlyphs">coordinate</text>
<text style="font-family:DejaVu Sans,Liberation Sans,sans-serif;font-weight:200" stroke="#000" stroke-width="0.5" transform="translate(99,388) rotate(-90)" x="0" y="0" font-size="22.5" textLength="146" lengthAdjust="spacingAndGlyphs">Z coordinate</text>
<text stroke="#000" stroke-width="0.45" x="690" y="518.1" font-size="17.5" textLength="84.5" lengthAdjust="spacingAndGlyphs">(x1E4 m)</text>
<text stroke="#000" stroke-width="0.45" x="197.5" y="494.5" font-size="17.5" text-anchor="middle">1</text>
<text stroke="#000" stroke-width="0.45" x="261.1" y="494.5" font-size="17.5" text-anchor="middle">2</text>
<text stroke="#000" stroke-width="0.45" x="324.7" y="494.5" font-size="17.5" text-anchor="middle">3</text>
<text stroke="#000" stroke-width="0.45" x="388.3" y="494.5" font-size="17.5" text-anchor="middle">4</text>
<text stroke="#000" stroke-width="0.45" x="451.9" y="494.5" font-size="17.5" text-anchor="middle">5</text>
<text stroke="#000" stroke-width="0.45" x="515.5" y="494.5" font-size="17.5" text-anchor="middle">6</text>
<text stroke="#000" stroke-width="0.45" x="579.1" y="494.5" font-size="17.5" text-anchor="middle">7</text>
<text stroke="#000" stroke-width="0.45" x="642.7" y="494.5" font-size="17.5" text-anchor="middle">8</text>
<text stroke="#000" stroke-width="0.45" x="706.3" y="494.5" font-size="17.5" text-anchor="middle">9</text>
<text stroke="#000" stroke-width="0.45" x="126.5" y="399.7" font-size="17.5" text-anchor="end">2</text>
<text stroke="#000" stroke-width="0.45" x="126.5" y="320.7" font-size="17.5" text-anchor="end">4</text>
<text stroke="#000" stroke-width="0.45" x="126.5" y="241.7" font-size="17.5" text-anchor="end">6</text>
<text stroke="#000" stroke-width="0.45" x="810.5" y="275.8" font-size="17.5">0.32</text>
<text stroke="#000" stroke-width="0.45" x="810.5" y="321.0" font-size="17.5">0.16</text>
<text stroke="#000" stroke-width="0.45" x="810.5" y="366.2" font-size="17.5">0</text>
<text stroke="#000" stroke-width="0.45" x="810.5" y="411.4" font-size="17.5">−0.16</text>
<text stroke="#000" stroke-width="0.45" x="810.5" y="456.6" font-size="17.5">−0.32</text>
</svg></body></html>
